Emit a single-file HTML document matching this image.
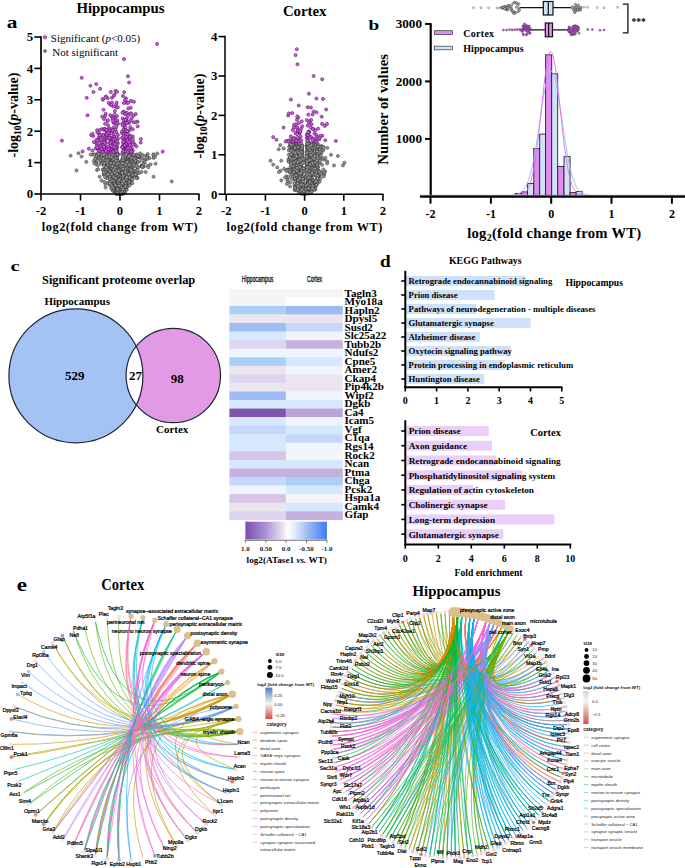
<!DOCTYPE html><html><head><meta charset="utf-8"><title>Figure</title><style>html,body{margin:0;padding:0;background:#fff;overflow:hidden}svg{display:block}.s{font-family:"Liberation Serif", serif;font-weight:normal}.sb{font-family:"Liberation Serif", serif;font-weight:bold}.n{font-family:"Liberation Sans", sans-serif;font-weight:normal}.nb{font-family:"Liberation Sans", sans-serif;font-weight:bold}.k{stroke:#000;stroke-width:0.22px}</style></head><body>
<svg width="685" height="868" viewBox="0 0 685 868">
<rect width="685" height="868" fill="#fff"/>
<text class="sb" font-size="15.7" transform="translate(6.7,28.3) scale(1.36,1)">a</text>
<text class="sb" x="120.5" y="13.2" font-size="14.8" text-anchor="middle">Hippocampus</text>
<text class="sb" x="304.7" y="16.3" font-size="14.8" text-anchor="middle">Cortex</text>
<g fill="#989898" stroke="#2c2c2c" stroke-width="0.5">
<circle cx="112.8" cy="190.5" r="1.55"/><circle cx="125.2" cy="170.2" r="1.55"/><circle cx="117.2" cy="174.4" r="1.55"/><circle cx="118.8" cy="189.4" r="1.55"/><circle cx="114.4" cy="176.4" r="1.55"/><circle cx="111.8" cy="155.0" r="1.55"/><circle cx="123.4" cy="165.6" r="1.55"/><circle cx="129.2" cy="154.3" r="1.55"/><circle cx="128.5" cy="157.6" r="1.55"/><circle cx="115.8" cy="162.4" r="1.55"/><circle cx="113.2" cy="178.7" r="1.55"/><circle cx="110.7" cy="156.0" r="1.55"/><circle cx="104.4" cy="181.8" r="1.55"/><circle cx="112.2" cy="185.1" r="1.55"/><circle cx="125.8" cy="166.1" r="1.55"/><circle cx="122.1" cy="163.0" r="1.55"/><circle cx="124.0" cy="159.3" r="1.55"/><circle cx="123.7" cy="188.0" r="1.55"/><circle cx="115.7" cy="158.4" r="1.55"/><circle cx="137.2" cy="177.7" r="1.55"/><circle cx="113.2" cy="186.6" r="1.55"/><circle cx="127.7" cy="170.9" r="1.55"/><circle cx="109.8" cy="159.3" r="1.55"/><circle cx="109.4" cy="168.5" r="1.55"/><circle cx="125.2" cy="161.9" r="1.55"/><circle cx="128.2" cy="178.9" r="1.55"/><circle cx="126.6" cy="185.3" r="1.55"/><circle cx="110.2" cy="181.9" r="1.55"/><circle cx="132.0" cy="154.6" r="1.55"/><circle cx="126.5" cy="171.8" r="1.55"/><circle cx="105.0" cy="166.2" r="1.55"/><circle cx="115.5" cy="166.7" r="1.55"/><circle cx="131.7" cy="171.4" r="1.55"/><circle cx="115.7" cy="188.9" r="1.55"/><circle cx="125.0" cy="162.4" r="1.55"/><circle cx="112.3" cy="172.5" r="1.55"/><circle cx="118.4" cy="178.1" r="1.55"/><circle cx="137.3" cy="178.0" r="1.55"/><circle cx="103.6" cy="174.4" r="1.55"/><circle cx="111.4" cy="156.4" r="1.55"/><circle cx="104.1" cy="155.3" r="1.55"/><circle cx="130.9" cy="160.8" r="1.55"/><circle cx="136.5" cy="174.3" r="1.55"/><circle cx="117.5" cy="170.7" r="1.55"/><circle cx="133.2" cy="170.2" r="1.55"/><circle cx="126.1" cy="178.1" r="1.55"/><circle cx="121.7" cy="187.1" r="1.55"/><circle cx="128.2" cy="166.8" r="1.55"/><circle cx="153.9" cy="156.0" r="1.55"/><circle cx="126.6" cy="182.6" r="1.55"/><circle cx="128.1" cy="172.1" r="1.55"/><circle cx="118.3" cy="177.1" r="1.55"/><circle cx="114.4" cy="153.2" r="1.55"/><circle cx="108.6" cy="158.0" r="1.55"/><circle cx="118.2" cy="186.9" r="1.55"/><circle cx="122.4" cy="172.0" r="1.55"/><circle cx="132.3" cy="177.0" r="1.55"/><circle cx="126.1" cy="166.7" r="1.55"/><circle cx="132.5" cy="165.3" r="1.55"/><circle cx="100.8" cy="162.8" r="1.55"/><circle cx="127.5" cy="172.9" r="1.55"/><circle cx="105.8" cy="158.4" r="1.55"/><circle cx="119.1" cy="194.0" r="1.55"/><circle cx="112.7" cy="166.0" r="1.55"/><circle cx="98.3" cy="158.2" r="1.55"/><circle cx="126.7" cy="171.0" r="1.55"/><circle cx="107.0" cy="166.7" r="1.55"/><circle cx="117.7" cy="174.4" r="1.55"/><circle cx="115.1" cy="159.0" r="1.55"/><circle cx="108.8" cy="178.0" r="1.55"/><circle cx="117.9" cy="190.8" r="1.55"/><circle cx="122.7" cy="154.7" r="1.55"/><circle cx="128.8" cy="157.5" r="1.55"/><circle cx="121.8" cy="178.4" r="1.55"/><circle cx="117.5" cy="174.1" r="1.55"/><circle cx="122.4" cy="193.5" r="1.55"/><circle cx="134.5" cy="176.2" r="1.55"/><circle cx="105.2" cy="157.8" r="1.55"/><circle cx="113.0" cy="187.1" r="1.55"/><circle cx="117.0" cy="158.0" r="1.55"/><circle cx="137.2" cy="157.6" r="1.55"/><circle cx="133.3" cy="164.9" r="1.55"/><circle cx="126.6" cy="167.9" r="1.55"/><circle cx="109.0" cy="167.4" r="1.55"/><circle cx="139.2" cy="173.1" r="1.55"/><circle cx="128.4" cy="156.3" r="1.55"/><circle cx="115.7" cy="193.5" r="1.55"/><circle cx="121.4" cy="184.3" r="1.55"/><circle cx="102.9" cy="169.5" r="1.55"/><circle cx="120.8" cy="185.4" r="1.55"/><circle cx="111.9" cy="161.0" r="1.55"/><circle cx="115.2" cy="173.6" r="1.55"/><circle cx="119.3" cy="186.2" r="1.55"/><circle cx="117.0" cy="156.9" r="1.55"/><circle cx="122.1" cy="180.7" r="1.55"/><circle cx="96.8" cy="161.5" r="1.55"/><circle cx="118.2" cy="178.3" r="1.55"/><circle cx="125.4" cy="163.5" r="1.55"/><circle cx="100.1" cy="158.6" r="1.55"/><circle cx="116.2" cy="162.3" r="1.55"/><circle cx="136.3" cy="171.7" r="1.55"/><circle cx="117.0" cy="153.4" r="1.55"/><circle cx="149.5" cy="158.1" r="1.55"/><circle cx="128.4" cy="177.7" r="1.55"/><circle cx="125.4" cy="176.6" r="1.55"/><circle cx="106.9" cy="155.5" r="1.55"/><circle cx="129.5" cy="180.4" r="1.55"/><circle cx="109.8" cy="175.7" r="1.55"/><circle cx="124.7" cy="161.1" r="1.55"/><circle cx="116.0" cy="168.9" r="1.55"/><circle cx="129.6" cy="177.0" r="1.55"/><circle cx="132.0" cy="167.4" r="1.55"/><circle cx="118.6" cy="181.6" r="1.55"/><circle cx="113.1" cy="169.8" r="1.55"/><circle cx="124.3" cy="182.0" r="1.55"/><circle cx="105.3" cy="184.1" r="1.55"/><circle cx="111.5" cy="181.9" r="1.55"/><circle cx="142.5" cy="154.9" r="1.55"/><circle cx="137.3" cy="163.0" r="1.55"/><circle cx="122.3" cy="168.1" r="1.55"/><circle cx="130.0" cy="154.7" r="1.55"/><circle cx="116.5" cy="174.8" r="1.55"/><circle cx="117.7" cy="185.6" r="1.55"/><circle cx="130.2" cy="173.3" r="1.55"/><circle cx="153.5" cy="157.9" r="1.55"/><circle cx="128.6" cy="164.6" r="1.55"/><circle cx="122.0" cy="190.5" r="1.55"/><circle cx="118.1" cy="191.7" r="1.55"/><circle cx="115.2" cy="178.9" r="1.55"/><circle cx="117.2" cy="161.8" r="1.55"/><circle cx="112.0" cy="172.6" r="1.55"/><circle cx="118.0" cy="190.6" r="1.55"/><circle cx="117.9" cy="164.1" r="1.55"/><circle cx="124.9" cy="182.0" r="1.55"/><circle cx="117.4" cy="178.8" r="1.55"/><circle cx="116.3" cy="188.0" r="1.55"/><circle cx="115.9" cy="177.8" r="1.55"/><circle cx="139.9" cy="157.5" r="1.55"/><circle cx="132.0" cy="173.9" r="1.55"/><circle cx="111.8" cy="169.9" r="1.55"/><circle cx="121.4" cy="184.1" r="1.55"/><circle cx="122.3" cy="191.4" r="1.55"/><circle cx="144.2" cy="162.1" r="1.55"/><circle cx="128.0" cy="175.6" r="1.55"/><circle cx="123.5" cy="186.6" r="1.55"/><circle cx="118.1" cy="176.8" r="1.55"/><circle cx="117.6" cy="165.3" r="1.55"/><circle cx="112.4" cy="177.8" r="1.55"/><circle cx="117.7" cy="170.4" r="1.55"/><circle cx="120.6" cy="191.9" r="1.55"/><circle cx="115.3" cy="178.7" r="1.55"/><circle cx="103.6" cy="170.8" r="1.55"/><circle cx="107.1" cy="169.0" r="1.55"/><circle cx="118.0" cy="192.4" r="1.55"/><circle cx="119.5" cy="192.1" r="1.55"/><circle cx="128.8" cy="165.0" r="1.55"/><circle cx="126.5" cy="182.8" r="1.55"/><circle cx="120.7" cy="186.1" r="1.55"/><circle cx="113.1" cy="156.0" r="1.55"/><circle cx="130.6" cy="156.9" r="1.55"/><circle cx="137.9" cy="167.5" r="1.55"/><circle cx="119.2" cy="183.3" r="1.55"/><circle cx="118.4" cy="162.9" r="1.55"/><circle cx="96.8" cy="154.0" r="1.55"/><circle cx="115.0" cy="187.4" r="1.55"/><circle cx="123.6" cy="191.5" r="1.55"/><circle cx="118.4" cy="166.7" r="1.55"/><circle cx="121.6" cy="178.1" r="1.55"/><circle cx="125.4" cy="165.2" r="1.55"/><circle cx="124.6" cy="180.7" r="1.55"/><circle cx="111.1" cy="164.0" r="1.55"/><circle cx="119.4" cy="191.2" r="1.55"/><circle cx="114.8" cy="173.4" r="1.55"/><circle cx="116.2" cy="158.7" r="1.55"/><circle cx="118.0" cy="188.0" r="1.55"/><circle cx="122.0" cy="183.7" r="1.55"/><circle cx="120.7" cy="186.6" r="1.55"/><circle cx="123.3" cy="191.3" r="1.55"/><circle cx="122.3" cy="188.6" r="1.55"/><circle cx="131.3" cy="161.8" r="1.55"/><circle cx="113.8" cy="154.6" r="1.55"/><circle cx="133.6" cy="157.4" r="1.55"/><circle cx="124.1" cy="167.7" r="1.55"/><circle cx="104.9" cy="159.5" r="1.55"/><circle cx="115.6" cy="172.4" r="1.55"/><circle cx="98.1" cy="154.3" r="1.55"/><circle cx="103.6" cy="160.5" r="1.55"/><circle cx="121.9" cy="176.4" r="1.55"/><circle cx="123.6" cy="176.1" r="1.55"/><circle cx="113.8" cy="185.2" r="1.55"/><circle cx="103.9" cy="158.3" r="1.55"/><circle cx="110.1" cy="169.3" r="1.55"/><circle cx="128.3" cy="174.7" r="1.55"/><circle cx="112.6" cy="163.6" r="1.55"/><circle cx="113.7" cy="165.0" r="1.55"/><circle cx="124.6" cy="184.6" r="1.55"/><circle cx="123.1" cy="182.3" r="1.55"/><circle cx="121.6" cy="191.4" r="1.55"/><circle cx="157.3" cy="153.5" r="1.55"/><circle cx="117.7" cy="185.9" r="1.55"/><circle cx="105.7" cy="160.3" r="1.55"/><circle cx="136.2" cy="160.9" r="1.55"/><circle cx="117.3" cy="174.9" r="1.55"/><circle cx="122.0" cy="192.3" r="1.55"/><circle cx="123.3" cy="174.5" r="1.55"/><circle cx="110.7" cy="176.8" r="1.55"/><circle cx="125.3" cy="188.9" r="1.55"/><circle cx="118.8" cy="190.7" r="1.55"/><circle cx="113.1" cy="181.6" r="1.55"/><circle cx="122.7" cy="193.4" r="1.55"/><circle cx="103.1" cy="169.8" r="1.55"/><circle cx="121.3" cy="191.0" r="1.55"/><circle cx="134.7" cy="163.5" r="1.55"/><circle cx="123.6" cy="158.2" r="1.55"/><circle cx="114.4" cy="178.8" r="1.55"/><circle cx="117.8" cy="173.2" r="1.55"/><circle cx="121.8" cy="193.3" r="1.55"/><circle cx="118.6" cy="189.8" r="1.55"/><circle cx="111.5" cy="157.0" r="1.55"/><circle cx="134.0" cy="158.9" r="1.55"/><circle cx="124.8" cy="187.8" r="1.55"/><circle cx="118.7" cy="186.6" r="1.55"/><circle cx="121.3" cy="192.5" r="1.55"/><circle cx="116.9" cy="163.9" r="1.55"/><circle cx="119.1" cy="186.6" r="1.55"/><circle cx="134.1" cy="173.3" r="1.55"/><circle cx="119.5" cy="190.4" r="1.55"/><circle cx="114.1" cy="158.6" r="1.55"/><circle cx="132.1" cy="154.5" r="1.55"/><circle cx="108.2" cy="159.9" r="1.55"/><circle cx="107.1" cy="154.6" r="1.55"/><circle cx="113.2" cy="191.0" r="1.55"/><circle cx="121.0" cy="189.8" r="1.55"/><circle cx="105.7" cy="173.8" r="1.55"/><circle cx="100.5" cy="158.1" r="1.55"/><circle cx="122.0" cy="169.4" r="1.55"/><circle cx="121.5" cy="190.0" r="1.55"/><circle cx="117.3" cy="177.0" r="1.55"/><circle cx="121.0" cy="184.0" r="1.55"/><circle cx="142.4" cy="167.0" r="1.55"/><circle cx="117.4" cy="182.9" r="1.55"/><circle cx="130.4" cy="181.9" r="1.55"/><circle cx="117.3" cy="167.7" r="1.55"/><circle cx="112.8" cy="164.5" r="1.55"/><circle cx="116.9" cy="193.9" r="1.55"/><circle cx="123.0" cy="180.0" r="1.55"/><circle cx="116.5" cy="167.6" r="1.55"/><circle cx="116.4" cy="191.1" r="1.55"/><circle cx="127.7" cy="178.0" r="1.55"/><circle cx="117.6" cy="190.0" r="1.55"/><circle cx="113.3" cy="162.7" r="1.55"/><circle cx="127.7" cy="161.6" r="1.55"/><circle cx="123.5" cy="187.3" r="1.55"/><circle cx="117.5" cy="162.2" r="1.55"/><circle cx="116.9" cy="190.8" r="1.55"/><circle cx="125.6" cy="184.3" r="1.55"/><circle cx="112.1" cy="158.7" r="1.55"/><circle cx="112.3" cy="161.5" r="1.55"/><circle cx="121.3" cy="189.7" r="1.55"/><circle cx="121.9" cy="183.7" r="1.55"/><circle cx="118.1" cy="168.6" r="1.55"/><circle cx="115.6" cy="177.7" r="1.55"/><circle cx="112.7" cy="167.4" r="1.55"/><circle cx="117.3" cy="176.1" r="1.55"/><circle cx="131.0" cy="168.0" r="1.55"/><circle cx="126.8" cy="187.2" r="1.55"/><circle cx="118.3" cy="187.5" r="1.55"/><circle cx="130.7" cy="180.1" r="1.55"/><circle cx="116.1" cy="191.7" r="1.55"/><circle cx="112.6" cy="163.3" r="1.55"/><circle cx="116.2" cy="160.6" r="1.55"/><circle cx="135.5" cy="173.5" r="1.55"/><circle cx="107.9" cy="176.7" r="1.55"/><circle cx="121.0" cy="191.5" r="1.55"/><circle cx="111.8" cy="178.5" r="1.55"/><circle cx="127.3" cy="170.7" r="1.55"/><circle cx="124.9" cy="180.6" r="1.55"/><circle cx="109.4" cy="160.3" r="1.55"/><circle cx="130.7" cy="166.4" r="1.55"/><circle cx="123.7" cy="189.2" r="1.55"/><circle cx="123.4" cy="193.2" r="1.55"/><circle cx="121.8" cy="174.6" r="1.55"/><circle cx="121.3" cy="183.9" r="1.55"/><circle cx="129.5" cy="181.4" r="1.55"/><circle cx="115.7" cy="190.7" r="1.55"/><circle cx="106.0" cy="171.0" r="1.55"/><circle cx="121.5" cy="179.2" r="1.55"/><circle cx="128.9" cy="156.1" r="1.55"/><circle cx="130.1" cy="178.9" r="1.55"/><circle cx="128.6" cy="166.6" r="1.55"/><circle cx="130.4" cy="159.4" r="1.55"/><circle cx="118.1" cy="154.1" r="1.55"/><circle cx="118.0" cy="189.6" r="1.55"/><circle cx="111.8" cy="171.4" r="1.55"/><circle cx="130.3" cy="177.2" r="1.55"/><circle cx="126.8" cy="189.8" r="1.55"/><circle cx="124.3" cy="153.2" r="1.55"/><circle cx="128.0" cy="181.7" r="1.55"/><circle cx="109.8" cy="157.8" r="1.55"/><circle cx="124.9" cy="178.0" r="1.55"/><circle cx="122.0" cy="190.7" r="1.55"/><circle cx="121.8" cy="163.7" r="1.55"/><circle cx="113.5" cy="181.0" r="1.55"/><circle cx="108.1" cy="159.1" r="1.55"/><circle cx="116.7" cy="161.2" r="1.55"/><circle cx="106.3" cy="158.7" r="1.55"/><circle cx="123.7" cy="164.1" r="1.55"/><circle cx="122.7" cy="191.5" r="1.55"/><circle cx="115.0" cy="174.2" r="1.55"/><circle cx="135.0" cy="157.0" r="1.55"/><circle cx="116.0" cy="188.8" r="1.55"/><circle cx="131.8" cy="154.0" r="1.55"/><circle cx="110.5" cy="169.4" r="1.55"/><circle cx="118.3" cy="192.2" r="1.55"/><circle cx="119.1" cy="178.8" r="1.55"/><circle cx="124.3" cy="192.0" r="1.55"/><circle cx="113.3" cy="181.5" r="1.55"/><circle cx="113.2" cy="165.1" r="1.55"/><circle cx="117.1" cy="167.0" r="1.55"/><circle cx="94.2" cy="154.3" r="1.55"/><circle cx="123.1" cy="168.6" r="1.55"/><circle cx="114.8" cy="167.3" r="1.55"/><circle cx="113.2" cy="178.2" r="1.55"/><circle cx="118.1" cy="164.9" r="1.55"/><circle cx="122.8" cy="176.3" r="1.55"/><circle cx="123.8" cy="188.7" r="1.55"/><circle cx="113.8" cy="154.3" r="1.55"/><circle cx="107.3" cy="171.4" r="1.55"/><circle cx="95.6" cy="158.0" r="1.55"/><circle cx="127.0" cy="170.8" r="1.55"/><circle cx="110.4" cy="164.0" r="1.55"/><circle cx="125.1" cy="172.2" r="1.55"/><circle cx="113.0" cy="160.3" r="1.55"/><circle cx="110.6" cy="168.4" r="1.55"/><circle cx="124.1" cy="177.8" r="1.55"/><circle cx="124.8" cy="186.1" r="1.55"/><circle cx="99.2" cy="155.2" r="1.55"/><circle cx="120.5" cy="193.0" r="1.55"/><circle cx="155.6" cy="163.7" r="1.55"/><circle cx="126.9" cy="177.1" r="1.55"/><circle cx="86.3" cy="161.9" r="1.55"/><circle cx="131.7" cy="160.7" r="1.55"/><circle cx="126.4" cy="184.2" r="1.55"/><circle cx="121.6" cy="176.6" r="1.55"/><circle cx="115.0" cy="155.0" r="1.55"/><circle cx="103.7" cy="161.6" r="1.55"/><circle cx="121.4" cy="191.9" r="1.55"/><circle cx="127.2" cy="181.1" r="1.55"/><circle cx="114.9" cy="178.4" r="1.55"/><circle cx="114.8" cy="171.0" r="1.55"/><circle cx="109.9" cy="161.1" r="1.55"/><circle cx="124.0" cy="186.7" r="1.55"/><circle cx="123.2" cy="183.0" r="1.55"/><circle cx="108.1" cy="168.7" r="1.55"/><circle cx="123.2" cy="172.3" r="1.55"/><circle cx="122.1" cy="170.7" r="1.55"/><circle cx="96.6" cy="155.9" r="1.55"/><circle cx="112.4" cy="182.4" r="1.55"/><circle cx="105.1" cy="169.8" r="1.55"/><circle cx="125.4" cy="187.4" r="1.55"/><circle cx="138.9" cy="156.7" r="1.55"/><circle cx="117.1" cy="179.4" r="1.55"/><circle cx="111.1" cy="162.4" r="1.55"/><circle cx="132.5" cy="174.2" r="1.55"/><circle cx="108.8" cy="176.1" r="1.55"/><circle cx="112.5" cy="169.0" r="1.55"/><circle cx="109.3" cy="183.8" r="1.55"/><circle cx="111.2" cy="172.1" r="1.55"/><circle cx="118.9" cy="180.7" r="1.55"/><circle cx="118.4" cy="190.5" r="1.55"/><circle cx="102.1" cy="156.5" r="1.55"/><circle cx="124.9" cy="180.5" r="1.55"/><circle cx="108.4" cy="167.5" r="1.55"/><circle cx="116.4" cy="188.4" r="1.55"/><circle cx="100.5" cy="154.2" r="1.55"/><circle cx="108.9" cy="182.6" r="1.55"/><circle cx="106.4" cy="158.2" r="1.55"/><circle cx="113.9" cy="167.8" r="1.55"/><circle cx="141.1" cy="166.1" r="1.55"/><circle cx="132.1" cy="163.9" r="1.55"/><circle cx="113.9" cy="183.7" r="1.55"/><circle cx="128.2" cy="175.4" r="1.55"/><circle cx="125.7" cy="181.5" r="1.55"/><circle cx="116.7" cy="169.7" r="1.55"/><circle cx="102.1" cy="163.0" r="1.55"/><circle cx="121.0" cy="189.0" r="1.55"/><circle cx="118.1" cy="187.0" r="1.55"/><circle cx="123.3" cy="190.6" r="1.55"/><circle cx="99.1" cy="155.0" r="1.55"/><circle cx="114.2" cy="171.9" r="1.55"/><circle cx="122.8" cy="186.0" r="1.55"/><circle cx="136.7" cy="172.6" r="1.55"/><circle cx="116.3" cy="190.0" r="1.55"/><circle cx="132.4" cy="171.3" r="1.55"/><circle cx="112.1" cy="153.5" r="1.55"/><circle cx="125.8" cy="180.3" r="1.55"/><circle cx="116.9" cy="181.3" r="1.55"/><circle cx="118.7" cy="174.2" r="1.55"/><circle cx="123.7" cy="186.0" r="1.55"/><circle cx="126.0" cy="166.7" r="1.55"/><circle cx="124.7" cy="162.8" r="1.55"/><circle cx="127.8" cy="172.8" r="1.55"/><circle cx="123.8" cy="155.4" r="1.55"/><circle cx="118.5" cy="165.3" r="1.55"/><circle cx="126.0" cy="167.7" r="1.55"/><circle cx="132.3" cy="154.0" r="1.55"/><circle cx="133.6" cy="157.8" r="1.55"/><circle cx="140.1" cy="153.4" r="1.55"/><circle cx="116.3" cy="190.5" r="1.55"/><circle cx="134.8" cy="160.9" r="1.55"/><circle cx="115.8" cy="175.5" r="1.55"/><circle cx="115.4" cy="172.0" r="1.55"/><circle cx="110.6" cy="181.8" r="1.55"/><circle cx="124.5" cy="180.1" r="1.55"/><circle cx="109.4" cy="161.8" r="1.55"/><circle cx="119.5" cy="193.0" r="1.55"/><circle cx="110.0" cy="171.2" r="1.55"/><circle cx="118.1" cy="154.5" r="1.55"/><circle cx="94.0" cy="160.7" r="1.55"/><circle cx="132.7" cy="163.3" r="1.55"/><circle cx="118.8" cy="185.8" r="1.55"/><circle cx="153.5" cy="154.3" r="1.55"/><circle cx="118.2" cy="192.8" r="1.55"/><circle cx="108.3" cy="168.9" r="1.55"/><circle cx="125.7" cy="167.5" r="1.55"/><circle cx="127.6" cy="165.3" r="1.55"/><circle cx="121.9" cy="173.5" r="1.55"/><circle cx="130.9" cy="164.0" r="1.55"/><circle cx="118.2" cy="162.7" r="1.55"/><circle cx="118.6" cy="182.0" r="1.55"/><circle cx="107.0" cy="169.4" r="1.55"/><circle cx="98.5" cy="154.0" r="1.55"/><circle cx="126.2" cy="166.7" r="1.55"/><circle cx="116.7" cy="184.2" r="1.55"/><circle cx="108.4" cy="157.8" r="1.55"/><circle cx="99.2" cy="158.4" r="1.55"/><circle cx="114.9" cy="163.4" r="1.55"/><circle cx="130.9" cy="175.7" r="1.55"/><circle cx="125.3" cy="156.3" r="1.55"/><circle cx="116.3" cy="187.0" r="1.55"/><circle cx="129.3" cy="155.2" r="1.55"/><circle cx="123.2" cy="156.7" r="1.55"/><circle cx="112.4" cy="175.0" r="1.55"/><circle cx="112.2" cy="159.7" r="1.55"/><circle cx="118.9" cy="176.7" r="1.55"/><circle cx="126.7" cy="176.7" r="1.55"/><circle cx="126.3" cy="175.3" r="1.55"/><circle cx="114.5" cy="180.6" r="1.55"/><circle cx="107.2" cy="172.7" r="1.55"/><circle cx="155.1" cy="156.8" r="1.55"/><circle cx="106.3" cy="158.1" r="1.55"/><circle cx="122.5" cy="164.3" r="1.55"/><circle cx="120.5" cy="190.7" r="1.55"/><circle cx="127.2" cy="172.1" r="1.55"/><circle cx="127.1" cy="164.8" r="1.55"/><circle cx="118.9" cy="186.8" r="1.55"/><circle cx="121.3" cy="186.8" r="1.55"/><circle cx="119.3" cy="185.9" r="1.55"/><circle cx="121.5" cy="193.7" r="1.55"/><circle cx="123.5" cy="172.3" r="1.55"/><circle cx="112.1" cy="187.8" r="1.55"/><circle cx="115.2" cy="156.4" r="1.55"/><circle cx="127.4" cy="156.7" r="1.55"/><circle cx="131.2" cy="160.9" r="1.55"/><circle cx="115.5" cy="174.5" r="1.55"/><circle cx="109.2" cy="157.3" r="1.55"/><circle cx="121.6" cy="183.7" r="1.55"/><circle cx="124.7" cy="169.7" r="1.55"/><circle cx="127.2" cy="183.7" r="1.55"/><circle cx="122.2" cy="189.8" r="1.55"/><circle cx="129.9" cy="171.7" r="1.55"/><circle cx="136.4" cy="178.3" r="1.55"/><circle cx="127.1" cy="173.0" r="1.55"/><circle cx="126.2" cy="157.8" r="1.55"/><circle cx="105.9" cy="160.9" r="1.55"/><circle cx="118.9" cy="175.4" r="1.55"/><circle cx="134.4" cy="162.3" r="1.55"/><circle cx="124.6" cy="183.9" r="1.55"/><circle cx="121.5" cy="188.2" r="1.55"/><circle cx="122.7" cy="188.7" r="1.55"/><circle cx="118.9" cy="176.3" r="1.55"/><circle cx="124.5" cy="157.7" r="1.55"/><circle cx="116.6" cy="163.0" r="1.55"/><circle cx="121.7" cy="189.2" r="1.55"/><circle cx="119.3" cy="186.4" r="1.55"/><circle cx="128.5" cy="160.6" r="1.55"/><circle cx="125.0" cy="175.6" r="1.55"/><circle cx="102.9" cy="159.6" r="1.55"/><circle cx="108.2" cy="154.7" r="1.55"/><circle cx="92.4" cy="154.7" r="1.55"/><circle cx="114.0" cy="163.7" r="1.55"/><circle cx="135.9" cy="165.5" r="1.55"/><circle cx="130.1" cy="179.6" r="1.55"/><circle cx="115.8" cy="170.3" r="1.55"/><circle cx="116.0" cy="155.8" r="1.55"/><circle cx="128.3" cy="160.9" r="1.55"/><circle cx="134.4" cy="161.1" r="1.55"/><circle cx="116.7" cy="180.1" r="1.55"/><circle cx="113.3" cy="160.5" r="1.55"/><circle cx="134.3" cy="173.8" r="1.55"/><circle cx="126.7" cy="187.0" r="1.55"/><circle cx="124.5" cy="175.5" r="1.55"/><circle cx="109.0" cy="159.1" r="1.55"/><circle cx="129.2" cy="153.3" r="1.55"/><circle cx="119.2" cy="187.3" r="1.55"/><circle cx="116.4" cy="193.8" r="1.55"/><circle cx="125.3" cy="176.8" r="1.55"/><circle cx="116.6" cy="163.2" r="1.55"/><circle cx="107.6" cy="156.6" r="1.55"/><circle cx="121.5" cy="193.3" r="1.55"/><circle cx="147.9" cy="165.7" r="1.55"/><circle cx="112.6" cy="174.5" r="1.55"/><circle cx="117.2" cy="189.4" r="1.55"/><circle cx="119.6" cy="192.9" r="1.55"/><circle cx="121.4" cy="169.8" r="1.55"/><circle cx="122.8" cy="171.0" r="1.55"/><circle cx="109.7" cy="171.4" r="1.55"/><circle cx="119.5" cy="193.3" r="1.55"/><circle cx="126.0" cy="179.1" r="1.55"/><circle cx="137.7" cy="156.4" r="1.55"/><circle cx="115.8" cy="186.6" r="1.55"/><circle cx="132.8" cy="175.4" r="1.55"/><circle cx="117.4" cy="182.7" r="1.55"/><circle cx="116.5" cy="175.7" r="1.55"/><circle cx="124.4" cy="180.8" r="1.55"/><circle cx="104.3" cy="173.9" r="1.55"/><circle cx="106.8" cy="160.4" r="1.55"/><circle cx="125.9" cy="186.8" r="1.55"/><circle cx="121.5" cy="181.7" r="1.55"/><circle cx="107.0" cy="173.4" r="1.55"/><circle cx="115.6" cy="184.6" r="1.55"/><circle cx="111.3" cy="181.9" r="1.55"/><circle cx="123.5" cy="179.2" r="1.55"/><circle cx="108.4" cy="161.3" r="1.55"/><circle cx="107.5" cy="173.7" r="1.55"/><circle cx="131.9" cy="170.7" r="1.55"/><circle cx="105.6" cy="171.9" r="1.55"/><circle cx="126.5" cy="158.1" r="1.55"/><circle cx="117.8" cy="170.6" r="1.55"/><circle cx="125.1" cy="178.7" r="1.55"/><circle cx="121.1" cy="190.2" r="1.55"/><circle cx="125.2" cy="184.9" r="1.55"/><circle cx="145.7" cy="155.7" r="1.55"/><circle cx="142.2" cy="158.3" r="1.55"/><circle cx="124.8" cy="166.0" r="1.55"/><circle cx="119.0" cy="181.9" r="1.55"/><circle cx="125.5" cy="188.9" r="1.55"/><circle cx="107.7" cy="159.8" r="1.55"/><circle cx="122.0" cy="192.5" r="1.55"/><circle cx="116.9" cy="186.6" r="1.55"/><circle cx="109.8" cy="185.1" r="1.55"/><circle cx="121.4" cy="169.4" r="1.55"/><circle cx="126.7" cy="169.1" r="1.55"/><circle cx="113.5" cy="189.8" r="1.55"/><circle cx="134.9" cy="174.8" r="1.55"/><circle cx="121.3" cy="181.6" r="1.55"/><circle cx="117.8" cy="191.1" r="1.55"/><circle cx="122.2" cy="192.9" r="1.55"/><circle cx="115.2" cy="176.7" r="1.55"/><circle cx="118.3" cy="181.7" r="1.55"/><circle cx="121.3" cy="184.9" r="1.55"/><circle cx="110.3" cy="154.9" r="1.55"/><circle cx="121.6" cy="190.3" r="1.55"/><circle cx="141.6" cy="165.6" r="1.55"/><circle cx="123.6" cy="186.3" r="1.55"/><circle cx="107.9" cy="182.9" r="1.55"/><circle cx="121.4" cy="186.3" r="1.55"/><circle cx="147.7" cy="154.1" r="1.55"/><circle cx="126.6" cy="159.1" r="1.55"/><circle cx="112.2" cy="176.2" r="1.55"/><circle cx="111.4" cy="165.4" r="1.55"/><circle cx="117.2" cy="154.1" r="1.55"/><circle cx="115.8" cy="171.3" r="1.55"/><circle cx="95.4" cy="162.7" r="1.55"/><circle cx="122.3" cy="185.1" r="1.55"/><circle cx="115.7" cy="179.2" r="1.55"/><circle cx="110.0" cy="166.9" r="1.55"/><circle cx="130.1" cy="169.5" r="1.55"/><circle cx="116.8" cy="192.2" r="1.55"/><circle cx="110.0" cy="153.7" r="1.55"/><circle cx="112.8" cy="160.5" r="1.55"/><circle cx="132.3" cy="183.3" r="1.55"/><circle cx="128.0" cy="177.9" r="1.55"/><circle cx="132.9" cy="161.7" r="1.55"/><circle cx="114.2" cy="170.9" r="1.55"/><circle cx="113.6" cy="155.0" r="1.55"/><circle cx="121.5" cy="168.7" r="1.55"/><circle cx="116.8" cy="157.5" r="1.55"/><circle cx="153.4" cy="154.8" r="1.55"/><circle cx="119.1" cy="192.6" r="1.55"/><circle cx="114.1" cy="178.4" r="1.55"/><circle cx="127.3" cy="172.0" r="1.55"/><circle cx="122.1" cy="190.9" r="1.55"/><circle cx="121.6" cy="190.0" r="1.55"/><circle cx="121.8" cy="189.5" r="1.55"/><circle cx="117.5" cy="153.5" r="1.55"/><circle cx="117.5" cy="164.1" r="1.55"/><circle cx="126.9" cy="178.1" r="1.55"/><circle cx="107.6" cy="154.6" r="1.55"/><circle cx="129.0" cy="164.3" r="1.55"/><circle cx="111.9" cy="156.8" r="1.55"/><circle cx="121.7" cy="192.6" r="1.55"/><circle cx="124.9" cy="187.5" r="1.55"/><circle cx="123.8" cy="189.4" r="1.55"/><circle cx="133.4" cy="170.4" r="1.55"/><circle cx="132.6" cy="170.9" r="1.55"/><circle cx="111.0" cy="168.5" r="1.55"/><circle cx="113.4" cy="153.9" r="1.55"/><circle cx="95.9" cy="164.2" r="1.55"/><circle cx="100.6" cy="160.1" r="1.55"/><circle cx="124.8" cy="177.1" r="1.55"/><circle cx="118.7" cy="188.3" r="1.55"/><circle cx="105.7" cy="163.9" r="1.55"/><circle cx="121.1" cy="183.1" r="1.55"/><circle cx="106.7" cy="156.7" r="1.55"/><circle cx="118.4" cy="189.2" r="1.55"/><circle cx="127.9" cy="165.3" r="1.55"/><circle cx="111.6" cy="168.0" r="1.55"/><circle cx="134.8" cy="161.7" r="1.55"/><circle cx="115.7" cy="157.3" r="1.55"/><circle cx="122.4" cy="185.2" r="1.55"/><circle cx="125.5" cy="158.1" r="1.55"/><circle cx="114.4" cy="161.7" r="1.55"/><circle cx="101.6" cy="163.9" r="1.55"/><circle cx="127.8" cy="183.1" r="1.55"/><circle cx="121.7" cy="193.2" r="1.55"/><circle cx="122.2" cy="173.9" r="1.55"/><circle cx="137.4" cy="167.4" r="1.55"/><circle cx="117.5" cy="160.7" r="1.55"/><circle cx="125.0" cy="181.3" r="1.55"/><circle cx="117.0" cy="186.0" r="1.55"/><circle cx="106.9" cy="155.4" r="1.55"/><circle cx="109.6" cy="166.4" r="1.55"/><circle cx="125.2" cy="187.0" r="1.55"/><circle cx="127.7" cy="172.2" r="1.55"/><circle cx="90.7" cy="154.5" r="1.55"/><circle cx="136.5" cy="154.4" r="1.55"/><circle cx="117.2" cy="161.8" r="1.55"/><circle cx="107.2" cy="165.5" r="1.55"/><circle cx="121.2" cy="190.8" r="1.55"/><circle cx="125.1" cy="174.2" r="1.55"/><circle cx="124.4" cy="179.7" r="1.55"/><circle cx="122.3" cy="178.7" r="1.55"/><circle cx="125.2" cy="166.5" r="1.55"/><circle cx="121.4" cy="177.4" r="1.55"/><circle cx="114.2" cy="176.5" r="1.55"/><circle cx="118.4" cy="189.0" r="1.55"/><circle cx="117.3" cy="160.2" r="1.55"/><circle cx="131.7" cy="158.6" r="1.55"/><circle cx="129.5" cy="180.3" r="1.55"/><circle cx="118.4" cy="171.2" r="1.55"/><circle cx="128.7" cy="162.8" r="1.55"/><circle cx="122.5" cy="179.4" r="1.55"/><circle cx="122.1" cy="192.5" r="1.55"/><circle cx="113.1" cy="182.3" r="1.55"/><circle cx="111.2" cy="183.1" r="1.55"/><circle cx="117.3" cy="166.6" r="1.55"/><circle cx="129.3" cy="165.4" r="1.55"/><circle cx="113.8" cy="157.7" r="1.55"/><circle cx="122.3" cy="165.0" r="1.55"/><circle cx="135.9" cy="170.5" r="1.55"/><circle cx="130.3" cy="175.7" r="1.55"/><circle cx="112.0" cy="178.3" r="1.55"/><circle cx="126.7" cy="186.8" r="1.55"/><circle cx="105.6" cy="187.5" r="1.55"/><circle cx="114.0" cy="168.4" r="1.55"/><circle cx="123.8" cy="154.1" r="1.55"/><circle cx="109.8" cy="155.5" r="1.55"/><circle cx="122.2" cy="186.4" r="1.55"/><circle cx="131.6" cy="173.4" r="1.55"/><circle cx="116.0" cy="190.3" r="1.55"/><circle cx="114.0" cy="161.6" r="1.55"/><circle cx="103.8" cy="170.9" r="1.55"/><circle cx="121.0" cy="176.4" r="1.55"/><circle cx="116.3" cy="175.3" r="1.55"/><circle cx="131.2" cy="163.2" r="1.55"/><circle cx="124.8" cy="176.7" r="1.55"/><circle cx="104.5" cy="155.4" r="1.55"/><circle cx="126.1" cy="158.8" r="1.55"/><circle cx="131.9" cy="159.6" r="1.55"/><circle cx="122.6" cy="188.3" r="1.55"/><circle cx="123.1" cy="183.6" r="1.55"/><circle cx="119.1" cy="179.0" r="1.55"/><circle cx="118.6" cy="193.7" r="1.55"/><circle cx="122.2" cy="154.1" r="1.55"/><circle cx="123.3" cy="185.0" r="1.55"/><circle cx="124.3" cy="183.3" r="1.55"/><circle cx="123.2" cy="188.6" r="1.55"/><circle cx="145.3" cy="159.7" r="1.55"/><circle cx="106.4" cy="162.6" r="1.55"/><circle cx="114.7" cy="182.1" r="1.55"/><circle cx="124.5" cy="159.5" r="1.55"/><circle cx="115.5" cy="177.6" r="1.55"/><circle cx="110.8" cy="166.6" r="1.55"/><circle cx="115.4" cy="154.8" r="1.55"/><circle cx="120.9" cy="181.9" r="1.55"/><circle cx="119.1" cy="180.9" r="1.55"/><circle cx="127.5" cy="181.2" r="1.55"/><circle cx="121.7" cy="180.6" r="1.55"/><circle cx="120.5" cy="192.0" r="1.55"/><circle cx="116.2" cy="190.2" r="1.55"/><circle cx="127.4" cy="166.8" r="1.55"/><circle cx="116.4" cy="177.9" r="1.55"/><circle cx="147.3" cy="158.9" r="1.55"/><circle cx="118.8" cy="175.6" r="1.55"/><circle cx="126.3" cy="164.3" r="1.55"/><circle cx="138.5" cy="156.6" r="1.55"/><circle cx="115.9" cy="179.4" r="1.55"/><circle cx="135.3" cy="160.3" r="1.55"/><circle cx="119.0" cy="190.7" r="1.55"/><circle cx="118.9" cy="190.4" r="1.55"/><circle cx="94.3" cy="163.2" r="1.55"/><circle cx="106.1" cy="175.5" r="1.55"/><circle cx="127.2" cy="179.1" r="1.55"/><circle cx="103.1" cy="162.2" r="1.55"/><circle cx="121.6" cy="167.5" r="1.55"/><circle cx="111.3" cy="179.2" r="1.55"/><circle cx="124.0" cy="179.6" r="1.55"/><circle cx="116.5" cy="165.2" r="1.55"/><circle cx="121.4" cy="192.4" r="1.55"/><circle cx="118.4" cy="190.7" r="1.55"/><circle cx="115.1" cy="155.5" r="1.55"/><circle cx="122.5" cy="188.0" r="1.55"/><circle cx="122.1" cy="173.9" r="1.55"/><circle cx="129.4" cy="179.0" r="1.55"/><circle cx="122.8" cy="176.8" r="1.55"/><circle cx="115.9" cy="168.8" r="1.55"/><circle cx="141.6" cy="171.9" r="1.55"/><circle cx="137.6" cy="170.3" r="1.55"/><circle cx="127.1" cy="164.9" r="1.55"/><circle cx="123.4" cy="178.8" r="1.55"/><circle cx="114.5" cy="181.8" r="1.55"/><circle cx="117.2" cy="154.3" r="1.55"/><circle cx="115.9" cy="167.2" r="1.55"/><circle cx="124.8" cy="177.7" r="1.55"/><circle cx="106.8" cy="166.2" r="1.55"/><circle cx="130.6" cy="154.8" r="1.55"/><circle cx="105.8" cy="159.1" r="1.55"/><circle cx="116.8" cy="169.9" r="1.55"/><circle cx="107.3" cy="166.4" r="1.55"/><circle cx="109.2" cy="165.0" r="1.55"/><circle cx="116.4" cy="183.5" r="1.55"/><circle cx="116.9" cy="186.9" r="1.55"/><circle cx="133.6" cy="154.7" r="1.55"/><circle cx="121.5" cy="188.2" r="1.55"/><circle cx="123.9" cy="187.7" r="1.55"/><circle cx="125.0" cy="175.5" r="1.55"/><circle cx="112.6" cy="168.6" r="1.55"/><circle cx="125.1" cy="193.1" r="1.55"/><circle cx="116.9" cy="192.4" r="1.55"/><circle cx="147.2" cy="156.5" r="1.55"/><circle cx="125.6" cy="186.2" r="1.55"/><circle cx="112.5" cy="172.0" r="1.55"/><circle cx="139.8" cy="161.2" r="1.55"/><circle cx="101.5" cy="180.5" r="1.55"/><circle cx="126.5" cy="179.4" r="1.55"/><circle cx="121.2" cy="191.7" r="1.55"/><circle cx="133.1" cy="158.6" r="1.55"/><circle cx="128.4" cy="182.7" r="1.55"/><circle cx="121.2" cy="191.6" r="1.55"/><circle cx="113.2" cy="171.4" r="1.55"/><circle cx="117.9" cy="160.9" r="1.55"/><circle cx="113.5" cy="165.7" r="1.55"/><circle cx="114.0" cy="182.8" r="1.55"/><circle cx="121.5" cy="178.5" r="1.55"/><circle cx="107.6" cy="163.8" r="1.55"/><circle cx="115.3" cy="168.9" r="1.55"/><circle cx="117.8" cy="181.9" r="1.55"/><circle cx="125.4" cy="156.2" r="1.55"/><circle cx="118.8" cy="170.9" r="1.55"/><circle cx="114.6" cy="183.2" r="1.55"/><circle cx="95.2" cy="158.7" r="1.55"/><circle cx="117.1" cy="175.4" r="1.55"/><circle cx="126.2" cy="183.9" r="1.55"/><circle cx="121.7" cy="182.1" r="1.55"/><circle cx="122.3" cy="190.7" r="1.55"/><circle cx="113.5" cy="187.9" r="1.55"/><circle cx="119.3" cy="192.1" r="1.55"/><circle cx="127.3" cy="168.4" r="1.55"/><circle cx="127.0" cy="178.9" r="1.55"/><circle cx="110.0" cy="154.7" r="1.55"/><circle cx="97.0" cy="170.0" r="1.55"/><circle cx="126.9" cy="170.3" r="1.55"/><circle cx="131.0" cy="172.1" r="1.55"/><circle cx="121.6" cy="160.9" r="1.55"/><circle cx="111.8" cy="157.1" r="1.55"/><circle cx="124.0" cy="191.1" r="1.55"/><circle cx="121.1" cy="187.3" r="1.55"/><circle cx="116.9" cy="190.6" r="1.55"/><circle cx="143.9" cy="166.6" r="1.55"/><circle cx="109.6" cy="176.3" r="1.55"/><circle cx="122.6" cy="184.4" r="1.55"/><circle cx="111.9" cy="167.9" r="1.55"/><circle cx="111.2" cy="188.2" r="1.55"/><circle cx="121.9" cy="171.5" r="1.55"/><circle cx="116.9" cy="189.1" r="1.55"/><circle cx="112.1" cy="164.1" r="1.55"/><circle cx="125.2" cy="184.9" r="1.55"/><circle cx="128.7" cy="183.0" r="1.55"/><circle cx="125.5" cy="177.9" r="1.55"/><circle cx="129.6" cy="185.4" r="1.55"/><circle cx="128.7" cy="154.0" r="1.55"/><circle cx="118.1" cy="174.2" r="1.55"/><circle cx="118.5" cy="175.2" r="1.55"/><circle cx="133.8" cy="166.2" r="1.55"/><circle cx="143.4" cy="166.4" r="1.55"/><circle cx="98.2" cy="169.2" r="1.55"/><circle cx="118.5" cy="163.3" r="1.55"/><circle cx="113.6" cy="180.8" r="1.55"/><circle cx="101.3" cy="157.0" r="1.55"/><circle cx="125.8" cy="164.5" r="1.55"/><circle cx="101.9" cy="155.2" r="1.55"/><circle cx="134.3" cy="158.4" r="1.55"/><circle cx="122.7" cy="167.0" r="1.55"/><circle cx="117.7" cy="190.1" r="1.55"/><circle cx="106.6" cy="155.3" r="1.55"/><circle cx="125.0" cy="182.7" r="1.55"/><circle cx="81.6" cy="156.5" r="1.55"/><circle cx="114.6" cy="176.8" r="1.55"/><circle cx="121.5" cy="181.1" r="1.55"/><circle cx="119.1" cy="182.9" r="1.55"/><circle cx="123.9" cy="174.8" r="1.55"/><circle cx="115.4" cy="172.4" r="1.55"/><circle cx="129.9" cy="179.0" r="1.55"/><circle cx="115.1" cy="175.8" r="1.55"/><circle cx="113.7" cy="155.3" r="1.55"/><circle cx="127.4" cy="175.9" r="1.55"/><circle cx="137.9" cy="156.4" r="1.55"/><circle cx="144.2" cy="160.7" r="1.55"/><circle cx="129.0" cy="156.4" r="1.55"/><circle cx="116.2" cy="171.4" r="1.55"/><circle cx="112.6" cy="154.8" r="1.55"/><circle cx="124.5" cy="175.2" r="1.55"/><circle cx="106.5" cy="157.3" r="1.55"/><circle cx="119.1" cy="180.3" r="1.55"/><circle cx="119.2" cy="190.3" r="1.55"/><circle cx="122.7" cy="155.6" r="1.55"/><circle cx="114.8" cy="161.6" r="1.55"/><circle cx="124.9" cy="179.4" r="1.55"/><circle cx="119.1" cy="190.2" r="1.55"/><circle cx="117.4" cy="191.3" r="1.55"/><circle cx="129.4" cy="162.9" r="1.55"/><circle cx="121.9" cy="184.3" r="1.55"/><circle cx="132.6" cy="174.6" r="1.55"/><circle cx="111.3" cy="180.3" r="1.55"/><circle cx="127.0" cy="161.5" r="1.55"/><circle cx="131.5" cy="161.1" r="1.55"/><circle cx="124.8" cy="178.3" r="1.55"/><circle cx="109.4" cy="156.6" r="1.55"/><circle cx="115.2" cy="185.3" r="1.55"/><circle cx="111.7" cy="157.1" r="1.55"/><circle cx="123.9" cy="159.3" r="1.55"/><circle cx="109.5" cy="178.6" r="1.55"/><circle cx="113.3" cy="188.1" r="1.55"/><circle cx="116.4" cy="191.7" r="1.55"/><circle cx="113.8" cy="163.2" r="1.55"/><circle cx="123.1" cy="178.1" r="1.55"/><circle cx="118.8" cy="192.5" r="1.55"/><circle cx="131.3" cy="157.2" r="1.55"/><circle cx="122.0" cy="193.2" r="1.55"/><circle cx="116.9" cy="157.7" r="1.55"/><circle cx="121.7" cy="159.8" r="1.55"/><circle cx="122.2" cy="191.8" r="1.55"/><circle cx="104.9" cy="158.6" r="1.55"/><circle cx="115.2" cy="158.1" r="1.55"/><circle cx="104.0" cy="172.6" r="1.55"/><circle cx="111.5" cy="165.7" r="1.55"/><circle cx="118.4" cy="184.7" r="1.55"/><circle cx="117.1" cy="185.4" r="1.55"/><circle cx="121.4" cy="192.7" r="1.55"/><circle cx="126.4" cy="173.7" r="1.55"/><circle cx="121.5" cy="192.1" r="1.55"/><circle cx="106.1" cy="167.4" r="1.55"/><circle cx="111.4" cy="183.0" r="1.55"/><circle cx="142.5" cy="164.9" r="1.55"/><circle cx="129.2" cy="175.9" r="1.55"/><circle cx="102.7" cy="159.7" r="1.55"/><circle cx="129.2" cy="177.7" r="1.55"/><circle cx="117.7" cy="188.5" r="1.55"/><circle cx="122.5" cy="163.3" r="1.55"/><circle cx="125.4" cy="169.0" r="1.55"/><circle cx="132.7" cy="174.9" r="1.55"/><circle cx="121.0" cy="190.3" r="1.55"/><circle cx="126.8" cy="171.7" r="1.55"/><circle cx="119.5" cy="189.7" r="1.55"/><circle cx="113.8" cy="178.0" r="1.55"/><circle cx="118.3" cy="185.5" r="1.55"/><circle cx="135.7" cy="174.4" r="1.55"/><circle cx="117.9" cy="183.2" r="1.55"/><circle cx="121.8" cy="172.3" r="1.55"/><circle cx="137.8" cy="155.7" r="1.55"/><circle cx="115.4" cy="178.7" r="1.55"/><circle cx="117.8" cy="189.0" r="1.55"/><circle cx="130.5" cy="165.1" r="1.55"/><circle cx="115.1" cy="167.5" r="1.55"/><circle cx="113.6" cy="176.7" r="1.55"/><circle cx="104.3" cy="163.3" r="1.55"/><circle cx="116.6" cy="192.2" r="1.55"/><circle cx="144.8" cy="162.4" r="1.55"/><circle cx="114.9" cy="172.7" r="1.55"/><circle cx="128.2" cy="158.2" r="1.55"/><circle cx="121.3" cy="184.2" r="1.55"/><circle cx="114.8" cy="184.0" r="1.55"/><circle cx="123.2" cy="175.9" r="1.55"/><circle cx="125.3" cy="182.9" r="1.55"/><circle cx="116.9" cy="174.9" r="1.55"/><circle cx="127.9" cy="157.8" r="1.55"/><circle cx="117.2" cy="191.8" r="1.55"/><circle cx="112.3" cy="186.7" r="1.55"/><circle cx="121.4" cy="185.0" r="1.55"/><circle cx="129.6" cy="161.5" r="1.55"/><circle cx="129.3" cy="181.8" r="1.55"/><circle cx="123.9" cy="181.8" r="1.55"/><circle cx="105.5" cy="174.9" r="1.55"/><circle cx="131.8" cy="180.0" r="1.55"/><circle cx="132.3" cy="179.3" r="1.55"/><circle cx="125.5" cy="178.0" r="1.55"/><circle cx="123.2" cy="192.9" r="1.55"/><circle cx="122.5" cy="180.2" r="1.55"/><circle cx="123.1" cy="193.7" r="1.55"/><circle cx="122.9" cy="160.0" r="1.55"/><circle cx="130.5" cy="157.3" r="1.55"/><circle cx="130.9" cy="159.2" r="1.55"/><circle cx="115.7" cy="178.0" r="1.55"/><circle cx="116.0" cy="160.5" r="1.55"/><circle cx="124.0" cy="172.3" r="1.55"/><circle cx="116.6" cy="185.3" r="1.55"/><circle cx="121.2" cy="191.7" r="1.55"/><circle cx="129.7" cy="177.5" r="1.55"/><circle cx="116.8" cy="185.5" r="1.55"/><circle cx="108.0" cy="174.4" r="1.55"/><circle cx="97.9" cy="165.3" r="1.55"/><circle cx="113.5" cy="159.1" r="1.55"/><circle cx="116.8" cy="163.9" r="1.55"/><circle cx="128.1" cy="157.1" r="1.55"/><circle cx="125.7" cy="179.2" r="1.55"/><circle cx="116.4" cy="185.5" r="1.55"/><circle cx="123.1" cy="168.9" r="1.55"/><circle cx="110.1" cy="181.5" r="1.55"/><circle cx="110.1" cy="162.8" r="1.55"/><circle cx="128.9" cy="162.2" r="1.55"/><circle cx="126.3" cy="172.6" r="1.55"/><circle cx="119.4" cy="193.3" r="1.55"/><circle cx="122.3" cy="181.0" r="1.55"/><circle cx="111.4" cy="185.0" r="1.55"/><circle cx="133.9" cy="164.5" r="1.55"/><circle cx="103.1" cy="158.5" r="1.55"/><circle cx="143.4" cy="164.3" r="1.55"/><circle cx="142.2" cy="166.8" r="1.55"/><circle cx="114.0" cy="169.5" r="1.55"/><circle cx="136.4" cy="165.6" r="1.55"/><circle cx="118.5" cy="191.2" r="1.55"/><circle cx="130.7" cy="157.7" r="1.55"/><circle cx="105.7" cy="160.6" r="1.55"/><circle cx="122.4" cy="173.2" r="1.55"/><circle cx="146.8" cy="157.4" r="1.55"/><circle cx="117.1" cy="191.4" r="1.55"/><circle cx="122.0" cy="193.7" r="1.55"/><circle cx="107.4" cy="162.3" r="1.55"/><circle cx="125.5" cy="186.3" r="1.55"/><circle cx="115.5" cy="185.3" r="1.55"/><circle cx="131.5" cy="157.5" r="1.55"/><circle cx="110.9" cy="163.1" r="1.55"/><circle cx="103.9" cy="165.8" r="1.55"/><circle cx="126.9" cy="161.1" r="1.55"/><circle cx="99.6" cy="176.7" r="1.55"/><circle cx="107.5" cy="160.3" r="1.55"/><circle cx="150.6" cy="164.3" r="1.55"/><circle cx="123.0" cy="189.1" r="1.55"/><circle cx="122.5" cy="183.2" r="1.55"/><circle cx="121.1" cy="191.8" r="1.55"/><circle cx="122.7" cy="192.9" r="1.55"/><circle cx="123.0" cy="157.6" r="1.55"/><circle cx="103.7" cy="154.9" r="1.55"/><circle cx="107.0" cy="178.2" r="1.55"/><circle cx="127.4" cy="161.0" r="1.55"/><circle cx="105.0" cy="177.1" r="1.55"/><circle cx="109.8" cy="183.5" r="1.55"/><circle cx="125.1" cy="171.7" r="1.55"/><circle cx="122.0" cy="191.9" r="1.55"/><circle cx="117.3" cy="192.4" r="1.55"/><circle cx="127.8" cy="162.1" r="1.55"/><circle cx="120.8" cy="193.2" r="1.55"/><circle cx="119.3" cy="184.5" r="1.55"/><circle cx="117.1" cy="190.4" r="1.55"/><circle cx="119.0" cy="185.8" r="1.55"/><circle cx="117.8" cy="190.2" r="1.55"/><circle cx="126.9" cy="177.0" r="1.55"/><circle cx="112.5" cy="166.1" r="1.55"/><circle cx="130.6" cy="169.6" r="1.55"/><circle cx="129.1" cy="163.6" r="1.55"/><circle cx="123.9" cy="180.8" r="1.55"/><circle cx="117.4" cy="188.9" r="1.55"/><circle cx="129.0" cy="156.2" r="1.55"/><circle cx="129.1" cy="164.7" r="1.55"/><circle cx="129.4" cy="173.8" r="1.55"/><circle cx="127.1" cy="162.1" r="1.55"/><circle cx="111.8" cy="173.9" r="1.55"/><circle cx="117.1" cy="174.0" r="1.55"/><circle cx="128.9" cy="174.2" r="1.55"/><circle cx="171.7" cy="181.4" r="1.55"/><circle cx="76.5" cy="170.4" r="1.55"/><circle cx="70.6" cy="155.7" r="1.55"/><circle cx="153.6" cy="176.7" r="1.55"/><circle cx="78.5" cy="153.2" r="1.55"/><circle cx="145.7" cy="172.0" r="1.55"/><circle cx="148.4" cy="167.3" r="1.55"/>
</g>
<g fill="#dc55ee" stroke="#4a1d55" stroke-width="0.6">
<circle cx="102.9" cy="99.6" r="1.55"/><circle cx="115.5" cy="90.9" r="1.55"/><circle cx="113.9" cy="145.3" r="1.55"/><circle cx="113.3" cy="134.1" r="1.55"/><circle cx="128.8" cy="144.9" r="1.55"/><circle cx="122.5" cy="137.7" r="1.55"/><circle cx="125.9" cy="151.0" r="1.55"/><circle cx="103.5" cy="109.7" r="1.55"/><circle cx="111.9" cy="116.8" r="1.55"/><circle cx="98.6" cy="138.8" r="1.55"/><circle cx="108.1" cy="130.7" r="1.55"/><circle cx="124.3" cy="143.9" r="1.55"/><circle cx="114.9" cy="117.9" r="1.55"/><circle cx="123.5" cy="147.1" r="1.55"/><circle cx="125.8" cy="145.4" r="1.55"/><circle cx="100.6" cy="144.8" r="1.55"/><circle cx="111.5" cy="143.9" r="1.55"/><circle cx="133.9" cy="101.8" r="1.55"/><circle cx="104.9" cy="138.9" r="1.55"/><circle cx="127.2" cy="102.5" r="1.55"/><circle cx="102.6" cy="150.1" r="1.55"/><circle cx="115.8" cy="146.0" r="1.55"/><circle cx="114.5" cy="136.6" r="1.55"/><circle cx="126.1" cy="138.3" r="1.55"/><circle cx="104.5" cy="146.8" r="1.55"/><circle cx="112.4" cy="143.9" r="1.55"/><circle cx="112.3" cy="131.5" r="1.55"/><circle cx="124.4" cy="136.6" r="1.55"/><circle cx="102.7" cy="99.0" r="1.55"/><circle cx="116.3" cy="127.2" r="1.55"/><circle cx="131.0" cy="100.9" r="1.55"/><circle cx="112.8" cy="139.1" r="1.55"/><circle cx="117.1" cy="147.4" r="1.55"/><circle cx="129.9" cy="129.8" r="1.55"/><circle cx="110.8" cy="145.4" r="1.55"/><circle cx="126.0" cy="98.3" r="1.55"/><circle cx="112.3" cy="152.1" r="1.55"/><circle cx="116.8" cy="107.4" r="1.55"/><circle cx="122.7" cy="118.4" r="1.55"/><circle cx="110.2" cy="141.9" r="1.55"/><circle cx="136.4" cy="146.5" r="1.55"/><circle cx="104.2" cy="148.2" r="1.55"/><circle cx="127.4" cy="137.1" r="1.55"/><circle cx="107.7" cy="98.2" r="1.55"/><circle cx="129.5" cy="139.9" r="1.55"/><circle cx="123.0" cy="138.1" r="1.55"/><circle cx="124.7" cy="144.5" r="1.55"/><circle cx="132.9" cy="136.5" r="1.55"/><circle cx="127.4" cy="151.2" r="1.55"/><circle cx="123.6" cy="147.3" r="1.55"/><circle cx="115.6" cy="130.0" r="1.55"/><circle cx="102.7" cy="143.0" r="1.55"/><circle cx="107.9" cy="129.3" r="1.55"/><circle cx="93.2" cy="135.9" r="1.55"/><circle cx="103.9" cy="148.8" r="1.55"/><circle cx="105.1" cy="136.5" r="1.55"/><circle cx="106.0" cy="96.5" r="1.55"/><circle cx="109.1" cy="148.7" r="1.55"/><circle cx="111.9" cy="151.9" r="1.55"/><circle cx="109.7" cy="146.9" r="1.55"/><circle cx="100.6" cy="141.1" r="1.55"/><circle cx="117.4" cy="139.2" r="1.55"/><circle cx="106.3" cy="133.9" r="1.55"/><circle cx="116.0" cy="152.2" r="1.55"/><circle cx="124.2" cy="148.7" r="1.55"/><circle cx="112.0" cy="149.9" r="1.55"/><circle cx="127.4" cy="131.3" r="1.55"/><circle cx="102.0" cy="142.1" r="1.55"/><circle cx="116.4" cy="132.3" r="1.55"/><circle cx="104.0" cy="119.0" r="1.55"/><circle cx="128.2" cy="148.1" r="1.55"/><circle cx="106.4" cy="150.0" r="1.55"/><circle cx="117.2" cy="120.4" r="1.55"/><circle cx="125.5" cy="123.7" r="1.55"/><circle cx="101.2" cy="149.4" r="1.55"/><circle cx="95.8" cy="148.2" r="1.55"/><circle cx="116.0" cy="122.9" r="1.55"/><circle cx="99.8" cy="130.0" r="1.55"/><circle cx="126.9" cy="117.9" r="1.55"/><circle cx="124.7" cy="131.5" r="1.55"/><circle cx="123.6" cy="143.8" r="1.55"/><circle cx="99.2" cy="136.7" r="1.55"/><circle cx="117.9" cy="134.9" r="1.55"/><circle cx="112.3" cy="137.9" r="1.55"/><circle cx="102.2" cy="129.0" r="1.55"/><circle cx="124.0" cy="139.7" r="1.55"/><circle cx="125.1" cy="129.6" r="1.55"/><circle cx="116.0" cy="147.8" r="1.55"/><circle cx="112.6" cy="151.0" r="1.55"/><circle cx="123.0" cy="96.0" r="1.55"/><circle cx="122.7" cy="152.2" r="1.55"/><circle cx="130.6" cy="142.7" r="1.55"/><circle cx="110.8" cy="91.9" r="1.55"/><circle cx="114.4" cy="114.5" r="1.55"/><circle cx="132.9" cy="150.5" r="1.55"/><circle cx="97.0" cy="142.5" r="1.55"/><circle cx="128.9" cy="123.0" r="1.55"/><circle cx="112.6" cy="144.8" r="1.55"/><circle cx="117.9" cy="123.9" r="1.55"/><circle cx="124.4" cy="148.0" r="1.55"/><circle cx="132.8" cy="129.3" r="1.55"/><circle cx="124.7" cy="149.3" r="1.55"/><circle cx="127.5" cy="134.0" r="1.55"/><circle cx="96.7" cy="144.3" r="1.55"/><circle cx="124.2" cy="138.1" r="1.55"/><circle cx="126.3" cy="147.8" r="1.55"/><circle cx="114.6" cy="148.9" r="1.55"/><circle cx="100.3" cy="137.1" r="1.55"/><circle cx="125.2" cy="129.5" r="1.55"/><circle cx="128.8" cy="147.4" r="1.55"/><circle cx="125.2" cy="114.0" r="1.55"/><circle cx="116.2" cy="148.7" r="1.55"/><circle cx="118.0" cy="138.5" r="1.55"/><circle cx="130.7" cy="120.7" r="1.55"/><circle cx="99.5" cy="134.1" r="1.55"/><circle cx="123.9" cy="130.5" r="1.55"/><circle cx="103.1" cy="149.8" r="1.55"/><circle cx="115.3" cy="123.7" r="1.55"/><circle cx="113.4" cy="127.4" r="1.55"/><circle cx="132.9" cy="139.6" r="1.55"/><circle cx="96.6" cy="139.7" r="1.55"/><circle cx="93.9" cy="142.1" r="1.55"/><circle cx="110.6" cy="148.9" r="1.55"/><circle cx="129.0" cy="146.4" r="1.55"/><circle cx="133.2" cy="143.3" r="1.55"/><circle cx="126.6" cy="144.7" r="1.55"/><circle cx="105.6" cy="113.8" r="1.55"/><circle cx="114.5" cy="94.5" r="1.55"/><circle cx="100.6" cy="146.5" r="1.55"/><circle cx="113.5" cy="117.9" r="1.55"/><circle cx="131.5" cy="149.1" r="1.55"/><circle cx="128.0" cy="131.6" r="1.55"/><circle cx="108.7" cy="135.3" r="1.55"/><circle cx="135.7" cy="114.0" r="1.55"/><circle cx="126.5" cy="102.8" r="1.55"/><circle cx="107.8" cy="149.6" r="1.55"/><circle cx="130.7" cy="107.7" r="1.55"/><circle cx="125.0" cy="146.5" r="1.55"/><circle cx="116.7" cy="146.6" r="1.55"/><circle cx="113.4" cy="106.5" r="1.55"/><circle cx="113.3" cy="149.4" r="1.55"/><circle cx="110.1" cy="143.4" r="1.55"/><circle cx="87.5" cy="115.2" r="1.55"/><circle cx="111.3" cy="148.9" r="1.55"/><circle cx="123.2" cy="142.4" r="1.55"/><circle cx="104.5" cy="128.9" r="1.55"/><circle cx="131.7" cy="147.9" r="1.55"/><circle cx="104.7" cy="141.1" r="1.55"/><circle cx="137.6" cy="121.5" r="1.55"/><circle cx="109.9" cy="147.7" r="1.55"/><circle cx="124.9" cy="140.8" r="1.55"/><circle cx="135.9" cy="122.2" r="1.55"/><circle cx="127.4" cy="151.2" r="1.55"/><circle cx="124.8" cy="121.2" r="1.55"/><circle cx="126.1" cy="120.1" r="1.55"/><circle cx="124.5" cy="146.5" r="1.55"/><circle cx="124.1" cy="145.2" r="1.55"/><circle cx="140.7" cy="142.5" r="1.55"/><circle cx="91.2" cy="135.1" r="1.55"/><circle cx="103.9" cy="137.0" r="1.55"/><circle cx="114.9" cy="111.1" r="1.55"/><circle cx="123.3" cy="112.1" r="1.55"/><circle cx="130.3" cy="147.8" r="1.55"/><circle cx="108.1" cy="125.2" r="1.55"/><circle cx="113.4" cy="122.8" r="1.55"/><circle cx="106.8" cy="133.3" r="1.55"/><circle cx="112.3" cy="147.4" r="1.55"/><circle cx="109.6" cy="128.4" r="1.55"/><circle cx="114.3" cy="137.3" r="1.55"/><circle cx="131.7" cy="152.2" r="1.55"/><circle cx="116.0" cy="104.7" r="1.55"/><circle cx="117.0" cy="91.7" r="1.55"/><circle cx="115.0" cy="140.6" r="1.55"/><circle cx="104.8" cy="151.0" r="1.55"/><circle cx="114.4" cy="152.2" r="1.55"/><circle cx="137.7" cy="126.4" r="1.55"/><circle cx="124.4" cy="145.7" r="1.55"/><circle cx="104.4" cy="140.3" r="1.55"/><circle cx="99.9" cy="151.3" r="1.55"/><circle cx="113.9" cy="139.5" r="1.55"/><circle cx="97.1" cy="130.2" r="1.55"/><circle cx="128.2" cy="102.7" r="1.55"/><circle cx="107.1" cy="147.2" r="1.55"/><circle cx="110.3" cy="115.2" r="1.55"/><circle cx="123.9" cy="111.5" r="1.55"/><circle cx="107.4" cy="152.1" r="1.55"/><circle cx="108.1" cy="152.1" r="1.55"/><circle cx="122.8" cy="146.1" r="1.55"/><circle cx="97.5" cy="140.5" r="1.55"/><circle cx="114.0" cy="121.7" r="1.55"/><circle cx="114.0" cy="143.9" r="1.55"/><circle cx="123.8" cy="133.4" r="1.55"/><circle cx="130.2" cy="135.6" r="1.55"/><circle cx="126.0" cy="148.7" r="1.55"/><circle cx="117.3" cy="122.2" r="1.55"/><circle cx="105.1" cy="116.3" r="1.55"/><circle cx="127.1" cy="137.9" r="1.55"/><circle cx="99.5" cy="134.4" r="1.55"/><circle cx="134.8" cy="144.4" r="1.55"/><circle cx="88.9" cy="148.7" r="1.55"/><circle cx="113.3" cy="152.0" r="1.55"/><circle cx="123.5" cy="150.6" r="1.55"/><circle cx="101.7" cy="148.8" r="1.55"/><circle cx="124.4" cy="128.3" r="1.55"/><circle cx="92.5" cy="133.7" r="1.55"/><circle cx="112.0" cy="146.7" r="1.55"/><circle cx="122.0" cy="133.1" r="1.55"/><circle cx="126.9" cy="149.7" r="1.55"/><circle cx="112.4" cy="118.5" r="1.55"/><circle cx="110.2" cy="104.5" r="1.55"/><circle cx="140.9" cy="139.0" r="1.55"/><circle cx="128.2" cy="108.5" r="1.55"/><circle cx="124.1" cy="125.3" r="1.55"/><circle cx="123.7" cy="142.0" r="1.55"/><circle cx="117.8" cy="107.2" r="1.55"/><circle cx="125.8" cy="143.7" r="1.55"/><circle cx="126.9" cy="112.9" r="1.55"/><circle cx="129.3" cy="152.0" r="1.55"/><circle cx="125.5" cy="127.5" r="1.55"/><circle cx="107.1" cy="135.3" r="1.55"/><circle cx="109.3" cy="130.5" r="1.55"/><circle cx="122.2" cy="123.8" r="1.55"/><circle cx="128.3" cy="115.3" r="1.55"/><circle cx="112.0" cy="102.6" r="1.55"/><circle cx="111.9" cy="129.8" r="1.55"/><circle cx="133.1" cy="142.4" r="1.55"/><circle cx="104.8" cy="130.0" r="1.55"/><circle cx="115.4" cy="147.5" r="1.55"/><circle cx="133.0" cy="144.3" r="1.55"/><circle cx="104.8" cy="149.8" r="1.55"/><circle cx="104.1" cy="130.0" r="1.55"/><circle cx="125.0" cy="99.9" r="1.55"/><circle cx="126.4" cy="150.1" r="1.55"/><circle cx="110.7" cy="138.4" r="1.55"/><circle cx="117.6" cy="143.4" r="1.55"/><circle cx="124.9" cy="113.7" r="1.55"/><circle cx="125.4" cy="120.0" r="1.55"/><circle cx="106.6" cy="138.3" r="1.55"/><circle cx="103.5" cy="135.0" r="1.55"/><circle cx="133.6" cy="122.2" r="1.55"/><circle cx="130.5" cy="113.4" r="1.55"/><circle cx="108.6" cy="150.5" r="1.55"/><circle cx="92.6" cy="150.5" r="1.55"/><circle cx="97.4" cy="132.6" r="1.55"/><circle cx="105.3" cy="129.1" r="1.55"/><circle cx="122.2" cy="147.2" r="1.55"/><circle cx="109.0" cy="133.1" r="1.55"/><circle cx="99.1" cy="147.3" r="1.55"/><circle cx="123.5" cy="120.1" r="1.55"/><circle cx="113.5" cy="144.4" r="1.55"/><circle cx="130.3" cy="127.0" r="1.55"/><circle cx="112.3" cy="145.5" r="1.55"/><circle cx="107.5" cy="121.0" r="1.55"/><circle cx="107.9" cy="120.2" r="1.55"/><circle cx="128.4" cy="121.5" r="1.55"/><circle cx="112.0" cy="97.8" r="1.55"/><circle cx="124.5" cy="131.0" r="1.55"/><circle cx="123.7" cy="138.7" r="1.55"/><circle cx="124.0" cy="124.6" r="1.55"/><circle cx="122.1" cy="131.3" r="1.55"/><circle cx="128.4" cy="151.3" r="1.55"/><circle cx="102.2" cy="116.5" r="1.55"/><circle cx="125.7" cy="122.8" r="1.55"/><circle cx="100.7" cy="145.7" r="1.55"/><circle cx="123.8" cy="140.7" r="1.55"/><circle cx="112.6" cy="120.5" r="1.55"/><circle cx="116.7" cy="150.6" r="1.55"/><circle cx="113.0" cy="141.6" r="1.55"/><circle cx="99.9" cy="135.2" r="1.55"/><circle cx="111.3" cy="133.5" r="1.55"/><circle cx="129.2" cy="151.3" r="1.55"/><circle cx="122.2" cy="137.9" r="1.55"/><circle cx="125.8" cy="151.0" r="1.55"/><circle cx="110.7" cy="145.4" r="1.55"/><circle cx="127.3" cy="140.2" r="1.55"/><circle cx="125.2" cy="146.0" r="1.55"/><circle cx="124.2" cy="92.1" r="1.55"/><circle cx="112.8" cy="151.1" r="1.55"/><circle cx="125.2" cy="146.0" r="1.55"/><circle cx="123.8" cy="134.3" r="1.55"/><circle cx="98.5" cy="149.7" r="1.55"/><circle cx="123.4" cy="151.1" r="1.55"/><circle cx="97.3" cy="145.8" r="1.55"/><circle cx="123.9" cy="103.0" r="1.55"/><circle cx="125.9" cy="151.2" r="1.55"/><circle cx="116.3" cy="144.4" r="1.55"/><circle cx="125.1" cy="145.2" r="1.55"/><circle cx="105.1" cy="123.7" r="1.55"/><circle cx="104.1" cy="141.5" r="1.55"/><circle cx="107.8" cy="150.4" r="1.55"/><circle cx="110.5" cy="138.4" r="1.55"/><circle cx="112.7" cy="130.2" r="1.55"/><circle cx="116.7" cy="102.6" r="1.55"/><circle cx="110.7" cy="141.5" r="1.55"/><circle cx="103.2" cy="134.9" r="1.55"/><circle cx="123.6" cy="129.7" r="1.55"/><circle cx="97.1" cy="147.4" r="1.55"/><circle cx="104.7" cy="149.1" r="1.55"/><circle cx="125.7" cy="119.8" r="1.55"/><circle cx="113.9" cy="95.8" r="1.55"/><circle cx="82.6" cy="151.4" r="1.55"/><circle cx="108.7" cy="102.8" r="1.55"/><circle cx="108.1" cy="146.6" r="1.55"/><circle cx="101.2" cy="139.6" r="1.55"/><circle cx="106.6" cy="149.5" r="1.55"/><circle cx="122.3" cy="147.2" r="1.55"/><circle cx="110.1" cy="138.5" r="1.55"/><circle cx="107.7" cy="138.7" r="1.55"/><circle cx="128.6" cy="142.7" r="1.55"/><circle cx="103.3" cy="145.4" r="1.55"/><circle cx="128.8" cy="149.9" r="1.55"/><circle cx="123.5" cy="136.5" r="1.55"/><circle cx="106.0" cy="142.9" r="1.55"/><circle cx="127.8" cy="148.4" r="1.55"/><circle cx="111.2" cy="105.1" r="1.55"/><circle cx="115.5" cy="139.6" r="1.55"/><circle cx="127.6" cy="152.0" r="1.55"/><circle cx="111.5" cy="152.1" r="1.55"/><circle cx="130.2" cy="137.7" r="1.55"/><circle cx="133.5" cy="115.8" r="1.55"/><circle cx="123.5" cy="141.8" r="1.55"/><circle cx="116.2" cy="150.9" r="1.55"/><circle cx="122.4" cy="112.8" r="1.55"/><circle cx="98.4" cy="150.3" r="1.55"/><circle cx="128.6" cy="142.3" r="1.55"/><circle cx="113.1" cy="151.1" r="1.55"/><circle cx="113.6" cy="143.7" r="1.55"/><circle cx="109.0" cy="138.1" r="1.55"/><circle cx="105.9" cy="151.1" r="1.55"/><circle cx="106.7" cy="133.7" r="1.55"/><circle cx="102.4" cy="151.8" r="1.55"/><circle cx="104.0" cy="146.7" r="1.55"/><circle cx="125.9" cy="130.0" r="1.55"/><circle cx="131.6" cy="118.2" r="1.55"/><circle cx="117.6" cy="143.3" r="1.55"/><circle cx="86.7" cy="97.8" r="1.55"/><circle cx="117.0" cy="116.1" r="1.55"/><circle cx="131.1" cy="151.6" r="1.55"/><circle cx="127.1" cy="123.0" r="1.55"/><circle cx="116.5" cy="144.5" r="1.55"/><circle cx="104.7" cy="142.9" r="1.55"/><circle cx="108.6" cy="149.1" r="1.55"/><circle cx="131.2" cy="113.6" r="1.55"/><circle cx="117.1" cy="141.6" r="1.55"/><circle cx="113.9" cy="146.7" r="1.55"/><circle cx="113.8" cy="139.0" r="1.55"/><circle cx="115.0" cy="144.0" r="1.55"/><circle cx="105.6" cy="97.2" r="1.55"/><circle cx="108.6" cy="133.0" r="1.55"/><circle cx="124.9" cy="145.3" r="1.55"/><circle cx="122.7" cy="125.4" r="1.55"/><circle cx="99.3" cy="150.7" r="1.55"/><circle cx="130.0" cy="145.1" r="1.55"/><circle cx="129.9" cy="136.9" r="1.55"/><circle cx="113.4" cy="152.0" r="1.55"/><circle cx="110.8" cy="142.5" r="1.55"/><circle cx="126.3" cy="136.8" r="1.55"/><circle cx="127.0" cy="131.2" r="1.55"/><circle cx="117.0" cy="123.2" r="1.55"/><circle cx="106.5" cy="130.1" r="1.55"/><circle cx="157.1" cy="43.9" r="1.55"/><circle cx="124.0" cy="59.0" r="1.55"/><circle cx="81.7" cy="77.8" r="1.55"/><circle cx="61.9" cy="140.6" r="1.55"/><circle cx="162.7" cy="151.6" r="1.55"/><circle cx="90.4" cy="85.7" r="1.55"/><circle cx="96.3" cy="84.1" r="1.55"/><circle cx="127.9" cy="76.2" r="1.55"/><circle cx="129.1" cy="82.5" r="1.55"/><circle cx="100.2" cy="88.8" r="1.55"/><circle cx="93.5" cy="92.0" r="1.55"/>
</g>
<line x1="41.0" y1="36.2" x2="41.0" y2="194.8" stroke="#000" stroke-width="1.7"/>
<line x1="40.2" y1="194.0" x2="199.5" y2="194.0" stroke="#000" stroke-width="1.7"/>
<line x1="34.3" y1="194.0" x2="41.0" y2="194.0" stroke="#000" stroke-width="1.6"/>
<text class="sb" x="33.2" y="198.4" font-size="12.8" text-anchor="end">0</text>
<line x1="34.3" y1="162.6" x2="41.0" y2="162.6" stroke="#000" stroke-width="1.6"/>
<text class="sb" x="33.2" y="167.0" font-size="12.8" text-anchor="end">1</text>
<line x1="34.3" y1="131.2" x2="41.0" y2="131.2" stroke="#000" stroke-width="1.6"/>
<text class="sb" x="33.2" y="135.6" font-size="12.8" text-anchor="end">2</text>
<line x1="34.3" y1="99.8" x2="41.0" y2="99.8" stroke="#000" stroke-width="1.6"/>
<text class="sb" x="33.2" y="104.2" font-size="12.8" text-anchor="end">3</text>
<line x1="34.3" y1="68.4" x2="41.0" y2="68.4" stroke="#000" stroke-width="1.6"/>
<text class="sb" x="33.2" y="72.8" font-size="12.8" text-anchor="end">4</text>
<line x1="34.3" y1="37.0" x2="41.0" y2="37.0" stroke="#000" stroke-width="1.6"/>
<text class="sb" x="33.2" y="41.4" font-size="12.8" text-anchor="end">5</text>
<line x1="41.0" y1="194.0" x2="41.0" y2="200.5" stroke="#000" stroke-width="1.6"/>
<text class="sb" x="41.0" y="215.0" font-size="12.6" text-anchor="middle">-2</text>
<line x1="80.5" y1="194.0" x2="80.5" y2="200.5" stroke="#000" stroke-width="1.6"/>
<text class="sb" x="80.5" y="215.0" font-size="12.6" text-anchor="middle">-1</text>
<line x1="120.0" y1="194.0" x2="120.0" y2="200.5" stroke="#000" stroke-width="1.6"/>
<text class="sb" x="120.0" y="215.0" font-size="12.6" text-anchor="middle">0</text>
<line x1="159.5" y1="194.0" x2="159.5" y2="200.5" stroke="#000" stroke-width="1.6"/>
<text class="sb" x="159.5" y="215.0" font-size="12.6" text-anchor="middle">1</text>
<line x1="199.0" y1="194.0" x2="199.0" y2="200.5" stroke="#000" stroke-width="1.6"/>
<text class="sb" x="199.0" y="215.0" font-size="12.6" text-anchor="middle">2</text>
<text class="sb" x="41.8" y="231.0" font-size="12.3" letter-spacing="0.55">log2(fold change from WT)</text>
<text class="sb" font-size="14" text-anchor="middle" transform="translate(17.5,115) rotate(-90)">-log<tspan font-size="9.5" dy="3">10</tspan><tspan dy="-3">(</tspan><tspan font-style="italic">p</tspan>-value)</text>
<circle cx="45" cy="37.3" r="1.7" fill="#e050f0" stroke="#4a1d55" stroke-width="0.5"/>
<circle cx="45" cy="51" r="1.5" fill="#8a8a8a" stroke="#2e2e2e" stroke-width="0.5"/>
<text class="s" x="50.8" y="41.6" font-size="11">Significant (<tspan font-style="italic">p</tspan>&lt;0.05)</text>
<text class="s" x="52.3" y="55.6" font-size="11">Not significant</text>
<g fill="#989898" stroke="#2c2c2c" stroke-width="0.5">
<circle cx="295.1" cy="186.1" r="1.55"/><circle cx="302.9" cy="192.1" r="1.55"/><circle cx="303.6" cy="189.5" r="1.55"/><circle cx="290.7" cy="160.8" r="1.55"/><circle cx="307.3" cy="158.8" r="1.55"/><circle cx="296.3" cy="152.9" r="1.55"/><circle cx="297.4" cy="151.5" r="1.55"/><circle cx="308.7" cy="181.9" r="1.55"/><circle cx="312.2" cy="174.1" r="1.55"/><circle cx="318.1" cy="152.2" r="1.55"/><circle cx="307.8" cy="168.4" r="1.55"/><circle cx="312.2" cy="147.8" r="1.55"/><circle cx="294.8" cy="158.3" r="1.55"/><circle cx="308.3" cy="181.2" r="1.55"/><circle cx="293.4" cy="174.5" r="1.55"/><circle cx="319.9" cy="157.2" r="1.55"/><circle cx="310.8" cy="184.4" r="1.55"/><circle cx="311.2" cy="157.5" r="1.55"/><circle cx="316.9" cy="150.1" r="1.55"/><circle cx="319.6" cy="176.0" r="1.55"/><circle cx="307.8" cy="192.4" r="1.55"/><circle cx="307.6" cy="186.2" r="1.55"/><circle cx="307.0" cy="161.9" r="1.55"/><circle cx="315.0" cy="152.1" r="1.55"/><circle cx="302.1" cy="192.8" r="1.55"/><circle cx="318.3" cy="167.1" r="1.55"/><circle cx="302.7" cy="176.1" r="1.55"/><circle cx="316.5" cy="145.7" r="1.55"/><circle cx="318.3" cy="176.1" r="1.55"/><circle cx="306.4" cy="189.7" r="1.55"/><circle cx="288.8" cy="150.2" r="1.55"/><circle cx="290.6" cy="158.9" r="1.55"/><circle cx="300.3" cy="146.3" r="1.55"/><circle cx="298.8" cy="185.3" r="1.55"/><circle cx="307.3" cy="147.9" r="1.55"/><circle cx="299.6" cy="173.8" r="1.55"/><circle cx="315.3" cy="185.2" r="1.55"/><circle cx="294.6" cy="190.1" r="1.55"/><circle cx="316.0" cy="184.4" r="1.55"/><circle cx="312.6" cy="161.3" r="1.55"/><circle cx="298.8" cy="186.9" r="1.55"/><circle cx="307.2" cy="175.6" r="1.55"/><circle cx="311.3" cy="186.0" r="1.55"/><circle cx="323.4" cy="147.0" r="1.55"/><circle cx="298.5" cy="163.7" r="1.55"/><circle cx="292.5" cy="157.0" r="1.55"/><circle cx="307.1" cy="157.8" r="1.55"/><circle cx="301.9" cy="190.8" r="1.55"/><circle cx="307.2" cy="152.1" r="1.55"/><circle cx="321.5" cy="152.8" r="1.55"/><circle cx="314.3" cy="172.2" r="1.55"/><circle cx="311.8" cy="161.6" r="1.55"/><circle cx="288.7" cy="160.8" r="1.55"/><circle cx="308.7" cy="177.4" r="1.55"/><circle cx="298.9" cy="164.1" r="1.55"/><circle cx="317.4" cy="179.1" r="1.55"/><circle cx="311.6" cy="175.6" r="1.55"/><circle cx="299.3" cy="184.6" r="1.55"/><circle cx="300.5" cy="160.1" r="1.55"/><circle cx="307.0" cy="176.9" r="1.55"/><circle cx="307.3" cy="154.7" r="1.55"/><circle cx="298.1" cy="148.7" r="1.55"/><circle cx="312.1" cy="163.8" r="1.55"/><circle cx="298.7" cy="163.5" r="1.55"/><circle cx="294.4" cy="151.6" r="1.55"/><circle cx="306.3" cy="166.9" r="1.55"/><circle cx="318.7" cy="148.7" r="1.55"/><circle cx="309.9" cy="160.9" r="1.55"/><circle cx="300.3" cy="149.9" r="1.55"/><circle cx="307.9" cy="171.1" r="1.55"/><circle cx="302.7" cy="185.8" r="1.55"/><circle cx="306.5" cy="183.7" r="1.55"/><circle cx="312.2" cy="168.7" r="1.55"/><circle cx="309.6" cy="143.4" r="1.55"/><circle cx="299.3" cy="170.8" r="1.55"/><circle cx="307.0" cy="164.7" r="1.55"/><circle cx="308.0" cy="149.2" r="1.55"/><circle cx="291.8" cy="171.5" r="1.55"/><circle cx="309.4" cy="188.9" r="1.55"/><circle cx="314.6" cy="166.4" r="1.55"/><circle cx="302.4" cy="181.1" r="1.55"/><circle cx="308.5" cy="161.4" r="1.55"/><circle cx="291.7" cy="169.1" r="1.55"/><circle cx="299.8" cy="146.3" r="1.55"/><circle cx="300.1" cy="173.5" r="1.55"/><circle cx="300.2" cy="188.5" r="1.55"/><circle cx="312.4" cy="146.9" r="1.55"/><circle cx="297.8" cy="147.5" r="1.55"/><circle cx="308.7" cy="173.1" r="1.55"/><circle cx="293.1" cy="156.1" r="1.55"/><circle cx="293.8" cy="166.6" r="1.55"/><circle cx="314.1" cy="184.0" r="1.55"/><circle cx="321.5" cy="145.9" r="1.55"/><circle cx="310.2" cy="183.9" r="1.55"/><circle cx="308.4" cy="186.2" r="1.55"/><circle cx="301.9" cy="162.7" r="1.55"/><circle cx="294.3" cy="147.1" r="1.55"/><circle cx="308.6" cy="167.9" r="1.55"/><circle cx="299.6" cy="171.8" r="1.55"/><circle cx="307.8" cy="179.7" r="1.55"/><circle cx="310.3" cy="156.2" r="1.55"/><circle cx="309.1" cy="159.0" r="1.55"/><circle cx="299.9" cy="162.2" r="1.55"/><circle cx="308.5" cy="170.9" r="1.55"/><circle cx="311.3" cy="192.2" r="1.55"/><circle cx="305.5" cy="189.7" r="1.55"/><circle cx="297.9" cy="174.9" r="1.55"/><circle cx="297.4" cy="173.5" r="1.55"/><circle cx="305.3" cy="194.0" r="1.55"/><circle cx="297.4" cy="172.4" r="1.55"/><circle cx="281.2" cy="160.7" r="1.55"/><circle cx="298.4" cy="169.6" r="1.55"/><circle cx="295.5" cy="154.9" r="1.55"/><circle cx="306.9" cy="146.8" r="1.55"/><circle cx="299.5" cy="182.2" r="1.55"/><circle cx="301.8" cy="169.8" r="1.55"/><circle cx="308.0" cy="189.5" r="1.55"/><circle cx="287.5" cy="179.6" r="1.55"/><circle cx="301.7" cy="171.5" r="1.55"/><circle cx="308.6" cy="178.2" r="1.55"/><circle cx="306.9" cy="192.6" r="1.55"/><circle cx="317.9" cy="144.2" r="1.55"/><circle cx="310.6" cy="162.6" r="1.55"/><circle cx="306.1" cy="187.5" r="1.55"/><circle cx="309.1" cy="180.9" r="1.55"/><circle cx="299.9" cy="178.4" r="1.55"/><circle cx="303.4" cy="177.1" r="1.55"/><circle cx="310.7" cy="152.7" r="1.55"/><circle cx="302.9" cy="183.2" r="1.55"/><circle cx="311.0" cy="147.8" r="1.55"/><circle cx="302.1" cy="185.8" r="1.55"/><circle cx="310.8" cy="163.0" r="1.55"/><circle cx="324.3" cy="174.6" r="1.55"/><circle cx="299.5" cy="156.6" r="1.55"/><circle cx="291.1" cy="172.4" r="1.55"/><circle cx="308.8" cy="172.0" r="1.55"/><circle cx="301.6" cy="169.2" r="1.55"/><circle cx="300.9" cy="148.7" r="1.55"/><circle cx="298.9" cy="160.4" r="1.55"/><circle cx="316.0" cy="164.1" r="1.55"/><circle cx="299.9" cy="165.5" r="1.55"/><circle cx="307.0" cy="161.5" r="1.55"/><circle cx="292.1" cy="166.6" r="1.55"/><circle cx="315.9" cy="168.7" r="1.55"/><circle cx="318.7" cy="179.3" r="1.55"/><circle cx="291.1" cy="149.1" r="1.55"/><circle cx="300.1" cy="184.1" r="1.55"/><circle cx="292.9" cy="163.4" r="1.55"/><circle cx="308.1" cy="169.3" r="1.55"/><circle cx="308.2" cy="192.6" r="1.55"/><circle cx="301.5" cy="147.4" r="1.55"/><circle cx="298.9" cy="143.6" r="1.55"/><circle cx="308.1" cy="184.4" r="1.55"/><circle cx="319.0" cy="173.7" r="1.55"/><circle cx="307.0" cy="192.8" r="1.55"/><circle cx="294.7" cy="160.6" r="1.55"/><circle cx="301.6" cy="152.0" r="1.55"/><circle cx="309.3" cy="187.9" r="1.55"/><circle cx="298.1" cy="176.4" r="1.55"/><circle cx="296.1" cy="175.2" r="1.55"/><circle cx="305.4" cy="193.2" r="1.55"/><circle cx="301.9" cy="149.2" r="1.55"/><circle cx="294.8" cy="144.9" r="1.55"/><circle cx="302.8" cy="179.9" r="1.55"/><circle cx="315.6" cy="152.4" r="1.55"/><circle cx="302.5" cy="191.0" r="1.55"/><circle cx="293.3" cy="147.4" r="1.55"/><circle cx="292.8" cy="147.5" r="1.55"/><circle cx="300.7" cy="169.3" r="1.55"/><circle cx="295.1" cy="162.2" r="1.55"/><circle cx="302.8" cy="191.3" r="1.55"/><circle cx="296.8" cy="158.5" r="1.55"/><circle cx="300.5" cy="151.8" r="1.55"/><circle cx="306.2" cy="169.9" r="1.55"/><circle cx="290.3" cy="160.7" r="1.55"/><circle cx="307.5" cy="160.9" r="1.55"/><circle cx="293.1" cy="164.2" r="1.55"/><circle cx="317.9" cy="176.4" r="1.55"/><circle cx="295.9" cy="167.7" r="1.55"/><circle cx="305.9" cy="178.3" r="1.55"/><circle cx="298.6" cy="187.3" r="1.55"/><circle cx="301.2" cy="184.4" r="1.55"/><circle cx="316.4" cy="174.4" r="1.55"/><circle cx="317.1" cy="148.2" r="1.55"/><circle cx="294.2" cy="155.0" r="1.55"/><circle cx="301.2" cy="154.6" r="1.55"/><circle cx="300.5" cy="164.2" r="1.55"/><circle cx="298.6" cy="172.0" r="1.55"/><circle cx="307.0" cy="191.7" r="1.55"/><circle cx="290.5" cy="162.1" r="1.55"/><circle cx="295.7" cy="160.1" r="1.55"/><circle cx="299.2" cy="188.8" r="1.55"/><circle cx="307.4" cy="182.0" r="1.55"/><circle cx="308.6" cy="193.6" r="1.55"/><circle cx="306.6" cy="189.3" r="1.55"/><circle cx="314.8" cy="174.5" r="1.55"/><circle cx="287.4" cy="169.6" r="1.55"/><circle cx="310.1" cy="186.9" r="1.55"/><circle cx="307.6" cy="181.1" r="1.55"/><circle cx="319.6" cy="181.7" r="1.55"/><circle cx="324.2" cy="159.6" r="1.55"/><circle cx="306.0" cy="188.1" r="1.55"/><circle cx="290.3" cy="167.7" r="1.55"/><circle cx="308.3" cy="182.0" r="1.55"/><circle cx="288.0" cy="169.9" r="1.55"/><circle cx="303.6" cy="188.7" r="1.55"/><circle cx="301.3" cy="163.4" r="1.55"/><circle cx="296.1" cy="187.0" r="1.55"/><circle cx="290.8" cy="163.5" r="1.55"/><circle cx="301.9" cy="162.5" r="1.55"/><circle cx="313.7" cy="185.9" r="1.55"/><circle cx="306.8" cy="173.8" r="1.55"/><circle cx="291.6" cy="149.8" r="1.55"/><circle cx="309.8" cy="177.5" r="1.55"/><circle cx="301.2" cy="161.8" r="1.55"/><circle cx="301.8" cy="146.0" r="1.55"/><circle cx="307.7" cy="186.2" r="1.55"/><circle cx="308.5" cy="164.8" r="1.55"/><circle cx="319.4" cy="174.3" r="1.55"/><circle cx="325.0" cy="171.4" r="1.55"/><circle cx="301.0" cy="150.1" r="1.55"/><circle cx="314.5" cy="148.8" r="1.55"/><circle cx="294.1" cy="157.2" r="1.55"/><circle cx="292.0" cy="173.5" r="1.55"/><circle cx="312.2" cy="181.4" r="1.55"/><circle cx="312.4" cy="187.2" r="1.55"/><circle cx="299.6" cy="160.3" r="1.55"/><circle cx="320.5" cy="178.6" r="1.55"/><circle cx="311.0" cy="178.8" r="1.55"/><circle cx="301.0" cy="174.2" r="1.55"/><circle cx="319.2" cy="162.9" r="1.55"/><circle cx="302.6" cy="151.9" r="1.55"/><circle cx="318.8" cy="147.0" r="1.55"/><circle cx="300.8" cy="178.8" r="1.55"/><circle cx="313.3" cy="152.3" r="1.55"/><circle cx="283.7" cy="148.4" r="1.55"/><circle cx="322.1" cy="164.8" r="1.55"/><circle cx="300.6" cy="189.1" r="1.55"/><circle cx="302.8" cy="192.1" r="1.55"/><circle cx="299.3" cy="182.1" r="1.55"/><circle cx="297.4" cy="163.3" r="1.55"/><circle cx="310.7" cy="154.8" r="1.55"/><circle cx="307.3" cy="162.7" r="1.55"/><circle cx="308.4" cy="186.5" r="1.55"/><circle cx="303.0" cy="179.7" r="1.55"/><circle cx="314.4" cy="162.3" r="1.55"/><circle cx="310.3" cy="172.3" r="1.55"/><circle cx="310.2" cy="189.0" r="1.55"/><circle cx="306.9" cy="172.3" r="1.55"/><circle cx="317.8" cy="155.1" r="1.55"/><circle cx="308.9" cy="168.2" r="1.55"/><circle cx="312.0" cy="162.7" r="1.55"/><circle cx="295.4" cy="152.3" r="1.55"/><circle cx="305.8" cy="190.7" r="1.55"/><circle cx="301.1" cy="164.5" r="1.55"/><circle cx="318.8" cy="161.8" r="1.55"/><circle cx="292.5" cy="158.9" r="1.55"/><circle cx="310.8" cy="160.5" r="1.55"/><circle cx="315.6" cy="159.8" r="1.55"/><circle cx="294.4" cy="169.1" r="1.55"/><circle cx="306.3" cy="158.5" r="1.55"/><circle cx="309.9" cy="190.0" r="1.55"/><circle cx="314.0" cy="180.6" r="1.55"/><circle cx="307.6" cy="191.8" r="1.55"/><circle cx="296.5" cy="161.4" r="1.55"/><circle cx="314.9" cy="174.1" r="1.55"/><circle cx="295.2" cy="162.5" r="1.55"/><circle cx="312.0" cy="178.5" r="1.55"/><circle cx="316.6" cy="175.5" r="1.55"/><circle cx="286.4" cy="176.3" r="1.55"/><circle cx="303.0" cy="187.2" r="1.55"/><circle cx="308.4" cy="160.7" r="1.55"/><circle cx="297.0" cy="145.7" r="1.55"/><circle cx="311.4" cy="169.9" r="1.55"/><circle cx="309.6" cy="186.4" r="1.55"/><circle cx="313.7" cy="149.3" r="1.55"/><circle cx="299.4" cy="164.9" r="1.55"/><circle cx="306.0" cy="191.1" r="1.55"/><circle cx="310.0" cy="152.9" r="1.55"/><circle cx="305.8" cy="193.3" r="1.55"/><circle cx="306.2" cy="186.8" r="1.55"/><circle cx="299.6" cy="176.5" r="1.55"/><circle cx="301.5" cy="179.6" r="1.55"/><circle cx="302.8" cy="167.9" r="1.55"/><circle cx="289.4" cy="146.8" r="1.55"/><circle cx="301.9" cy="147.7" r="1.55"/><circle cx="301.3" cy="170.3" r="1.55"/><circle cx="319.7" cy="160.2" r="1.55"/><circle cx="295.5" cy="148.7" r="1.55"/><circle cx="308.8" cy="143.2" r="1.55"/><circle cx="295.2" cy="143.1" r="1.55"/><circle cx="305.8" cy="185.8" r="1.55"/><circle cx="311.7" cy="145.5" r="1.55"/><circle cx="308.3" cy="154.1" r="1.55"/><circle cx="307.2" cy="148.8" r="1.55"/><circle cx="302.8" cy="191.1" r="1.55"/><circle cx="306.7" cy="192.4" r="1.55"/><circle cx="306.5" cy="154.7" r="1.55"/><circle cx="294.4" cy="178.5" r="1.55"/><circle cx="291.8" cy="154.5" r="1.55"/><circle cx="317.2" cy="164.6" r="1.55"/><circle cx="299.5" cy="149.3" r="1.55"/><circle cx="315.3" cy="189.6" r="1.55"/><circle cx="318.2" cy="174.1" r="1.55"/><circle cx="325.4" cy="157.9" r="1.55"/><circle cx="307.1" cy="171.2" r="1.55"/><circle cx="302.2" cy="157.1" r="1.55"/><circle cx="308.9" cy="192.0" r="1.55"/><circle cx="296.0" cy="163.2" r="1.55"/><circle cx="312.2" cy="170.9" r="1.55"/><circle cx="286.3" cy="170.9" r="1.55"/><circle cx="311.4" cy="154.4" r="1.55"/><circle cx="313.1" cy="155.3" r="1.55"/><circle cx="312.8" cy="146.2" r="1.55"/><circle cx="312.0" cy="164.3" r="1.55"/><circle cx="301.2" cy="147.2" r="1.55"/><circle cx="302.1" cy="157.7" r="1.55"/><circle cx="297.5" cy="182.3" r="1.55"/><circle cx="311.7" cy="167.5" r="1.55"/><circle cx="314.4" cy="152.1" r="1.55"/><circle cx="309.6" cy="153.7" r="1.55"/><circle cx="298.2" cy="186.5" r="1.55"/><circle cx="299.2" cy="175.3" r="1.55"/><circle cx="323.4" cy="173.1" r="1.55"/><circle cx="297.1" cy="157.5" r="1.55"/><circle cx="311.0" cy="159.6" r="1.55"/><circle cx="295.5" cy="154.6" r="1.55"/><circle cx="323.4" cy="150.2" r="1.55"/><circle cx="294.1" cy="154.3" r="1.55"/><circle cx="316.5" cy="170.0" r="1.55"/><circle cx="301.7" cy="190.2" r="1.55"/><circle cx="320.9" cy="151.1" r="1.55"/><circle cx="310.1" cy="143.5" r="1.55"/><circle cx="327.2" cy="161.5" r="1.55"/><circle cx="311.0" cy="157.5" r="1.55"/><circle cx="294.3" cy="179.1" r="1.55"/><circle cx="302.7" cy="172.1" r="1.55"/><circle cx="308.5" cy="149.9" r="1.55"/><circle cx="309.5" cy="144.8" r="1.55"/><circle cx="307.8" cy="147.2" r="1.55"/><circle cx="320.6" cy="172.5" r="1.55"/><circle cx="313.0" cy="149.9" r="1.55"/><circle cx="315.6" cy="181.3" r="1.55"/><circle cx="300.9" cy="173.7" r="1.55"/><circle cx="311.9" cy="166.2" r="1.55"/><circle cx="313.8" cy="174.3" r="1.55"/><circle cx="316.9" cy="178.2" r="1.55"/><circle cx="310.7" cy="150.5" r="1.55"/><circle cx="291.1" cy="174.3" r="1.55"/><circle cx="315.2" cy="163.8" r="1.55"/><circle cx="311.0" cy="153.2" r="1.55"/><circle cx="302.1" cy="180.2" r="1.55"/><circle cx="302.8" cy="160.3" r="1.55"/><circle cx="307.6" cy="145.8" r="1.55"/><circle cx="307.0" cy="190.3" r="1.55"/><circle cx="310.3" cy="149.0" r="1.55"/><circle cx="307.9" cy="145.8" r="1.55"/><circle cx="305.9" cy="172.0" r="1.55"/><circle cx="288.6" cy="161.7" r="1.55"/><circle cx="311.3" cy="159.4" r="1.55"/><circle cx="312.3" cy="159.2" r="1.55"/><circle cx="280.5" cy="170.8" r="1.55"/><circle cx="300.7" cy="178.0" r="1.55"/><circle cx="291.4" cy="154.1" r="1.55"/><circle cx="297.6" cy="170.9" r="1.55"/><circle cx="314.2" cy="162.1" r="1.55"/><circle cx="308.1" cy="153.8" r="1.55"/><circle cx="302.5" cy="145.6" r="1.55"/><circle cx="310.0" cy="146.8" r="1.55"/><circle cx="295.6" cy="157.0" r="1.55"/><circle cx="307.7" cy="183.2" r="1.55"/><circle cx="302.5" cy="185.2" r="1.55"/><circle cx="312.1" cy="185.4" r="1.55"/><circle cx="307.7" cy="157.7" r="1.55"/><circle cx="297.6" cy="160.0" r="1.55"/><circle cx="300.0" cy="186.7" r="1.55"/><circle cx="313.2" cy="147.3" r="1.55"/><circle cx="317.1" cy="168.1" r="1.55"/><circle cx="300.4" cy="152.2" r="1.55"/><circle cx="308.2" cy="159.3" r="1.55"/><circle cx="278.9" cy="172.0" r="1.55"/><circle cx="292.6" cy="152.7" r="1.55"/><circle cx="291.3" cy="143.2" r="1.55"/><circle cx="291.7" cy="144.2" r="1.55"/><circle cx="301.3" cy="189.0" r="1.55"/><circle cx="309.3" cy="180.1" r="1.55"/><circle cx="301.2" cy="160.2" r="1.55"/><circle cx="288.5" cy="177.0" r="1.55"/><circle cx="299.1" cy="157.5" r="1.55"/><circle cx="310.6" cy="149.7" r="1.55"/><circle cx="303.8" cy="193.6" r="1.55"/><circle cx="299.9" cy="189.9" r="1.55"/><circle cx="307.0" cy="177.2" r="1.55"/><circle cx="310.4" cy="185.3" r="1.55"/><circle cx="309.5" cy="148.4" r="1.55"/><circle cx="297.1" cy="172.1" r="1.55"/><circle cx="319.8" cy="149.7" r="1.55"/><circle cx="299.4" cy="179.8" r="1.55"/><circle cx="299.0" cy="144.0" r="1.55"/><circle cx="292.5" cy="176.3" r="1.55"/><circle cx="294.8" cy="184.6" r="1.55"/><circle cx="310.6" cy="185.3" r="1.55"/><circle cx="300.1" cy="154.0" r="1.55"/><circle cx="309.3" cy="159.5" r="1.55"/><circle cx="291.3" cy="150.7" r="1.55"/><circle cx="300.3" cy="168.0" r="1.55"/><circle cx="307.6" cy="174.8" r="1.55"/><circle cx="299.5" cy="155.1" r="1.55"/><circle cx="294.9" cy="171.3" r="1.55"/><circle cx="300.8" cy="165.9" r="1.55"/><circle cx="294.0" cy="179.5" r="1.55"/><circle cx="299.2" cy="159.5" r="1.55"/><circle cx="295.8" cy="146.7" r="1.55"/><circle cx="300.1" cy="188.2" r="1.55"/><circle cx="293.1" cy="167.9" r="1.55"/><circle cx="296.5" cy="179.9" r="1.55"/><circle cx="301.4" cy="150.8" r="1.55"/><circle cx="322.4" cy="158.4" r="1.55"/><circle cx="303.0" cy="177.5" r="1.55"/><circle cx="305.9" cy="176.8" r="1.55"/><circle cx="310.3" cy="182.9" r="1.55"/><circle cx="307.9" cy="172.0" r="1.55"/><circle cx="312.8" cy="167.0" r="1.55"/><circle cx="310.8" cy="145.4" r="1.55"/><circle cx="297.8" cy="143.8" r="1.55"/><circle cx="306.3" cy="167.6" r="1.55"/><circle cx="317.2" cy="167.7" r="1.55"/><circle cx="300.7" cy="170.9" r="1.55"/><circle cx="299.2" cy="182.3" r="1.55"/><circle cx="303.2" cy="189.6" r="1.55"/><circle cx="295.9" cy="144.1" r="1.55"/><circle cx="301.1" cy="186.0" r="1.55"/><circle cx="297.5" cy="184.0" r="1.55"/><circle cx="307.6" cy="186.3" r="1.55"/><circle cx="307.6" cy="144.5" r="1.55"/><circle cx="307.1" cy="160.9" r="1.55"/><circle cx="321.2" cy="147.2" r="1.55"/><circle cx="298.4" cy="185.3" r="1.55"/><circle cx="314.9" cy="154.3" r="1.55"/><circle cx="315.6" cy="186.1" r="1.55"/><circle cx="313.7" cy="147.3" r="1.55"/><circle cx="315.3" cy="160.0" r="1.55"/><circle cx="308.6" cy="143.9" r="1.55"/><circle cx="295.7" cy="150.7" r="1.55"/><circle cx="320.5" cy="159.3" r="1.55"/><circle cx="312.8" cy="185.1" r="1.55"/><circle cx="302.0" cy="169.6" r="1.55"/><circle cx="301.3" cy="143.5" r="1.55"/><circle cx="308.9" cy="188.7" r="1.55"/><circle cx="311.8" cy="177.9" r="1.55"/><circle cx="311.3" cy="145.9" r="1.55"/><circle cx="300.3" cy="147.5" r="1.55"/><circle cx="322.5" cy="147.0" r="1.55"/><circle cx="299.8" cy="144.8" r="1.55"/><circle cx="318.7" cy="170.8" r="1.55"/><circle cx="297.4" cy="171.8" r="1.55"/><circle cx="331.0" cy="154.8" r="1.55"/><circle cx="310.9" cy="189.2" r="1.55"/><circle cx="301.2" cy="172.0" r="1.55"/><circle cx="297.6" cy="146.8" r="1.55"/><circle cx="317.6" cy="183.4" r="1.55"/><circle cx="323.3" cy="169.5" r="1.55"/><circle cx="290.3" cy="182.3" r="1.55"/><circle cx="314.9" cy="143.2" r="1.55"/><circle cx="310.6" cy="189.1" r="1.55"/><circle cx="310.0" cy="179.5" r="1.55"/><circle cx="311.4" cy="159.6" r="1.55"/><circle cx="317.3" cy="167.6" r="1.55"/><circle cx="296.4" cy="186.7" r="1.55"/><circle cx="301.0" cy="193.4" r="1.55"/><circle cx="303.3" cy="175.9" r="1.55"/><circle cx="298.6" cy="176.4" r="1.55"/><circle cx="305.8" cy="192.0" r="1.55"/><circle cx="310.8" cy="164.9" r="1.55"/><circle cx="305.7" cy="192.1" r="1.55"/><circle cx="296.1" cy="184.0" r="1.55"/><circle cx="294.5" cy="145.8" r="1.55"/><circle cx="298.0" cy="156.6" r="1.55"/><circle cx="299.7" cy="177.4" r="1.55"/><circle cx="300.1" cy="181.1" r="1.55"/><circle cx="310.1" cy="168.6" r="1.55"/><circle cx="310.5" cy="177.9" r="1.55"/><circle cx="291.8" cy="146.7" r="1.55"/><circle cx="289.5" cy="146.8" r="1.55"/><circle cx="285.1" cy="177.5" r="1.55"/><circle cx="296.7" cy="190.4" r="1.55"/><circle cx="308.5" cy="153.8" r="1.55"/><circle cx="278.7" cy="149.2" r="1.55"/><circle cx="312.1" cy="168.6" r="1.55"/><circle cx="302.3" cy="193.5" r="1.55"/><circle cx="317.4" cy="156.3" r="1.55"/><circle cx="297.4" cy="160.6" r="1.55"/><circle cx="308.0" cy="162.1" r="1.55"/><circle cx="296.2" cy="169.2" r="1.55"/><circle cx="300.3" cy="165.9" r="1.55"/><circle cx="315.0" cy="147.4" r="1.55"/><circle cx="314.3" cy="158.6" r="1.55"/><circle cx="294.0" cy="167.8" r="1.55"/><circle cx="294.9" cy="187.4" r="1.55"/><circle cx="315.3" cy="144.4" r="1.55"/><circle cx="293.9" cy="157.3" r="1.55"/><circle cx="298.3" cy="182.3" r="1.55"/><circle cx="308.4" cy="172.6" r="1.55"/><circle cx="319.8" cy="152.4" r="1.55"/><circle cx="288.5" cy="159.2" r="1.55"/><circle cx="315.0" cy="174.7" r="1.55"/><circle cx="299.4" cy="150.5" r="1.55"/><circle cx="301.6" cy="151.2" r="1.55"/><circle cx="307.7" cy="184.2" r="1.55"/><circle cx="306.4" cy="163.7" r="1.55"/><circle cx="302.7" cy="161.1" r="1.55"/><circle cx="300.0" cy="179.4" r="1.55"/><circle cx="306.2" cy="162.3" r="1.55"/><circle cx="293.6" cy="164.0" r="1.55"/><circle cx="307.9" cy="174.2" r="1.55"/><circle cx="303.0" cy="187.5" r="1.55"/><circle cx="294.9" cy="151.2" r="1.55"/><circle cx="314.9" cy="175.3" r="1.55"/><circle cx="296.9" cy="170.5" r="1.55"/><circle cx="300.2" cy="164.5" r="1.55"/><circle cx="291.7" cy="161.4" r="1.55"/><circle cx="298.3" cy="187.7" r="1.55"/><circle cx="301.9" cy="180.9" r="1.55"/><circle cx="297.0" cy="185.7" r="1.55"/><circle cx="300.3" cy="186.5" r="1.55"/><circle cx="300.6" cy="171.1" r="1.55"/><circle cx="299.1" cy="192.7" r="1.55"/><circle cx="300.4" cy="175.8" r="1.55"/><circle cx="299.9" cy="187.2" r="1.55"/><circle cx="302.9" cy="160.5" r="1.55"/><circle cx="308.5" cy="151.3" r="1.55"/><circle cx="315.4" cy="185.9" r="1.55"/><circle cx="308.8" cy="151.5" r="1.55"/><circle cx="300.9" cy="171.7" r="1.55"/><circle cx="291.7" cy="165.0" r="1.55"/><circle cx="293.4" cy="165.9" r="1.55"/><circle cx="299.6" cy="156.8" r="1.55"/><circle cx="319.8" cy="162.9" r="1.55"/><circle cx="313.8" cy="189.7" r="1.55"/><circle cx="295.0" cy="174.6" r="1.55"/><circle cx="315.2" cy="182.6" r="1.55"/><circle cx="294.8" cy="188.7" r="1.55"/><circle cx="299.5" cy="147.2" r="1.55"/><circle cx="295.2" cy="158.0" r="1.55"/><circle cx="308.6" cy="169.3" r="1.55"/><circle cx="299.3" cy="143.2" r="1.55"/><circle cx="299.0" cy="173.4" r="1.55"/><circle cx="301.4" cy="158.9" r="1.55"/><circle cx="302.2" cy="156.7" r="1.55"/><circle cx="295.1" cy="155.2" r="1.55"/><circle cx="297.0" cy="146.8" r="1.55"/><circle cx="311.6" cy="143.4" r="1.55"/><circle cx="301.7" cy="163.7" r="1.55"/><circle cx="310.9" cy="189.5" r="1.55"/><circle cx="316.5" cy="151.4" r="1.55"/><circle cx="307.0" cy="151.2" r="1.55"/><circle cx="295.4" cy="179.2" r="1.55"/><circle cx="309.6" cy="175.8" r="1.55"/><circle cx="312.0" cy="189.8" r="1.55"/><circle cx="310.0" cy="177.6" r="1.55"/><circle cx="292.9" cy="166.4" r="1.55"/><circle cx="310.0" cy="176.0" r="1.55"/><circle cx="303.8" cy="193.0" r="1.55"/><circle cx="295.3" cy="143.0" r="1.55"/><circle cx="298.8" cy="159.7" r="1.55"/><circle cx="317.1" cy="143.4" r="1.55"/><circle cx="318.4" cy="153.3" r="1.55"/><circle cx="300.4" cy="147.7" r="1.55"/><circle cx="297.6" cy="146.9" r="1.55"/><circle cx="301.9" cy="177.4" r="1.55"/><circle cx="307.3" cy="148.2" r="1.55"/><circle cx="293.9" cy="143.6" r="1.55"/><circle cx="298.6" cy="156.0" r="1.55"/><circle cx="302.0" cy="150.5" r="1.55"/><circle cx="311.6" cy="191.5" r="1.55"/><circle cx="309.0" cy="182.4" r="1.55"/><circle cx="299.6" cy="151.6" r="1.55"/><circle cx="308.5" cy="192.9" r="1.55"/><circle cx="293.5" cy="166.0" r="1.55"/><circle cx="296.6" cy="184.6" r="1.55"/><circle cx="313.5" cy="169.1" r="1.55"/><circle cx="306.7" cy="146.0" r="1.55"/><circle cx="302.1" cy="147.2" r="1.55"/><circle cx="315.8" cy="168.1" r="1.55"/><circle cx="301.2" cy="193.2" r="1.55"/><circle cx="307.3" cy="164.4" r="1.55"/><circle cx="301.3" cy="149.8" r="1.55"/><circle cx="309.4" cy="171.1" r="1.55"/><circle cx="294.6" cy="178.2" r="1.55"/><circle cx="308.9" cy="150.8" r="1.55"/><circle cx="299.8" cy="165.2" r="1.55"/><circle cx="308.3" cy="160.7" r="1.55"/><circle cx="293.4" cy="152.0" r="1.55"/><circle cx="307.0" cy="186.8" r="1.55"/><circle cx="297.6" cy="182.6" r="1.55"/><circle cx="315.5" cy="174.4" r="1.55"/><circle cx="311.9" cy="183.0" r="1.55"/><circle cx="292.4" cy="145.9" r="1.55"/><circle cx="314.7" cy="149.5" r="1.55"/><circle cx="287.7" cy="181.5" r="1.55"/><circle cx="309.1" cy="185.6" r="1.55"/><circle cx="306.8" cy="167.7" r="1.55"/><circle cx="301.2" cy="183.7" r="1.55"/><circle cx="306.6" cy="164.2" r="1.55"/><circle cx="317.9" cy="175.1" r="1.55"/><circle cx="296.8" cy="151.7" r="1.55"/><circle cx="310.9" cy="174.5" r="1.55"/><circle cx="302.4" cy="154.2" r="1.55"/><circle cx="297.4" cy="187.8" r="1.55"/><circle cx="318.9" cy="171.2" r="1.55"/><circle cx="297.0" cy="165.3" r="1.55"/><circle cx="302.9" cy="171.1" r="1.55"/><circle cx="312.9" cy="186.9" r="1.55"/><circle cx="300.8" cy="152.9" r="1.55"/><circle cx="299.6" cy="158.1" r="1.55"/><circle cx="307.8" cy="168.6" r="1.55"/><circle cx="316.7" cy="182.6" r="1.55"/><circle cx="291.3" cy="165.8" r="1.55"/><circle cx="315.8" cy="151.1" r="1.55"/><circle cx="310.0" cy="166.9" r="1.55"/><circle cx="301.4" cy="163.1" r="1.55"/><circle cx="306.7" cy="163.3" r="1.55"/><circle cx="292.7" cy="172.9" r="1.55"/><circle cx="306.9" cy="146.9" r="1.55"/><circle cx="306.3" cy="158.1" r="1.55"/><circle cx="308.6" cy="172.2" r="1.55"/><circle cx="314.4" cy="154.5" r="1.55"/><circle cx="310.7" cy="165.1" r="1.55"/><circle cx="300.4" cy="162.3" r="1.55"/><circle cx="312.5" cy="165.2" r="1.55"/><circle cx="300.3" cy="181.4" r="1.55"/><circle cx="315.3" cy="158.8" r="1.55"/><circle cx="311.1" cy="160.4" r="1.55"/><circle cx="302.7" cy="181.1" r="1.55"/><circle cx="306.1" cy="185.8" r="1.55"/><circle cx="294.4" cy="183.1" r="1.55"/><circle cx="310.0" cy="153.8" r="1.55"/><circle cx="293.9" cy="143.5" r="1.55"/><circle cx="292.2" cy="145.9" r="1.55"/><circle cx="305.8" cy="188.9" r="1.55"/><circle cx="315.3" cy="188.1" r="1.55"/><circle cx="313.7" cy="152.9" r="1.55"/><circle cx="300.8" cy="193.3" r="1.55"/><circle cx="302.2" cy="152.1" r="1.55"/><circle cx="302.4" cy="192.4" r="1.55"/><circle cx="311.9" cy="187.6" r="1.55"/><circle cx="289.5" cy="154.6" r="1.55"/><circle cx="316.4" cy="150.6" r="1.55"/><circle cx="327.3" cy="147.8" r="1.55"/><circle cx="313.3" cy="188.5" r="1.55"/><circle cx="307.7" cy="173.9" r="1.55"/><circle cx="313.4" cy="187.8" r="1.55"/><circle cx="301.8" cy="169.3" r="1.55"/><circle cx="310.2" cy="154.8" r="1.55"/><circle cx="301.7" cy="153.7" r="1.55"/><circle cx="306.9" cy="169.9" r="1.55"/><circle cx="295.3" cy="155.1" r="1.55"/><circle cx="314.1" cy="189.7" r="1.55"/><circle cx="301.8" cy="183.4" r="1.55"/><circle cx="297.9" cy="183.4" r="1.55"/><circle cx="317.1" cy="175.8" r="1.55"/><circle cx="295.5" cy="163.4" r="1.55"/><circle cx="281.3" cy="180.4" r="1.55"/><circle cx="308.0" cy="144.2" r="1.55"/><circle cx="300.3" cy="189.8" r="1.55"/><circle cx="307.5" cy="178.3" r="1.55"/><circle cx="290.1" cy="186.4" r="1.55"/><circle cx="315.0" cy="181.9" r="1.55"/><circle cx="308.1" cy="192.1" r="1.55"/><circle cx="302.8" cy="161.3" r="1.55"/><circle cx="301.5" cy="191.2" r="1.55"/><circle cx="307.5" cy="167.2" r="1.55"/><circle cx="296.0" cy="153.6" r="1.55"/><circle cx="302.4" cy="182.2" r="1.55"/><circle cx="310.7" cy="182.3" r="1.55"/><circle cx="297.4" cy="156.5" r="1.55"/><circle cx="316.0" cy="181.0" r="1.55"/><circle cx="310.9" cy="182.9" r="1.55"/><circle cx="288.9" cy="154.7" r="1.55"/><circle cx="293.7" cy="144.1" r="1.55"/><circle cx="307.5" cy="144.3" r="1.55"/><circle cx="298.6" cy="164.7" r="1.55"/><circle cx="308.8" cy="176.8" r="1.55"/><circle cx="311.8" cy="168.3" r="1.55"/><circle cx="312.1" cy="148.4" r="1.55"/><circle cx="293.7" cy="158.7" r="1.55"/><circle cx="289.8" cy="172.1" r="1.55"/><circle cx="327.1" cy="163.4" r="1.55"/><circle cx="311.6" cy="163.0" r="1.55"/><circle cx="320.5" cy="156.0" r="1.55"/><circle cx="312.4" cy="185.8" r="1.55"/><circle cx="306.9" cy="191.2" r="1.55"/><circle cx="297.0" cy="165.2" r="1.55"/><circle cx="315.0" cy="151.5" r="1.55"/><circle cx="303.1" cy="185.1" r="1.55"/><circle cx="300.2" cy="185.7" r="1.55"/><circle cx="314.0" cy="158.0" r="1.55"/><circle cx="307.1" cy="143.4" r="1.55"/><circle cx="297.9" cy="180.3" r="1.55"/><circle cx="301.3" cy="164.1" r="1.55"/><circle cx="313.1" cy="168.3" r="1.55"/><circle cx="297.6" cy="151.2" r="1.55"/><circle cx="308.1" cy="146.8" r="1.55"/><circle cx="302.8" cy="181.2" r="1.55"/><circle cx="319.6" cy="173.6" r="1.55"/><circle cx="295.9" cy="175.3" r="1.55"/><circle cx="317.1" cy="165.4" r="1.55"/><circle cx="301.3" cy="156.3" r="1.55"/><circle cx="297.1" cy="163.2" r="1.55"/><circle cx="310.3" cy="164.3" r="1.55"/><circle cx="307.4" cy="184.7" r="1.55"/><circle cx="290.6" cy="145.3" r="1.55"/><circle cx="302.0" cy="148.0" r="1.55"/><circle cx="310.7" cy="147.3" r="1.55"/><circle cx="299.9" cy="176.5" r="1.55"/><circle cx="289.8" cy="172.2" r="1.55"/><circle cx="297.8" cy="190.1" r="1.55"/><circle cx="309.8" cy="175.9" r="1.55"/><circle cx="315.0" cy="168.0" r="1.55"/><circle cx="308.7" cy="148.2" r="1.55"/><circle cx="295.5" cy="147.7" r="1.55"/><circle cx="301.9" cy="168.6" r="1.55"/><circle cx="323.5" cy="148.1" r="1.55"/><circle cx="301.6" cy="171.3" r="1.55"/><circle cx="284.1" cy="168.9" r="1.55"/><circle cx="320.0" cy="151.9" r="1.55"/><circle cx="301.4" cy="177.1" r="1.55"/><circle cx="301.0" cy="151.8" r="1.55"/><circle cx="309.6" cy="150.2" r="1.55"/><circle cx="300.8" cy="168.0" r="1.55"/><circle cx="302.6" cy="189.2" r="1.55"/><circle cx="309.7" cy="178.1" r="1.55"/><circle cx="298.7" cy="153.5" r="1.55"/><circle cx="308.5" cy="182.7" r="1.55"/><circle cx="306.3" cy="185.3" r="1.55"/><circle cx="309.6" cy="174.4" r="1.55"/><circle cx="290.6" cy="169.8" r="1.55"/><circle cx="289.8" cy="170.6" r="1.55"/><circle cx="293.0" cy="144.7" r="1.55"/><circle cx="309.2" cy="145.8" r="1.55"/><circle cx="299.3" cy="159.9" r="1.55"/><circle cx="317.8" cy="178.4" r="1.55"/><circle cx="308.4" cy="143.0" r="1.55"/><circle cx="307.5" cy="157.9" r="1.55"/><circle cx="302.8" cy="158.9" r="1.55"/><circle cx="313.1" cy="164.2" r="1.55"/><circle cx="307.1" cy="161.4" r="1.55"/><circle cx="295.5" cy="152.9" r="1.55"/><circle cx="318.1" cy="146.5" r="1.55"/><circle cx="301.2" cy="152.0" r="1.55"/><circle cx="289.7" cy="143.5" r="1.55"/><circle cx="311.4" cy="151.5" r="1.55"/><circle cx="300.4" cy="189.2" r="1.55"/><circle cx="313.6" cy="169.4" r="1.55"/><circle cx="301.0" cy="185.4" r="1.55"/><circle cx="313.1" cy="144.5" r="1.55"/><circle cx="310.3" cy="152.9" r="1.55"/><circle cx="291.4" cy="154.4" r="1.55"/><circle cx="280.3" cy="145.1" r="1.55"/><circle cx="307.9" cy="192.4" r="1.55"/><circle cx="294.8" cy="169.6" r="1.55"/><circle cx="298.4" cy="180.2" r="1.55"/><circle cx="296.8" cy="156.4" r="1.55"/><circle cx="307.0" cy="151.9" r="1.55"/><circle cx="312.5" cy="188.4" r="1.55"/><circle cx="294.4" cy="162.3" r="1.55"/><circle cx="287.0" cy="183.9" r="1.55"/><circle cx="299.9" cy="155.0" r="1.55"/><circle cx="303.2" cy="168.5" r="1.55"/><circle cx="306.7" cy="157.9" r="1.55"/><circle cx="308.6" cy="188.5" r="1.55"/><circle cx="294.4" cy="163.1" r="1.55"/><circle cx="293.7" cy="172.0" r="1.55"/><circle cx="315.9" cy="158.9" r="1.55"/><circle cx="298.9" cy="167.3" r="1.55"/><circle cx="323.8" cy="176.4" r="1.55"/><circle cx="299.0" cy="152.8" r="1.55"/><circle cx="309.9" cy="155.6" r="1.55"/><circle cx="315.0" cy="168.5" r="1.55"/><circle cx="298.4" cy="179.8" r="1.55"/><circle cx="312.4" cy="145.2" r="1.55"/><circle cx="292.5" cy="144.7" r="1.55"/><circle cx="307.4" cy="173.1" r="1.55"/><circle cx="299.9" cy="178.6" r="1.55"/><circle cx="300.8" cy="168.3" r="1.55"/><circle cx="292.5" cy="163.0" r="1.55"/><circle cx="289.6" cy="158.4" r="1.55"/><circle cx="300.9" cy="184.3" r="1.55"/><circle cx="294.3" cy="162.7" r="1.55"/><circle cx="294.8" cy="187.8" r="1.55"/><circle cx="295.1" cy="147.8" r="1.55"/><circle cx="291.8" cy="158.8" r="1.55"/><circle cx="296.0" cy="161.3" r="1.55"/><circle cx="316.7" cy="163.8" r="1.55"/><circle cx="290.8" cy="164.0" r="1.55"/><circle cx="324.4" cy="171.9" r="1.55"/><circle cx="310.9" cy="160.0" r="1.55"/><circle cx="300.8" cy="160.1" r="1.55"/><circle cx="311.6" cy="155.6" r="1.55"/><circle cx="308.3" cy="183.8" r="1.55"/><circle cx="317.2" cy="151.3" r="1.55"/><circle cx="316.5" cy="185.0" r="1.55"/><circle cx="296.8" cy="170.7" r="1.55"/><circle cx="301.2" cy="190.5" r="1.55"/><circle cx="298.6" cy="166.0" r="1.55"/><circle cx="300.7" cy="173.2" r="1.55"/><circle cx="300.0" cy="167.1" r="1.55"/><circle cx="298.6" cy="179.7" r="1.55"/><circle cx="302.5" cy="177.9" r="1.55"/><circle cx="312.9" cy="157.4" r="1.55"/><circle cx="313.8" cy="158.7" r="1.55"/><circle cx="298.5" cy="185.7" r="1.55"/><circle cx="290.1" cy="157.9" r="1.55"/><circle cx="307.1" cy="173.1" r="1.55"/><circle cx="302.1" cy="193.7" r="1.55"/><circle cx="314.8" cy="156.1" r="1.55"/><circle cx="315.7" cy="162.2" r="1.55"/><circle cx="303.8" cy="191.0" r="1.55"/><circle cx="298.4" cy="161.8" r="1.55"/><circle cx="296.0" cy="175.3" r="1.55"/><circle cx="309.7" cy="182.5" r="1.55"/><circle cx="312.2" cy="173.3" r="1.55"/><circle cx="309.9" cy="181.9" r="1.55"/><circle cx="319.8" cy="172.2" r="1.55"/><circle cx="309.4" cy="160.1" r="1.55"/><circle cx="307.3" cy="192.7" r="1.55"/><circle cx="297.4" cy="167.9" r="1.55"/><circle cx="291.8" cy="178.6" r="1.55"/><circle cx="307.1" cy="152.7" r="1.55"/><circle cx="307.2" cy="143.6" r="1.55"/><circle cx="319.9" cy="160.9" r="1.55"/><circle cx="300.8" cy="191.0" r="1.55"/><circle cx="302.8" cy="179.0" r="1.55"/><circle cx="309.7" cy="192.6" r="1.55"/><circle cx="312.3" cy="153.5" r="1.55"/><circle cx="311.0" cy="155.0" r="1.55"/><circle cx="320.8" cy="155.7" r="1.55"/><circle cx="302.8" cy="162.9" r="1.55"/><circle cx="311.1" cy="145.2" r="1.55"/><circle cx="321.1" cy="173.5" r="1.55"/><circle cx="301.4" cy="184.6" r="1.55"/><circle cx="306.4" cy="156.4" r="1.55"/><circle cx="299.9" cy="178.4" r="1.55"/><circle cx="308.3" cy="177.4" r="1.55"/><circle cx="302.0" cy="189.5" r="1.55"/><circle cx="316.9" cy="160.5" r="1.55"/><circle cx="307.0" cy="174.8" r="1.55"/><circle cx="312.5" cy="163.0" r="1.55"/><circle cx="302.1" cy="146.2" r="1.55"/><circle cx="290.9" cy="144.5" r="1.55"/><circle cx="270.5" cy="160.7" r="1.55"/><circle cx="337.9" cy="156.0" r="1.55"/><circle cx="344.6" cy="162.7" r="1.55"/><circle cx="334.0" cy="165.4" r="1.55"/><circle cx="277.2" cy="167.4" r="1.55"/><circle cx="343.0" cy="165.4" r="1.55"/><circle cx="273.2" cy="164.6" r="1.55"/>
</g>
<g fill="#dc55ee" stroke="#4a1d55" stroke-width="0.6">
<circle cx="309.0" cy="131.3" r="1.55"/><circle cx="295.9" cy="124.4" r="1.55"/><circle cx="301.1" cy="129.0" r="1.55"/><circle cx="307.1" cy="137.5" r="1.55"/><circle cx="308.6" cy="136.9" r="1.55"/><circle cx="297.7" cy="132.9" r="1.55"/><circle cx="297.5" cy="131.1" r="1.55"/><circle cx="307.3" cy="138.2" r="1.55"/><circle cx="308.1" cy="137.3" r="1.55"/><circle cx="309.4" cy="136.4" r="1.55"/><circle cx="313.6" cy="141.4" r="1.55"/><circle cx="312.5" cy="138.3" r="1.55"/><circle cx="309.1" cy="132.5" r="1.55"/><circle cx="306.8" cy="134.6" r="1.55"/><circle cx="299.4" cy="141.1" r="1.55"/><circle cx="298.2" cy="117.5" r="1.55"/><circle cx="318.1" cy="128.6" r="1.55"/><circle cx="311.5" cy="124.2" r="1.55"/><circle cx="309.1" cy="136.0" r="1.55"/><circle cx="286.8" cy="141.0" r="1.55"/><circle cx="310.8" cy="136.9" r="1.55"/><circle cx="297.5" cy="141.2" r="1.55"/><circle cx="297.0" cy="133.3" r="1.55"/><circle cx="309.2" cy="138.0" r="1.55"/><circle cx="319.5" cy="139.1" r="1.55"/><circle cx="302.2" cy="126.3" r="1.55"/><circle cx="293.6" cy="141.2" r="1.55"/><circle cx="308.2" cy="140.1" r="1.55"/><circle cx="288.1" cy="115.5" r="1.55"/><circle cx="308.1" cy="132.2" r="1.55"/><circle cx="314.4" cy="133.5" r="1.55"/><circle cx="300.7" cy="136.4" r="1.55"/><circle cx="324.8" cy="125.9" r="1.55"/><circle cx="296.4" cy="140.9" r="1.55"/><circle cx="322.2" cy="135.7" r="1.55"/><circle cx="299.0" cy="138.7" r="1.55"/><circle cx="307.7" cy="135.0" r="1.55"/><circle cx="320.7" cy="135.8" r="1.55"/><circle cx="307.1" cy="140.6" r="1.55"/><circle cx="306.8" cy="120.1" r="1.55"/><circle cx="292.9" cy="141.2" r="1.55"/><circle cx="299.5" cy="133.1" r="1.55"/><circle cx="292.5" cy="138.8" r="1.55"/><circle cx="285.7" cy="141.5" r="1.55"/><circle cx="297.4" cy="127.9" r="1.55"/><circle cx="313.5" cy="129.0" r="1.55"/><circle cx="299.5" cy="141.4" r="1.55"/><circle cx="294.3" cy="137.9" r="1.55"/><circle cx="292.3" cy="113.1" r="1.55"/><circle cx="322.1" cy="123.9" r="1.55"/><circle cx="298.8" cy="123.2" r="1.55"/><circle cx="298.2" cy="130.9" r="1.55"/><circle cx="309.0" cy="122.8" r="1.55"/><circle cx="297.2" cy="116.4" r="1.55"/><circle cx="293.9" cy="127.4" r="1.55"/><circle cx="316.3" cy="135.0" r="1.55"/><circle cx="327.0" cy="123.9" r="1.55"/><circle cx="310.1" cy="120.9" r="1.55"/><circle cx="297.8" cy="137.8" r="1.55"/><circle cx="317.6" cy="139.7" r="1.55"/><circle cx="297.0" cy="119.8" r="1.55"/><circle cx="294.0" cy="139.1" r="1.55"/><circle cx="335.8" cy="141.0" r="1.55"/><circle cx="315.9" cy="141.6" r="1.55"/><circle cx="295.4" cy="133.0" r="1.55"/><circle cx="316.5" cy="112.3" r="1.55"/><circle cx="296.2" cy="140.7" r="1.55"/><circle cx="308.3" cy="114.6" r="1.55"/><circle cx="315.5" cy="138.4" r="1.55"/><circle cx="300.0" cy="132.0" r="1.55"/><circle cx="297.1" cy="134.1" r="1.55"/><circle cx="316.0" cy="141.8" r="1.55"/><circle cx="311.2" cy="120.0" r="1.55"/><circle cx="300.2" cy="131.5" r="1.55"/><circle cx="289.6" cy="140.3" r="1.55"/><circle cx="301.8" cy="121.4" r="1.55"/><circle cx="307.6" cy="125.6" r="1.55"/><circle cx="294.0" cy="124.7" r="1.55"/><circle cx="307.7" cy="107.2" r="1.55"/><circle cx="321.7" cy="116.7" r="1.55"/><circle cx="292.8" cy="130.1" r="1.55"/><circle cx="310.7" cy="127.2" r="1.55"/><circle cx="312.9" cy="140.1" r="1.55"/><circle cx="290.8" cy="136.4" r="1.55"/><circle cx="317.6" cy="136.6" r="1.55"/><circle cx="312.8" cy="129.0" r="1.55"/><circle cx="296.9" cy="127.6" r="1.55"/><circle cx="312.6" cy="114.5" r="1.55"/><circle cx="307.8" cy="135.0" r="1.55"/><circle cx="319.4" cy="137.9" r="1.55"/><circle cx="288.8" cy="140.7" r="1.55"/><circle cx="301.2" cy="140.2" r="1.55"/><circle cx="315.2" cy="130.4" r="1.55"/><circle cx="325.3" cy="140.2" r="1.55"/><circle cx="283.6" cy="127.6" r="1.55"/><circle cx="296.8" cy="49.2" r="1.55"/><circle cx="295.6" cy="55.1" r="1.55"/><circle cx="297.5" cy="64.2" r="1.55"/><circle cx="313.6" cy="76.0" r="1.55"/><circle cx="322.2" cy="79.2" r="1.55"/><circle cx="308.9" cy="93.7" r="1.55"/><circle cx="316.4" cy="98.5" r="1.55"/><circle cx="323.0" cy="98.9" r="1.55"/><circle cx="326.2" cy="109.5" r="1.55"/><circle cx="273.2" cy="137.1" r="1.55"/><circle cx="276.4" cy="139.8" r="1.55"/><circle cx="290.9" cy="99.6" r="1.55"/><circle cx="298.7" cy="105.5" r="1.55"/><circle cx="310.9" cy="107.5" r="1.55"/><circle cx="313.6" cy="111.5" r="1.55"/><circle cx="288.9" cy="113.4" r="1.55"/>
</g>
<line x1="225.0" y1="35.8" x2="225.0" y2="195.0" stroke="#000" stroke-width="1.5"/>
<line x1="224.2" y1="194.2" x2="383.5" y2="194.2" stroke="#000" stroke-width="1.5"/>
<line x1="218.5" y1="194.2" x2="225.0" y2="194.2" stroke="#000" stroke-width="1.6"/>
<text class="sb" x="217.4" y="198.6" font-size="12.8" text-anchor="end">0</text>
<line x1="218.5" y1="154.8" x2="225.0" y2="154.8" stroke="#000" stroke-width="1.6"/>
<text class="sb" x="217.4" y="159.2" font-size="12.8" text-anchor="end">1</text>
<line x1="218.5" y1="115.4" x2="225.0" y2="115.4" stroke="#000" stroke-width="1.6"/>
<text class="sb" x="217.4" y="119.8" font-size="12.8" text-anchor="end">2</text>
<line x1="218.5" y1="76.0" x2="225.0" y2="76.0" stroke="#000" stroke-width="1.6"/>
<text class="sb" x="217.4" y="80.4" font-size="12.8" text-anchor="end">3</text>
<line x1="218.5" y1="36.6" x2="225.0" y2="36.6" stroke="#000" stroke-width="1.6"/>
<text class="sb" x="217.4" y="41.0" font-size="12.8" text-anchor="end">4</text>
<line x1="226.2" y1="194.2" x2="226.2" y2="200.7" stroke="#000" stroke-width="1.6"/>
<text class="sb" x="226.2" y="215.0" font-size="12.6" text-anchor="middle">-2</text>
<line x1="265.4" y1="194.2" x2="265.4" y2="200.7" stroke="#000" stroke-width="1.6"/>
<text class="sb" x="265.4" y="215.0" font-size="12.6" text-anchor="middle">-1</text>
<line x1="304.6" y1="194.2" x2="304.6" y2="200.7" stroke="#000" stroke-width="1.6"/>
<text class="sb" x="304.6" y="215.0" font-size="12.6" text-anchor="middle">0</text>
<line x1="343.8" y1="194.2" x2="343.8" y2="200.7" stroke="#000" stroke-width="1.6"/>
<text class="sb" x="343.8" y="215.0" font-size="12.6" text-anchor="middle">1</text>
<line x1="383.0" y1="194.2" x2="383.0" y2="200.7" stroke="#000" stroke-width="1.6"/>
<text class="sb" x="383.0" y="215.0" font-size="12.6" text-anchor="middle">2</text>
<text class="sb" x="226.5" y="231.0" font-size="12.3" letter-spacing="0.55">log2(fold change from WT)</text>
<text class="sb" font-size="14" text-anchor="middle" transform="translate(204,116) rotate(-90)">-log<tspan font-size="9.5" dy="3">10</tspan><tspan dy="-3">(</tspan><tspan font-style="italic">p</tspan>-value)</text>
<text class="sb" font-size="15.4" transform="translate(368.4,29.5) scale(1.25,1)">b</text>
<rect x="515.20" y="193.40" width="6.20" height="3.10" fill="#cfe2f6" stroke="#222" stroke-width="0.9"/>
<rect x="521.40" y="191.90" width="6.20" height="4.60" fill="#e28cf2" stroke="#222" stroke-width="0.9"/>
<rect x="527.60" y="183.50" width="6.20" height="13.00" fill="#cfe2f6" stroke="#222" stroke-width="0.9"/>
<rect x="533.80" y="148.50" width="5.90" height="48.00" fill="#e28cf2" stroke="#222" stroke-width="0.9"/>
<rect x="539.70" y="134.10" width="5.90" height="62.40" fill="#cfe2f6" stroke="#222" stroke-width="0.9"/>
<rect x="545.60" y="54.80" width="6.10" height="141.70" fill="#e28cf2" stroke="#222" stroke-width="0.9"/>
<rect x="551.70" y="73.80" width="6.00" height="122.70" fill="#cfe2f6" stroke="#222" stroke-width="0.9"/>
<rect x="557.70" y="166.40" width="6.30" height="30.10" fill="#e28cf2" stroke="#222" stroke-width="0.9"/>
<rect x="564.00" y="156.60" width="6.10" height="39.90" fill="#cfe2f6" stroke="#222" stroke-width="0.9"/>
<rect x="570.10" y="192.60" width="6.10" height="3.90" fill="#e28cf2" stroke="#222" stroke-width="0.9"/>
<rect x="576.20" y="191.60" width="5.90" height="4.90" fill="#cfe2f6" stroke="#222" stroke-width="0.9"/>
<polyline points="420.0,195.5 421.0,195.5 422.0,195.5 423.0,195.5 424.0,195.5 425.0,195.5 426.0,195.5 427.0,195.5 428.0,195.5 429.0,195.5 430.0,195.5 431.0,195.5 432.0,195.5 433.0,195.5 434.0,195.5 435.0,195.5 436.0,195.5 437.0,195.5 438.0,195.5 439.0,195.5 440.0,195.5 441.0,195.5 442.0,195.5 443.0,195.5 444.0,195.5 445.0,195.5 446.0,195.5 447.0,195.5 448.0,195.5 449.0,195.5 450.0,195.5 451.0,195.5 452.0,195.5 453.0,195.5 454.0,195.5 455.0,195.5 456.0,195.5 457.0,195.5 458.0,195.5 459.0,195.5 460.0,195.5 461.0,195.5 462.0,195.5 463.0,195.5 464.0,195.5 465.0,195.5 466.0,195.5 467.0,195.5 468.0,195.5 469.0,195.5 470.0,195.5 471.0,195.5 472.0,195.5 473.0,195.5 474.0,195.5 475.0,195.5 476.0,195.5 477.0,195.5 478.0,195.5 479.0,195.5 480.0,195.5 481.0,195.5 482.0,195.5 483.0,195.5 484.0,195.5 485.0,195.5 486.0,195.5 487.0,195.5 488.0,195.5 489.0,195.5 490.0,195.5 491.0,195.5 492.0,195.5 493.0,195.5 494.0,195.5 495.0,195.5 496.0,195.5 497.0,195.5 498.0,195.5 499.0,195.5 500.0,195.5 501.0,195.5 502.0,195.5 503.0,195.5 504.0,195.5 505.0,195.5 506.0,195.5 507.0,195.5 508.0,195.4 509.0,195.4 510.0,195.4 511.0,195.3 512.0,195.3 513.0,195.2 514.0,195.1 515.0,194.9 516.0,194.7 517.0,194.5 518.0,194.1 519.0,193.7 520.0,193.2 521.0,192.5 522.0,191.6 523.0,190.6 524.0,189.4 525.0,187.9 526.0,186.1 527.0,184.0 528.0,181.5 529.0,178.7 530.0,175.4 531.0,171.7 532.0,167.5 533.0,162.9 534.0,157.8 535.0,152.3 536.0,146.4 537.0,140.1 538.0,133.6 539.0,126.8 540.0,120.0 541.0,113.1 542.0,106.4 543.0,99.9 544.0,93.8 545.0,88.2 546.0,83.2 547.0,79.0 548.0,75.5 549.0,73.0 550.0,71.5 551.0,71.0 552.0,71.5 553.0,73.0 554.0,75.5 555.0,79.0 556.0,83.2 557.0,88.2 558.0,93.8 559.0,99.9 560.0,106.4 561.0,113.1 562.0,120.0 563.0,126.8 564.0,133.6 565.0,140.1 566.0,146.4 567.0,152.3 568.0,157.8 569.0,162.9 570.0,167.5 571.0,171.7 572.0,175.4 573.0,178.7 574.0,181.5 575.0,184.0 576.0,186.1 577.0,187.9 578.0,189.4 579.0,190.6 580.0,191.6 581.0,192.5 582.0,193.2 583.0,193.7 584.0,194.1 585.0,194.5 586.0,194.7 587.0,194.9 588.0,195.1 589.0,195.2 590.0,195.3 591.0,195.3 592.0,195.4 593.0,195.4 594.0,195.4 595.0,195.5 596.0,195.5 597.0,195.5 598.0,195.5 599.0,195.5 600.0,195.5 601.0,195.5 602.0,195.5 603.0,195.5 604.0,195.5 605.0,195.5 606.0,195.5 607.0,195.5 608.0,195.5 609.0,195.5 610.0,195.5 611.0,195.5 612.0,195.5 613.0,195.5 614.0,195.5 615.0,195.5 616.0,195.5 617.0,195.5 618.0,195.5 619.0,195.5 620.0,195.5 621.0,195.5 622.0,195.5 623.0,195.5 624.0,195.5 625.0,195.5 626.0,195.5 627.0,195.5 628.0,195.5 629.0,195.5 630.0,195.5 631.0,195.5 632.0,195.5 633.0,195.5 634.0,195.5 635.0,195.5 636.0,195.5 637.0,195.5 638.0,195.5 639.0,195.5 640.0,195.5 641.0,195.5 642.0,195.5 643.0,195.5 644.0,195.5 645.0,195.5 646.0,195.5 647.0,195.5 648.0,195.5 649.0,195.5 650.0,195.5 651.0,195.5 652.0,195.5 653.0,195.5 654.0,195.5 655.0,195.5 656.0,195.5 657.0,195.5 658.0,195.5 659.0,195.5 660.0,195.5 661.0,195.5 662.0,195.5 663.0,195.5 664.0,195.5 665.0,195.5 666.0,195.5 667.0,195.5 668.0,195.5 669.0,195.5 670.0,195.5 671.0,195.5 672.0,195.5 673.0,195.5 674.0,195.5 675.0,195.5 676.0,195.5 677.0,195.5 678.0,195.5 679.0,195.5 680.0,195.5 681.0,195.5 682.0,195.5 683.0,195.5 684.0,195.5 685.0,195.5" fill="none" stroke="#8ec0ee" stroke-width="0.9"/>
<polyline points="420.0,195.5 421.0,195.5 422.0,195.5 423.0,195.5 424.0,195.5 425.0,195.5 426.0,195.5 427.0,195.5 428.0,195.5 429.0,195.5 430.0,195.5 431.0,195.5 432.0,195.5 433.0,195.5 434.0,195.5 435.0,195.5 436.0,195.5 437.0,195.5 438.0,195.5 439.0,195.5 440.0,195.5 441.0,195.5 442.0,195.5 443.0,195.5 444.0,195.5 445.0,195.5 446.0,195.5 447.0,195.5 448.0,195.5 449.0,195.5 450.0,195.5 451.0,195.5 452.0,195.5 453.0,195.5 454.0,195.5 455.0,195.5 456.0,195.5 457.0,195.5 458.0,195.5 459.0,195.5 460.0,195.5 461.0,195.5 462.0,195.5 463.0,195.5 464.0,195.5 465.0,195.5 466.0,195.5 467.0,195.5 468.0,195.5 469.0,195.5 470.0,195.5 471.0,195.5 472.0,195.5 473.0,195.5 474.0,195.5 475.0,195.5 476.0,195.5 477.0,195.5 478.0,195.5 479.0,195.5 480.0,195.5 481.0,195.5 482.0,195.5 483.0,195.5 484.0,195.5 485.0,195.5 486.0,195.5 487.0,195.5 488.0,195.5 489.0,195.5 490.0,195.5 491.0,195.5 492.0,195.5 493.0,195.5 494.0,195.5 495.0,195.5 496.0,195.5 497.0,195.5 498.0,195.5 499.0,195.5 500.0,195.5 501.0,195.5 502.0,195.5 503.0,195.5 504.0,195.5 505.0,195.5 506.0,195.5 507.0,195.5 508.0,195.5 509.0,195.5 510.0,195.5 511.0,195.5 512.0,195.5 513.0,195.5 514.0,195.4 515.0,195.4 516.0,195.4 517.0,195.3 518.0,195.2 519.0,195.1 520.0,194.9 521.0,194.7 522.0,194.3 523.0,193.8 524.0,193.2 525.0,192.4 526.0,191.4 527.0,190.1 528.0,188.4 529.0,186.3 530.0,183.7 531.0,180.6 532.0,176.8 533.0,172.4 534.0,167.3 535.0,161.5 536.0,154.9 537.0,147.6 538.0,139.7 539.0,131.1 540.0,122.1 541.0,112.9 542.0,103.5 543.0,94.2 544.0,85.3 545.0,76.9 546.0,69.5 547.0,63.0 548.0,57.9 549.0,54.2 550.0,52.0 551.0,51.5 552.0,52.7 553.0,55.5 554.0,59.8 555.0,65.5 556.0,72.3 557.0,80.2 558.0,88.8 559.0,97.9 560.0,107.2 561.0,116.6 562.0,125.8 563.0,134.6 564.0,142.9 565.0,150.6 566.0,157.6 567.0,163.9 568.0,169.5 569.0,174.3 570.0,178.4 571.0,181.9 572.0,184.8 573.0,187.2 574.0,189.1 575.0,190.6 576.0,191.8 577.0,192.8 578.0,193.5 579.0,194.0 580.0,194.5 581.0,194.8 582.0,195.0 583.0,195.1 584.0,195.3 585.0,195.3 586.0,195.4 587.0,195.4 588.0,195.5 589.0,195.5 590.0,195.5 591.0,195.5 592.0,195.5 593.0,195.5 594.0,195.5 595.0,195.5 596.0,195.5 597.0,195.5 598.0,195.5 599.0,195.5 600.0,195.5 601.0,195.5 602.0,195.5 603.0,195.5 604.0,195.5 605.0,195.5 606.0,195.5 607.0,195.5 608.0,195.5 609.0,195.5 610.0,195.5 611.0,195.5 612.0,195.5 613.0,195.5 614.0,195.5 615.0,195.5 616.0,195.5 617.0,195.5 618.0,195.5 619.0,195.5 620.0,195.5 621.0,195.5 622.0,195.5 623.0,195.5 624.0,195.5 625.0,195.5 626.0,195.5 627.0,195.5 628.0,195.5 629.0,195.5 630.0,195.5 631.0,195.5 632.0,195.5 633.0,195.5 634.0,195.5 635.0,195.5 636.0,195.5 637.0,195.5 638.0,195.5 639.0,195.5 640.0,195.5 641.0,195.5 642.0,195.5 643.0,195.5 644.0,195.5 645.0,195.5 646.0,195.5 647.0,195.5 648.0,195.5 649.0,195.5 650.0,195.5 651.0,195.5 652.0,195.5 653.0,195.5 654.0,195.5 655.0,195.5 656.0,195.5 657.0,195.5 658.0,195.5 659.0,195.5 660.0,195.5 661.0,195.5 662.0,195.5 663.0,195.5 664.0,195.5 665.0,195.5 666.0,195.5 667.0,195.5 668.0,195.5 669.0,195.5 670.0,195.5 671.0,195.5 672.0,195.5 673.0,195.5 674.0,195.5 675.0,195.5 676.0,195.5 677.0,195.5 678.0,195.5 679.0,195.5 680.0,195.5 681.0,195.5 682.0,195.5 683.0,195.5 684.0,195.5 685.0,195.5" fill="none" stroke="#e070f0" stroke-width="0.9"/>
<line x1="430.7" y1="23.2" x2="430.7" y2="197.5" stroke="#000" stroke-width="2.2"/>
<line x1="420.0" y1="196.5" x2="685.0" y2="196.5" stroke="#000" stroke-width="2.4"/>
<line x1="420.0" y1="195.3" x2="685.0" y2="195.3" stroke="#a060b0" stroke-width="0.7"/>
<line x1="425.0" y1="138.9" x2="430.7" y2="138.9" stroke="#000" stroke-width="2.0"/>
<text class="sb" x="422.0" y="143.4" font-size="13.2" text-anchor="end">1000</text>
<line x1="425.0" y1="81.4" x2="430.7" y2="81.4" stroke="#000" stroke-width="2.0"/>
<text class="sb" x="422.0" y="85.9" font-size="13.2" text-anchor="end">2000</text>
<line x1="425.0" y1="23.9" x2="430.7" y2="23.9" stroke="#000" stroke-width="2.0"/>
<text class="sb" x="422.0" y="28.4" font-size="13.2" text-anchor="end">3000</text>
<line x1="430.5" y1="196.5" x2="430.5" y2="203.7" stroke="#000" stroke-width="2.0"/>
<text class="sb" x="430.5" y="218.3" font-size="12" text-anchor="middle">-2</text>
<line x1="490.9" y1="196.5" x2="490.9" y2="203.7" stroke="#000" stroke-width="2.0"/>
<text class="sb" x="490.9" y="218.3" font-size="12" text-anchor="middle">-1</text>
<line x1="551.2" y1="196.5" x2="551.2" y2="203.7" stroke="#000" stroke-width="2.0"/>
<text class="sb" x="551.2" y="218.3" font-size="12" text-anchor="middle">0</text>
<line x1="611.5" y1="196.5" x2="611.5" y2="203.7" stroke="#000" stroke-width="2.0"/>
<text class="sb" x="611.5" y="218.3" font-size="12" text-anchor="middle">1</text>
<line x1="671.9" y1="196.5" x2="671.9" y2="203.7" stroke="#000" stroke-width="2.0"/>
<text class="sb" x="671.9" y="218.3" font-size="12" text-anchor="middle">2</text>
<text class="sb" x="467.2" y="237.9" font-size="14.7" letter-spacing="0.25">log<tspan font-size="10" dy="3">2</tspan><tspan dy="-3">(fold change from WT)</tspan></text>
<text class="sb" font-size="14.7" text-anchor="middle" transform="translate(387.6,109.3) rotate(-90)">Number of values</text>
<rect x="434.30" y="30.70" width="18.30" height="3.80" fill="#e28cf2" stroke="#333" stroke-width="0.7"/>
<rect x="434.30" y="46.20" width="18.30" height="3.60" fill="#cfe2f6" stroke="#333" stroke-width="0.7"/>
<text class="sb" x="463.2" y="37.3" font-size="10" letter-spacing="0.3">Cortex</text>
<text class="sb" x="463.2" y="52.4" font-size="10" letter-spacing="0.1">Hippocampus</text>
<line x1="519.5" y1="7.6" x2="571.6" y2="7.6" stroke="#111" stroke-width="1.1"/>
<g fill="#e8eef6" stroke="#555" stroke-width="0.45"><circle cx="473.5" cy="7.7" r="1.0"/><circle cx="481.0" cy="7.8" r="1.0"/><circle cx="488.5" cy="7.8" r="1.0"/><circle cx="497.0" cy="8.0" r="1.0"/><circle cx="499.5" cy="7.8" r="1.0"/><circle cx="502.0" cy="7.9" r="1.0"/></g>
<g fill="#cdd8e4" stroke="#222" stroke-width="0.45"><circle cx="502.5" cy="7.6" r="1.0"/><circle cx="518.5" cy="8.9" r="1.0"/><circle cx="517.8" cy="3.6" r="1.0"/><circle cx="510.2" cy="5.5" r="1.0"/><circle cx="511.5" cy="8.3" r="1.0"/><circle cx="502.2" cy="7.4" r="1.0"/><circle cx="506.9" cy="9.6" r="1.0"/><circle cx="515.4" cy="3.0" r="1.0"/><circle cx="516.0" cy="2.6" r="1.0"/><circle cx="512.8" cy="3.6" r="1.0"/><circle cx="502.0" cy="7.8" r="1.0"/><circle cx="505.7" cy="6.6" r="1.0"/><circle cx="519.2" cy="10.4" r="1.0"/><circle cx="507.1" cy="9.9" r="1.0"/><circle cx="511.4" cy="9.3" r="1.0"/><circle cx="505.6" cy="9.2" r="1.0"/><circle cx="514.1" cy="13.2" r="1.0"/><circle cx="517.6" cy="5.4" r="1.0"/><circle cx="508.3" cy="5.5" r="1.0"/><circle cx="504.5" cy="6.5" r="1.0"/><circle cx="507.3" cy="8.1" r="1.0"/><circle cx="502.1" cy="7.7" r="1.0"/><circle cx="507.9" cy="6.5" r="1.0"/><circle cx="516.3" cy="7.3" r="1.0"/><circle cx="507.5" cy="7.5" r="1.0"/><circle cx="514.3" cy="2.1" r="1.0"/><circle cx="519.1" cy="3.8" r="1.0"/><circle cx="515.1" cy="12.1" r="1.0"/><circle cx="502.3" cy="7.8" r="1.0"/><circle cx="508.4" cy="8.1" r="1.0"/><circle cx="502.2" cy="7.3" r="1.0"/><circle cx="505.2" cy="9.0" r="1.0"/><circle cx="505.4" cy="8.5" r="1.0"/><circle cx="518.3" cy="11.8" r="1.0"/><circle cx="508.0" cy="6.7" r="1.0"/><circle cx="511.2" cy="10.1" r="1.0"/><circle cx="503.9" cy="8.1" r="1.0"/><circle cx="516.0" cy="12.6" r="1.0"/><circle cx="502.6" cy="7.9" r="1.0"/><circle cx="503.6" cy="7.3" r="1.0"/><circle cx="512.7" cy="12.1" r="1.0"/><circle cx="507.9" cy="10.1" r="1.0"/><circle cx="511.5" cy="5.8" r="1.0"/><circle cx="507.5" cy="5.8" r="1.0"/><circle cx="503.4" cy="7.1" r="1.0"/><circle cx="514.1" cy="13.6" r="1.0"/><circle cx="504.8" cy="6.3" r="1.0"/><circle cx="519.3" cy="7.9" r="1.0"/><circle cx="509.1" cy="5.7" r="1.0"/><circle cx="512.4" cy="11.0" r="1.0"/><circle cx="510.0" cy="7.0" r="1.0"/><circle cx="503.0" cy="8.0" r="1.0"/><circle cx="502.6" cy="7.6" r="1.0"/><circle cx="516.7" cy="2.9" r="1.0"/><circle cx="514.8" cy="13.4" r="1.0"/><circle cx="513.0" cy="10.8" r="1.0"/><circle cx="503.9" cy="7.5" r="1.0"/><circle cx="504.6" cy="8.5" r="1.0"/><circle cx="507.2" cy="7.4" r="1.0"/><circle cx="519.5" cy="10.1" r="1.0"/></g>
<g fill="#cdd8e4" stroke="#222" stroke-width="0.45"><circle cx="580.8" cy="7.3" r="1.0"/><circle cx="576.2" cy="9.7" r="1.0"/><circle cx="576.1" cy="5.6" r="1.0"/><circle cx="575.4" cy="4.1" r="1.0"/><circle cx="575.1" cy="12.5" r="1.0"/><circle cx="580.6" cy="8.3" r="1.0"/><circle cx="576.3" cy="6.1" r="1.0"/><circle cx="572.4" cy="6.7" r="1.0"/><circle cx="579.0" cy="10.2" r="1.0"/><circle cx="575.0" cy="10.5" r="1.0"/><circle cx="578.9" cy="9.0" r="1.0"/><circle cx="577.8" cy="9.7" r="1.0"/><circle cx="575.0" cy="9.7" r="1.0"/><circle cx="574.2" cy="7.4" r="1.0"/><circle cx="578.8" cy="9.0" r="1.0"/><circle cx="574.4" cy="12.4" r="1.0"/><circle cx="577.7" cy="8.3" r="1.0"/><circle cx="571.7" cy="7.6" r="1.0"/><circle cx="574.0" cy="9.5" r="1.0"/><circle cx="576.0" cy="10.6" r="1.0"/><circle cx="577.7" cy="10.0" r="1.0"/><circle cx="574.9" cy="9.1" r="1.0"/><circle cx="578.5" cy="10.0" r="1.0"/><circle cx="574.9" cy="11.1" r="1.0"/><circle cx="579.8" cy="8.8" r="1.0"/><circle cx="580.8" cy="10.2" r="1.0"/><circle cx="576.5" cy="7.9" r="1.0"/><circle cx="573.2" cy="10.0" r="1.0"/><circle cx="580.4" cy="7.5" r="1.0"/><circle cx="578.1" cy="9.3" r="1.0"/><circle cx="578.5" cy="5.1" r="1.0"/><circle cx="578.9" cy="8.2" r="1.0"/><circle cx="577.9" cy="7.0" r="1.0"/><circle cx="577.5" cy="9.9" r="1.0"/><circle cx="577.6" cy="9.4" r="1.0"/></g>
<g fill="#e8eef6" stroke="#555" stroke-width="0.45"><circle cx="584.0" cy="7.2" r="1.0"/><circle cx="587.5" cy="7.3" r="1.0"/><circle cx="597.4" cy="7.6" r="1.0"/><circle cx="604.0" cy="7.7" r="1.0"/><circle cx="617.6" cy="7.4" r="1.0"/></g>
<rect x="543.30" y="1.50" width="9.70" height="13.50" fill="#cfe2f6" stroke="#111" stroke-width="1.2"/>
<line x1="548.3" y1="1.5" x2="548.3" y2="15.0" stroke="#111" stroke-width="1.2"/>
<line x1="530.3" y1="29.9" x2="568.3" y2="29.9" stroke="#111" stroke-width="1.1"/>
<g fill="#c860dc" stroke="#4a2458" stroke-width="0.45"><circle cx="503.4" cy="30.0" r="1.0"/><circle cx="506.5" cy="30.0" r="1.0"/><circle cx="509.5" cy="29.5" r="1.0"/><circle cx="512.0" cy="29.9" r="1.0"/><circle cx="514.5" cy="29.7" r="1.0"/><circle cx="517.0" cy="29.5" r="1.0"/><circle cx="519.5" cy="29.6" r="1.0"/></g>
<g fill="#c860dc" stroke="#4a2458" stroke-width="0.45"><circle cx="524.0" cy="25.6" r="1.0"/><circle cx="522.8" cy="26.1" r="1.0"/><circle cx="525.3" cy="28.4" r="1.0"/><circle cx="526.7" cy="30.9" r="1.0"/><circle cx="523.2" cy="33.9" r="1.0"/><circle cx="521.0" cy="29.8" r="1.0"/><circle cx="523.6" cy="28.8" r="1.0"/><circle cx="522.1" cy="31.5" r="1.0"/><circle cx="524.5" cy="23.8" r="1.0"/><circle cx="526.7" cy="25.6" r="1.0"/><circle cx="526.1" cy="28.1" r="1.0"/><circle cx="526.4" cy="34.9" r="1.0"/><circle cx="528.6" cy="29.2" r="1.0"/><circle cx="528.6" cy="31.1" r="1.0"/><circle cx="524.4" cy="25.2" r="1.0"/><circle cx="526.5" cy="30.6" r="1.0"/><circle cx="529.9" cy="33.3" r="1.0"/><circle cx="526.7" cy="28.3" r="1.0"/><circle cx="529.3" cy="26.0" r="1.0"/><circle cx="522.0" cy="30.2" r="1.0"/><circle cx="526.7" cy="26.1" r="1.0"/><circle cx="526.9" cy="34.0" r="1.0"/><circle cx="524.5" cy="29.0" r="1.0"/><circle cx="523.1" cy="27.9" r="1.0"/><circle cx="530.0" cy="29.0" r="1.0"/><circle cx="529.9" cy="32.9" r="1.0"/><circle cx="526.5" cy="27.3" r="1.0"/><circle cx="530.1" cy="29.9" r="1.0"/><circle cx="524.9" cy="27.6" r="1.0"/><circle cx="530.2" cy="29.8" r="1.0"/><circle cx="523.7" cy="29.6" r="1.0"/><circle cx="522.1" cy="30.5" r="1.0"/><circle cx="525.1" cy="27.3" r="1.0"/><circle cx="528.3" cy="32.8" r="1.0"/><circle cx="521.1" cy="29.9" r="1.0"/><circle cx="523.5" cy="34.9" r="1.0"/><circle cx="528.3" cy="27.6" r="1.0"/><circle cx="523.5" cy="26.0" r="1.0"/><circle cx="530.2" cy="28.5" r="1.0"/><circle cx="526.7" cy="29.6" r="1.0"/><circle cx="527.0" cy="31.0" r="1.0"/><circle cx="527.9" cy="26.3" r="1.0"/><circle cx="528.1" cy="28.1" r="1.0"/><circle cx="526.0" cy="28.0" r="1.0"/><circle cx="523.8" cy="30.3" r="1.0"/></g>
<g fill="#c860dc" stroke="#4a2458" stroke-width="0.45"><circle cx="573.4" cy="28.4" r="1.0"/><circle cx="576.5" cy="30.7" r="1.0"/><circle cx="568.7" cy="29.1" r="1.0"/><circle cx="573.3" cy="34.4" r="1.0"/><circle cx="578.1" cy="30.2" r="1.0"/><circle cx="568.5" cy="30.2" r="1.0"/><circle cx="573.0" cy="30.7" r="1.0"/><circle cx="576.1" cy="31.1" r="1.0"/><circle cx="573.6" cy="34.2" r="1.0"/><circle cx="572.5" cy="28.7" r="1.0"/><circle cx="577.7" cy="27.6" r="1.0"/><circle cx="571.6" cy="33.8" r="1.0"/><circle cx="569.0" cy="31.8" r="1.0"/><circle cx="575.9" cy="29.3" r="1.0"/><circle cx="571.4" cy="33.3" r="1.0"/><circle cx="578.3" cy="27.3" r="1.0"/><circle cx="573.6" cy="30.4" r="1.0"/><circle cx="573.8" cy="28.1" r="1.0"/><circle cx="570.0" cy="31.0" r="1.0"/><circle cx="577.2" cy="26.5" r="1.0"/><circle cx="570.8" cy="33.9" r="1.0"/><circle cx="577.0" cy="31.2" r="1.0"/><circle cx="568.6" cy="30.4" r="1.0"/><circle cx="579.1" cy="33.2" r="1.0"/><circle cx="576.0" cy="25.9" r="1.0"/><circle cx="577.6" cy="27.7" r="1.0"/><circle cx="575.4" cy="34.1" r="1.0"/><circle cx="576.1" cy="26.7" r="1.0"/><circle cx="571.5" cy="34.9" r="1.0"/><circle cx="569.9" cy="31.3" r="1.0"/><circle cx="572.9" cy="26.2" r="1.0"/><circle cx="575.1" cy="25.6" r="1.0"/><circle cx="569.5" cy="28.8" r="1.0"/><circle cx="569.1" cy="27.2" r="1.0"/><circle cx="574.6" cy="32.3" r="1.0"/><circle cx="578.0" cy="27.2" r="1.0"/><circle cx="573.0" cy="27.9" r="1.0"/><circle cx="574.9" cy="29.8" r="1.0"/><circle cx="578.6" cy="29.0" r="1.0"/><circle cx="568.9" cy="30.8" r="1.0"/><circle cx="570.0" cy="31.6" r="1.0"/><circle cx="573.9" cy="34.1" r="1.0"/><circle cx="574.4" cy="31.1" r="1.0"/><circle cx="571.2" cy="30.5" r="1.0"/><circle cx="571.1" cy="33.0" r="1.0"/><circle cx="574.0" cy="26.2" r="1.0"/><circle cx="570.9" cy="28.3" r="1.0"/><circle cx="576.4" cy="27.2" r="1.0"/><circle cx="576.1" cy="31.2" r="1.0"/><circle cx="569.2" cy="31.1" r="1.0"/><circle cx="569.3" cy="27.0" r="1.0"/><circle cx="574.8" cy="27.4" r="1.0"/><circle cx="577.9" cy="29.8" r="1.0"/><circle cx="571.9" cy="33.4" r="1.0"/><circle cx="568.6" cy="30.5" r="1.0"/></g>
<g fill="#c860dc" stroke="#4a2458" stroke-width="0.45"><circle cx="587.7" cy="29.5" r="1.0"/><circle cx="592.3" cy="29.6" r="1.0"/><circle cx="600.0" cy="30.3" r="1.0"/><circle cx="604.0" cy="30.0" r="1.0"/></g>
<rect x="545.30" y="23.00" width="7.20" height="13.80" fill="#e28cf2" stroke="#111" stroke-width="1.2"/>
<line x1="548.6" y1="23.0" x2="548.6" y2="36.8" stroke="#111" stroke-width="1.2"/>
<path d="M622.8,4.2 H627.9 V32.9 H622.8" fill="none" stroke="#111" stroke-width="1.3"/>
<text class="sb" x="631.5" y="24.6" font-size="9.6">***</text>
<text class="sb" font-size="15.5" transform="translate(10.5,270.6) scale(1.32,1)">c</text>
<text class="sb" x="42.0" y="283.8" font-size="12.4">Significant proteome overlap</text>
<text class="sb" x="44.5" y="305.2" font-size="11">Hippocampus</text>
<defs><clipPath id="cb"><circle cx="75.9" cy="375.8" r="67"/></clipPath></defs>
<circle cx="75.9" cy="375.8" r="67" fill="#a4c2f4"/>
<circle cx="173.3" cy="375.5" r="47.2" fill="#e29ae4"/>
<circle cx="173.3" cy="375.5" r="47.2" fill="#fff" clip-path="url(#cb)"/>
<circle cx="75.9" cy="375.8" r="67" fill="none" stroke="#1a2535" stroke-width="1.2"/>
<circle cx="173.3" cy="375.5" r="47.2" fill="none" stroke="#1a2535" stroke-width="1.2"/>
<text class="sb" x="74.7" y="380.4" font-size="13" text-anchor="middle">529</text>
<text class="sb" x="135.4" y="379.8" font-size="13" text-anchor="middle">27</text>
<text class="sb" x="177.2" y="382.9" font-size="13" text-anchor="middle">98</text>
<text class="sb" x="172.2" y="433.3" font-size="11" text-anchor="middle">Cortex</text>
<rect x="229.40" y="288.80" width="56.50" height="8.86" fill="#f5f5f5"/>
<rect x="285.90" y="288.80" width="56.90" height="8.86" fill="#f5f5f5"/>
<text class="sb" x="344.5" y="296.8" font-size="11.1">Tagln3</text>
<rect x="229.40" y="297.36" width="56.50" height="8.86" fill="#f5f5f5"/>
<rect x="285.90" y="297.36" width="56.90" height="8.86" fill="#ffffff"/>
<text class="sb" x="344.5" y="305.3" font-size="11.1">Myo18a</text>
<rect x="229.40" y="305.91" width="56.50" height="8.86" fill="#abd0f5"/>
<rect x="285.90" y="305.91" width="56.90" height="8.86" fill="#9dbcf3"/>
<text class="sb" x="344.5" y="313.8" font-size="11.1">Hapln2</text>
<rect x="229.40" y="314.47" width="56.50" height="8.86" fill="#ebe5ee"/>
<rect x="285.90" y="314.47" width="56.90" height="8.86" fill="#ebe5ee"/>
<text class="sb" x="344.5" y="322.3" font-size="11.1">Dpysl5</text>
<rect x="229.40" y="323.02" width="56.50" height="8.86" fill="#9dbcf3"/>
<rect x="285.90" y="323.02" width="56.90" height="8.86" fill="#c6d6fd"/>
<text class="sb" x="344.5" y="330.8" font-size="11.1">Susd2</text>
<rect x="229.40" y="331.57" width="56.50" height="8.86" fill="#d6e8fd"/>
<rect x="285.90" y="331.57" width="56.90" height="8.86" fill="#eef5fd"/>
<text class="sb" x="344.5" y="339.3" font-size="11.1">Slc25a22</text>
<rect x="229.40" y="340.13" width="56.50" height="8.86" fill="#ddd5f0"/>
<rect x="285.90" y="340.13" width="56.90" height="8.86" fill="#c5b1e0"/>
<text class="sb" x="344.5" y="347.8" font-size="11.1">Tubb2b</text>
<rect x="229.40" y="348.69" width="56.50" height="8.86" fill="#eef5fd"/>
<rect x="285.90" y="348.69" width="56.90" height="8.86" fill="#eef5fd"/>
<text class="sb" x="344.5" y="356.4" font-size="11.1">Ndufs2</text>
<rect x="229.40" y="357.24" width="56.50" height="8.86" fill="#abd0f5"/>
<rect x="285.90" y="357.24" width="56.90" height="8.86" fill="#d6e8fd"/>
<text class="sb" x="344.5" y="364.9" font-size="11.1">Cpne5</text>
<rect x="229.40" y="365.80" width="56.50" height="8.86" fill="#ebe5ee"/>
<rect x="285.90" y="365.80" width="56.90" height="8.86" fill="#eef5fd"/>
<text class="sb" x="344.5" y="373.4" font-size="11.1">Amer2</text>
<rect x="229.40" y="374.35" width="56.50" height="8.86" fill="#ddd5f0"/>
<rect x="285.90" y="374.35" width="56.90" height="8.86" fill="#ebe5ee"/>
<text class="sb" x="344.5" y="381.9" font-size="11.1">Ckap4</text>
<rect x="229.40" y="382.90" width="56.50" height="8.86" fill="#ebe5ee"/>
<rect x="285.90" y="382.90" width="56.90" height="8.86" fill="#ebe5ee"/>
<text class="sb" x="344.5" y="390.4" font-size="11.1">Pip4k2b</text>
<rect x="229.40" y="391.46" width="56.50" height="8.86" fill="#9dbcf3"/>
<rect x="285.90" y="391.46" width="56.90" height="8.86" fill="#eef5fd"/>
<text class="sb" x="344.5" y="398.9" font-size="11.1">Wipf2</text>
<rect x="229.40" y="400.01" width="56.50" height="8.86" fill="#d6e8fd"/>
<rect x="285.90" y="400.01" width="56.90" height="8.86" fill="#d6e8fd"/>
<text class="sb" x="344.5" y="407.4" font-size="11.1">Dgkb</text>
<rect x="229.40" y="408.57" width="56.50" height="8.86" fill="#8055b0"/>
<rect x="285.90" y="408.57" width="56.90" height="8.86" fill="#b9a4d7"/>
<text class="sb" x="344.5" y="415.9" font-size="11.1">Ca4</text>
<rect x="229.40" y="417.12" width="56.50" height="8.86" fill="#d6e8fd"/>
<rect x="285.90" y="417.12" width="56.90" height="8.86" fill="#eef5fd"/>
<text class="sb" x="344.5" y="424.4" font-size="11.1">Icam5</text>
<rect x="229.40" y="425.68" width="56.50" height="8.86" fill="#c6d6fd"/>
<rect x="285.90" y="425.68" width="56.90" height="8.86" fill="#d6e8fd"/>
<text class="sb" x="344.5" y="432.9" font-size="11.1">Vgf</text>
<rect x="229.40" y="434.24" width="56.50" height="8.86" fill="#d6e8fd"/>
<rect x="285.90" y="434.24" width="56.90" height="8.86" fill="#c6d6fd"/>
<text class="sb" x="344.5" y="441.4" font-size="11.1">C1qa</text>
<rect x="229.40" y="442.79" width="56.50" height="8.86" fill="#d6e8fd"/>
<rect x="285.90" y="442.79" width="56.90" height="8.86" fill="#eef5fd"/>
<text class="sb" x="344.5" y="449.9" font-size="11.1">Rgs14</text>
<rect x="229.40" y="451.35" width="56.50" height="8.86" fill="#d6c5e9"/>
<rect x="285.90" y="451.35" width="56.90" height="8.86" fill="#f5f5f5"/>
<text class="sb" x="344.5" y="458.5" font-size="11.1">Rock2</text>
<rect x="229.40" y="459.90" width="56.50" height="8.86" fill="#d6e8fd"/>
<rect x="285.90" y="459.90" width="56.90" height="8.86" fill="#d6e8fd"/>
<text class="sb" x="344.5" y="467.0" font-size="11.1">Ncan</text>
<rect x="229.40" y="468.46" width="56.50" height="8.86" fill="#c5b1e0"/>
<rect x="285.90" y="468.46" width="56.90" height="8.86" fill="#c5b1e0"/>
<text class="sb" x="344.5" y="475.5" font-size="11.1">Ptma</text>
<rect x="229.40" y="477.01" width="56.50" height="8.86" fill="#c6d6fd"/>
<rect x="285.90" y="477.01" width="56.90" height="8.86" fill="#abd0f5"/>
<text class="sb" x="344.5" y="484.0" font-size="11.1">Chga</text>
<rect x="229.40" y="485.56" width="56.50" height="8.86" fill="#eef5fd"/>
<rect x="285.90" y="485.56" width="56.90" height="8.86" fill="#d6e8fd"/>
<text class="sb" x="344.5" y="492.5" font-size="11.1">Pcsk2</text>
<rect x="229.40" y="494.12" width="56.50" height="8.86" fill="#d6c5e9"/>
<rect x="285.90" y="494.12" width="56.90" height="8.86" fill="#f5f5f5"/>
<text class="sb" x="344.5" y="501.0" font-size="11.1">Hspa1a</text>
<rect x="229.40" y="502.68" width="56.50" height="8.86" fill="#ebe5ee"/>
<rect x="285.90" y="502.68" width="56.90" height="8.86" fill="#d6e8fd"/>
<text class="sb" x="344.5" y="509.5" font-size="11.1">Camk4</text>
<rect x="229.40" y="511.23" width="56.50" height="8.86" fill="#ddd5f0"/>
<rect x="285.90" y="511.23" width="56.90" height="8.86" fill="#c5b1e0"/>
<text class="sb" x="344.5" y="518.0" font-size="11.1">Gfap</text>
<text class="n" font-size="8.6" text-anchor="middle" transform="translate(257.6,281.8) scale(0.6,1)" stroke="#000" stroke-width="0.25">Hippocampus</text>
<text class="n" font-size="8.6" text-anchor="middle" transform="translate(314.6,281.8) scale(0.6,1)" stroke="#000" stroke-width="0.25">Cortex</text>
<defs><linearGradient id="cbar" x1="0" x2="1" y1="0" y2="0"><stop offset="0" stop-color="#7b4bb2"/><stop offset="0.25" stop-color="#ab93d2"/><stop offset="0.45" stop-color="#e6dff0"/><stop offset="0.52" stop-color="#ffffff"/><stop offset="0.6" stop-color="#e3eefd"/><stop offset="0.75" stop-color="#a3bff3"/><stop offset="1" stop-color="#3d7af5"/></linearGradient></defs>
<rect x="245.40" y="521.70" width="81.50" height="17.80" fill="url(#cbar)"/>
<line x1="245.4" y1="540.3" x2="326.9" y2="540.3" stroke="#666" stroke-width="0.9"/>
<line x1="245.4" y1="539.8" x2="245.4" y2="542.8" stroke="#666" stroke-width="0.9"/>
<text class="sb" x="245.4" y="551.2" font-size="6.9" text-anchor="middle" fill="#222">1.0</text>
<line x1="265.8" y1="539.8" x2="265.8" y2="542.8" stroke="#666" stroke-width="0.9"/>
<text class="sb" x="265.8" y="551.2" font-size="6.9" text-anchor="middle" fill="#222">0.50</text>
<line x1="286.1" y1="539.8" x2="286.1" y2="542.8" stroke="#666" stroke-width="0.9"/>
<text class="sb" x="286.1" y="551.2" font-size="6.9" text-anchor="middle" fill="#222">0.0</text>
<line x1="306.5" y1="539.8" x2="306.5" y2="542.8" stroke="#666" stroke-width="0.9"/>
<text class="sb" x="306.5" y="551.2" font-size="6.9" text-anchor="middle" fill="#222">-0.50</text>
<line x1="326.9" y1="539.8" x2="326.9" y2="542.8" stroke="#666" stroke-width="0.9"/>
<text class="sb" x="326.9" y="551.2" font-size="6.9" text-anchor="middle" fill="#222">-1.0</text>
<text class="sb" x="246.6" y="563.4" font-size="9.2">log2(ATase1 <tspan font-style="italic">vs.</tspan> WT)</text>
<text class="sb" font-size="16" transform="translate(380,266.8) scale(1.2,1)">d</text>
<text class="sb" x="485.3" y="263.6" font-size="9.9" text-anchor="middle">KEGG Pathways</text>
<rect x="406.30" y="276.00" width="119.82" height="9.90" fill="#cde1f8"/>
<line x1="401.3" y1="281.0" x2="405.3" y2="281.0" stroke="#000" stroke-width="1.6"/>
<text class="sb" x="408.6" y="284.2" font-size="8.7">Retrograde endocannabinoid signaling</text>
<rect x="406.30" y="290.00" width="88.20" height="9.90" fill="#cde1f8"/>
<line x1="401.3" y1="295.0" x2="405.3" y2="295.0" stroke="#000" stroke-width="1.6"/>
<text class="sb" x="408.6" y="298.2" font-size="8.7">Prion disease</text>
<rect x="406.30" y="304.00" width="69.74" height="9.90" fill="#cde1f8"/>
<line x1="401.3" y1="309.0" x2="405.3" y2="309.0" stroke="#000" stroke-width="1.6"/>
<text class="sb" x="408.6" y="312.2" font-size="8.7">Pathways of neurodegeneration - multiple diseases</text>
<rect x="406.30" y="318.00" width="124.20" height="9.90" fill="#cde1f8"/>
<line x1="401.3" y1="323.0" x2="405.3" y2="323.0" stroke="#000" stroke-width="1.6"/>
<text class="sb" x="408.6" y="326.2" font-size="8.7">Glutamatergic synapse</text>
<rect x="406.30" y="332.00" width="73.49" height="9.90" fill="#cde1f8"/>
<line x1="401.3" y1="337.0" x2="405.3" y2="337.0" stroke="#000" stroke-width="1.6"/>
<text class="sb" x="408.6" y="340.2" font-size="8.7">Alzheimer disease</text>
<rect x="406.30" y="346.00" width="104.48" height="9.90" fill="#cde1f8"/>
<line x1="401.3" y1="351.0" x2="405.3" y2="351.0" stroke="#000" stroke-width="1.6"/>
<text class="sb" x="408.6" y="354.2" font-size="8.7">Oxytocin signaling pathway</text>
<rect x="406.30" y="360.00" width="98.85" height="9.90" fill="#cde1f8"/>
<line x1="401.3" y1="365.0" x2="405.3" y2="365.0" stroke="#000" stroke-width="1.6"/>
<text class="sb" x="408.6" y="368.2" font-size="8.7">Protein processing in endoplasmic reticulum</text>
<rect x="406.30" y="374.00" width="77.88" height="9.90" fill="#cde1f8"/>
<line x1="401.3" y1="379.0" x2="405.3" y2="379.0" stroke="#000" stroke-width="1.6"/>
<text class="sb" x="408.6" y="382.2" font-size="8.7">Huntington disease</text>
<line x1="405.3" y1="270.8" x2="405.3" y2="388.2" stroke="#000" stroke-width="2.0"/>
<line x1="404.3" y1="387.3" x2="562.6" y2="387.3" stroke="#000" stroke-width="2.0"/>
<line x1="405.3" y1="387.3" x2="405.3" y2="391.5" stroke="#000" stroke-width="1.6"/>
<text class="sb" x="405.3" y="404.0" font-size="10" text-anchor="middle">0</text>
<line x1="436.6" y1="387.3" x2="436.6" y2="391.5" stroke="#000" stroke-width="1.6"/>
<text class="sb" x="436.6" y="404.0" font-size="10" text-anchor="middle">1</text>
<line x1="467.9" y1="387.3" x2="467.9" y2="391.5" stroke="#000" stroke-width="1.6"/>
<text class="sb" x="467.9" y="404.0" font-size="10" text-anchor="middle">2</text>
<line x1="499.2" y1="387.3" x2="499.2" y2="391.5" stroke="#000" stroke-width="1.6"/>
<text class="sb" x="499.2" y="404.0" font-size="10" text-anchor="middle">3</text>
<line x1="530.5" y1="387.3" x2="530.5" y2="391.5" stroke="#000" stroke-width="1.6"/>
<text class="sb" x="530.5" y="404.0" font-size="10" text-anchor="middle">4</text>
<line x1="561.8" y1="387.3" x2="561.8" y2="391.5" stroke="#000" stroke-width="1.6"/>
<text class="sb" x="561.8" y="404.0" font-size="10" text-anchor="middle">5</text>
<text class="sb" x="565.4" y="286.4" font-size="9.7">Hippocampus</text>
<rect x="406.80" y="426.00" width="81.99" height="10.00" fill="#ead0f8"/>
<line x1="401.3" y1="431.0" x2="405.3" y2="431.0" stroke="#000" stroke-width="1.6"/>
<text class="sb" x="408.7" y="434.3" font-size="9.2">Prion disease</text>
<rect x="406.80" y="440.74" width="85.12" height="10.00" fill="#ead0f8"/>
<line x1="401.3" y1="445.7" x2="405.3" y2="445.7" stroke="#000" stroke-width="1.6"/>
<text class="sb" x="408.7" y="449.0" font-size="9.2">Axon guidance</text>
<rect x="406.80" y="455.48" width="89.25" height="10.00" fill="#ead0f8"/>
<line x1="401.3" y1="460.5" x2="405.3" y2="460.5" stroke="#000" stroke-width="1.6"/>
<text class="sb" x="408.7" y="463.8" font-size="9.2">Retrograde endocannabinoid signaling</text>
<rect x="406.80" y="470.22" width="115.32" height="10.00" fill="#ead0f8"/>
<line x1="401.3" y1="475.2" x2="405.3" y2="475.2" stroke="#000" stroke-width="1.6"/>
<text class="sb" x="408.7" y="478.5" font-size="9.2">Phosphatidylinositol signaling system</text>
<rect x="406.80" y="484.96" width="66.15" height="10.00" fill="#ead0f8"/>
<line x1="401.3" y1="490.0" x2="405.3" y2="490.0" stroke="#000" stroke-width="1.6"/>
<text class="sb" x="408.7" y="493.3" font-size="9.2">Regulation of actin cytoskeleton</text>
<rect x="406.80" y="499.70" width="98.33" height="10.00" fill="#ead0f8"/>
<line x1="401.3" y1="504.7" x2="405.3" y2="504.7" stroke="#000" stroke-width="1.6"/>
<text class="sb" x="408.7" y="508.0" font-size="9.2">Cholinergic synapse</text>
<rect x="406.80" y="514.44" width="147.66" height="10.00" fill="#ead0f8"/>
<line x1="401.3" y1="519.4" x2="405.3" y2="519.4" stroke="#000" stroke-width="1.6"/>
<text class="sb" x="408.7" y="522.7" font-size="9.2">Long-term depression</text>
<rect x="406.80" y="529.18" width="96.51" height="10.00" fill="#ead0f8"/>
<line x1="401.3" y1="534.2" x2="405.3" y2="534.2" stroke="#000" stroke-width="1.6"/>
<text class="sb" x="408.7" y="537.5" font-size="9.2">Glutamatergic synapse</text>
<line x1="405.3" y1="420.2" x2="405.3" y2="545.4" stroke="#000" stroke-width="2.0"/>
<line x1="404.3" y1="544.4" x2="571.3" y2="544.4" stroke="#000" stroke-width="2.0"/>
<line x1="405.3" y1="544.4" x2="405.3" y2="548.6" stroke="#000" stroke-width="1.6"/>
<text class="sb" x="405.3" y="561.5" font-size="10" text-anchor="middle">0</text>
<line x1="438.3" y1="544.4" x2="438.3" y2="548.6" stroke="#000" stroke-width="1.6"/>
<text class="sb" x="438.3" y="561.5" font-size="10" text-anchor="middle">2</text>
<line x1="471.3" y1="544.4" x2="471.3" y2="548.6" stroke="#000" stroke-width="1.6"/>
<text class="sb" x="471.3" y="561.5" font-size="10" text-anchor="middle">4</text>
<line x1="504.3" y1="544.4" x2="504.3" y2="548.6" stroke="#000" stroke-width="1.6"/>
<text class="sb" x="504.3" y="561.5" font-size="10" text-anchor="middle">6</text>
<line x1="537.3" y1="544.4" x2="537.3" y2="548.6" stroke="#000" stroke-width="1.6"/>
<text class="sb" x="537.3" y="561.5" font-size="10" text-anchor="middle">8</text>
<line x1="570.3" y1="544.4" x2="570.3" y2="548.6" stroke="#000" stroke-width="1.6"/>
<text class="sb" x="570.3" y="561.5" font-size="10" text-anchor="middle">10</text>
<text class="sb" x="530.3" y="435.6" font-size="10.4">Cortex</text>
<text class="sb" x="488.6" y="576.0" font-size="9.6" text-anchor="middle">Fold enrichment</text>
<text class="sb" font-size="18" transform="translate(16.8,591.4) scale(1.28,1)">e</text>
<text class="sb" font-size="17" transform="translate(101.2,590.4) scale(0.86,1)">Cortex</text>
<text class="sb" x="412.6" y="595.7" font-size="14.8">Hippocampus</text>
<g fill="none" stroke-width="0.7" stroke-opacity="0.9">
<path d="M119.0,616.2Q111.3,754.6 239.8,731.6" stroke="#6BB100"/><path d="M107.0,617.5Q111.3,756.7 239.8,731.6" stroke="#6BB100"/><path d="M95.2,620.2Q111.9,758.4 239.8,731.6" stroke="#6BB100"/><path d="M95.2,620.2Q122.2,749.7 221.4,671.6" stroke="#00BA38"/><path d="M83.8,624.1Q112.9,759.6 239.8,731.6" stroke="#6BB100"/><path d="M72.8,629.3Q114.2,760.3 239.8,731.6" stroke="#6BB100"/><path d="M72.8,629.3Q122.2,756.5 221.4,671.6" stroke="#00BA38"/><path d="M62.4,635.7Q115.8,760.3 239.8,731.6" stroke="#6BB100"/><path d="M62.4,635.7Q116.9,761.4 238.6,718.9" stroke="#A3A500"/><path d="M52.6,643.2Q118.4,761.3 238.6,718.9" stroke="#A3A500"/><path d="M52.6,643.2Q120.9,762.5 232.4,694.3" stroke="#C99800"/><path d="M43.7,651.7Q121.1,762.0 236.1,706.4" stroke="#619CFF"/><path d="M35.6,661.2Q122.7,761.2 236.1,706.4" stroke="#619CFF"/><path d="M28.6,671.6Q124.3,759.8 236.1,706.4" stroke="#619CFF"/><path d="M22.5,682.6Q125.8,757.9 236.1,706.4" stroke="#619CFF"/><path d="M17.6,694.3Q128.1,758.0 232.4,694.3" stroke="#C99800"/><path d="M13.9,706.4Q129.1,755.5 232.4,694.3" stroke="#C99800"/><path d="M13.9,706.4Q128.1,752.6 236.1,706.4" stroke="#619CFF"/><path d="M11.4,718.9Q128.9,749.4 236.1,706.4" stroke="#619CFF"/><path d="M10.2,731.6Q130.3,749.3 232.4,694.3" stroke="#C99800"/><path d="M10.2,731.6Q129.3,746.0 236.1,706.4" stroke="#619CFF"/><path d="M10.2,744.4Q130.4,745.8 232.4,694.3" stroke="#C99800"/><path d="M11.4,757.1Q130.1,742.2 232.4,694.3" stroke="#C99800"/><path d="M11.4,757.1Q128.2,734.8 238.6,718.9" stroke="#A3A500"/><path d="M13.9,769.6Q130.8,742.0 227.5,682.6" stroke="#00C0AF"/><path d="M17.6,781.7Q129.7,738.3 227.5,682.6" stroke="#00C0AF"/><path d="M22.5,793.4Q130.1,738.2 221.4,671.6" stroke="#00BA38"/><path d="M22.5,793.4Q124.6,720.6 239.8,731.6" stroke="#6BB100"/><path d="M28.6,804.4Q128.2,734.8 221.4,671.6" stroke="#00BA38"/><path d="M28.6,804.4Q122.9,717.8 239.8,731.6" stroke="#6BB100"/><path d="M35.6,814.8Q126.0,731.5 221.4,671.6" stroke="#00BA38"/><path d="M35.6,814.8Q128.3,734.7 214.4,661.2" stroke="#E58700"/><path d="M43.7,824.3Q119.1,716.1 238.6,718.9" stroke="#A3A500"/><path d="M43.7,824.3Q120.4,722.1 232.4,694.3" stroke="#C99800"/><path d="M43.7,824.3Q119.1,713.5 239.8,731.6" stroke="#6BB100"/><path d="M52.6,832.8Q116.9,714.4 238.6,718.9" stroke="#A3A500"/><path d="M52.6,832.8Q122.9,729.1 214.4,661.2" stroke="#E58700"/><path d="M52.6,832.8Q128.3,734.7 197.4,643.2" stroke="#F8766D"/><path d="M52.6,832.8Q131.4,737.1 187.6,635.7" stroke="#B983FF"/><path d="M62.4,840.3Q122.3,729.6 206.3,651.7" stroke="#E76BF3"/><path d="M62.4,840.3Q128.3,734.7 187.6,635.7" stroke="#B983FF"/><path d="M72.8,846.7Q119.1,727.7 206.3,651.7" stroke="#E76BF3"/><path d="M72.8,846.7Q124.9,732.6 187.6,635.7" stroke="#B983FF"/><path d="M72.8,846.7Q121.8,730.3 197.4,643.2" stroke="#F8766D"/><path d="M83.8,851.9Q112.0,720.9 221.4,671.6" stroke="#00BA38"/><path d="M83.8,851.9Q118.4,728.7 197.4,643.2" stroke="#F8766D"/><path d="M83.8,851.9Q121.4,731.0 187.6,635.7" stroke="#B983FF"/><path d="M83.8,851.9Q115.8,726.2 206.3,651.7" stroke="#E76BF3"/><path d="M83.8,851.9Q124.7,733.0 177.2,629.3" stroke="#00BF7D"/><path d="M95.2,855.8Q109.2,720.3 221.4,671.6" stroke="#00BA38"/><path d="M95.2,855.8Q114.9,727.5 197.4,643.2" stroke="#F8766D"/><path d="M95.2,855.8Q117.7,729.7 187.6,635.7" stroke="#B983FF"/><path d="M95.2,855.8Q112.5,725.1 206.3,651.7" stroke="#E76BF3"/><path d="M95.2,855.8Q110.6,722.7 214.4,661.2" stroke="#E58700"/><path d="M95.2,855.8Q121.0,731.7 177.2,629.3" stroke="#00BF7D"/><path d="M107.0,858.5Q106.6,720.1 221.4,671.6" stroke="#00BA38"/><path d="M107.0,858.5Q111.5,726.8 197.4,643.2" stroke="#F8766D"/><path d="M107.0,858.5Q114.1,729.0 187.6,635.7" stroke="#B983FF"/><path d="M107.0,858.5Q109.3,724.6 206.3,651.7" stroke="#E76BF3"/><path d="M107.0,858.5Q124.4,733.8 154.8,620.2" stroke="#FD61D1"/><path d="M107.0,858.5Q117.2,730.9 177.2,629.3" stroke="#00BF7D"/><path d="M119.0,859.8Q104.3,720.4 221.4,671.6" stroke="#00BA38"/><path d="M119.0,859.8Q108.2,726.7 197.4,643.2" stroke="#F8766D"/><path d="M119.0,859.8Q110.7,728.7 187.6,635.7" stroke="#B983FF"/><path d="M119.0,859.8Q106.3,724.5 206.3,651.7" stroke="#E76BF3"/><path d="M119.0,859.8Q113.6,730.5 177.2,629.3" stroke="#00BF7D"/><path d="M131.0,859.8Q105.0,717.7 236.1,706.4" stroke="#619CFF"/><path d="M131.0,859.8Q113.2,732.2 166.2,624.1" stroke="#00B0F6"/><path d="M143.0,858.5Q103.1,720.1 232.4,694.3" stroke="#C99800"/><path d="M154.8,855.8Q99.9,727.0 206.3,651.7" stroke="#E76BF3"/><path d="M154.8,855.8Q109.6,734.7 154.8,620.2" stroke="#FD61D1"/><path d="M166.2,851.9Q98.8,728.5 206.3,651.7" stroke="#E76BF3"/><path d="M166.2,851.9Q106.6,736.0 154.8,620.2" stroke="#FD61D1"/><path d="M177.2,846.7Q99.2,728.7 214.4,661.2" stroke="#E58700"/><path d="M177.2,846.7Q105.6,726.5 232.4,694.3" stroke="#C99800"/><path d="M187.6,840.3Q98.0,735.0 187.6,635.7" stroke="#B983FF"/><path d="M187.6,840.3Q98.6,731.9 206.3,651.7" stroke="#E76BF3"/><path d="M187.6,840.3Q97.9,733.4 197.4,643.2" stroke="#F8766D"/><path d="M197.4,832.8Q99.5,733.7 206.3,651.7" stroke="#E76BF3"/><path d="M197.4,832.8Q100.6,741.1 154.8,620.2" stroke="#FD61D1"/><path d="M197.4,832.8Q98.4,735.2 197.4,643.2" stroke="#F8766D"/><path d="M206.3,824.3Q98.6,738.4 187.6,635.7" stroke="#B983FF"/><path d="M206.3,824.3Q101.2,735.3 206.3,651.7" stroke="#E76BF3"/><path d="M214.4,814.8Q129.7,736.8 238.6,718.9" stroke="#A3A500"/><path d="M214.4,814.8Q99.7,744.8 154.8,620.2" stroke="#FD61D1"/><path d="M221.4,804.4Q135.5,738.1 238.6,718.9" stroke="#A3A500"/><path d="M221.4,804.4Q100.3,746.4 154.8,620.2" stroke="#FD61D1"/><path d="M221.4,804.4Q124.1,735.6 232.4,694.3" stroke="#C99800"/><path d="M227.5,793.4Q101.8,749.2 143.0,617.5" stroke="#00BCD8"/><path d="M227.5,793.4Q101.8,745.8 166.2,624.1" stroke="#00B0F6"/><path d="M227.5,793.4Q102.7,750.5 131.0,616.2" stroke="#FF67A4"/><path d="M232.4,781.7Q103.1,750.3 143.0,617.5" stroke="#00BCD8"/><path d="M232.4,781.7Q104.0,746.5 166.2,624.1" stroke="#00B0F6"/><path d="M232.4,781.7Q103.6,751.9 131.0,616.2" stroke="#FF67A4"/><path d="M236.1,769.6Q104.9,751.0 143.0,617.5" stroke="#00BCD8"/><path d="M236.1,769.6Q106.8,746.6 166.2,624.1" stroke="#00B0F6"/><path d="M236.1,769.6Q155.4,738.1 238.6,718.9" stroke="#A3A500"/><path d="M238.6,757.1Q108.3,748.7 154.8,620.2" stroke="#FD61D1"/><path d="M238.6,757.1Q106.9,753.2 131.0,616.2" stroke="#FF67A4"/><path d="M239.8,744.4Q110.0,750.5 143.0,617.5" stroke="#00BCD8"/><path d="M239.8,744.4Q113.7,745.0 166.2,624.1" stroke="#00B0F6"/><path d="M239.8,744.4Q169.4,734.4 238.6,718.9" stroke="#A3A500"/><path d="M239.8,744.4Q109.2,753.0 131.0,616.2" stroke="#FF67A4"/>
</g>
<circle cx="119.0" cy="616.2" r="1.9" fill="#e0e9f4" stroke="none"/>
<circle cx="107.0" cy="617.5" r="1.9" fill="#e8eff7" stroke="none"/>
<circle cx="95.2" cy="620.2" r="1.9" fill="#fcf0f0" stroke="none"/>
<circle cx="83.8" cy="624.1" r="1.9" fill="#fcf0f0" stroke="none"/>
<circle cx="72.8" cy="629.3" r="1.9" fill="#fdf8f7" stroke="none"/>
<circle cx="62.4" cy="635.7" r="1.9" fill="#84a8d4" stroke="none"/>
<circle cx="52.6" cy="643.2" r="1.9" fill="#f5d2d1" stroke="none"/>
<circle cx="43.7" cy="651.7" r="1.9" fill="#c1d3ea" stroke="none"/>
<circle cx="35.6" cy="661.2" r="1.9" fill="#f8e1e1" stroke="none"/>
<circle cx="28.6" cy="671.6" r="1.9" fill="#b2c9e4" stroke="none"/>
<circle cx="22.5" cy="682.6" r="1.9" fill="#f8e1e1" stroke="none"/>
<circle cx="17.6" cy="694.3" r="1.9" fill="#a3bedf" stroke="none"/>
<circle cx="13.9" cy="706.4" r="1.9" fill="#e0e9f4" stroke="none"/>
<circle cx="11.4" cy="718.9" r="1.9" fill="#e38885" stroke="none"/>
<circle cx="10.2" cy="731.6" r="1.9" fill="#d1deef" stroke="none"/>
<circle cx="10.2" cy="744.4" r="1.9" fill="#f8e1e1" stroke="none"/>
<circle cx="11.4" cy="757.1" r="1.9" fill="#e07976" stroke="none"/>
<circle cx="13.9" cy="769.6" r="1.9" fill="#fae9e8" stroke="none"/>
<circle cx="17.6" cy="781.7" r="1.9" fill="#f8e1e1" stroke="none"/>
<circle cx="22.5" cy="793.4" r="1.9" fill="#fcf0f0" stroke="none"/>
<circle cx="28.6" cy="804.4" r="1.9" fill="#fae9e8" stroke="none"/>
<circle cx="35.6" cy="814.8" r="1.9" fill="#e79794" stroke="none"/>
<circle cx="43.7" cy="824.3" r="1.9" fill="#93b3da" stroke="none"/>
<circle cx="52.6" cy="832.8" r="1.9" fill="#f8e1e1" stroke="none"/>
<circle cx="62.4" cy="840.3" r="1.9" fill="#fcf0f0" stroke="none"/>
<circle cx="72.8" cy="846.7" r="1.9" fill="#f8e1e1" stroke="none"/>
<circle cx="83.8" cy="851.9" r="1.9" fill="#f8e1e1" stroke="none"/>
<circle cx="95.2" cy="855.8" r="1.9" fill="#f8e1e1" stroke="none"/>
<circle cx="107.0" cy="858.5" r="1.9" fill="#f5d2d1" stroke="none"/>
<circle cx="119.0" cy="859.8" r="1.9" fill="#a3bedf" stroke="none"/>
<circle cx="131.0" cy="859.8" r="1.9" fill="#d1deef" stroke="none"/>
<circle cx="143.0" cy="858.5" r="1.9" fill="#fcf0f0" stroke="none"/>
<circle cx="154.8" cy="855.8" r="1.9" fill="#84a8d4" stroke="none"/>
<circle cx="166.2" cy="851.9" r="1.9" fill="#fdf8f7" stroke="none"/>
<circle cx="177.2" cy="846.7" r="1.9" fill="#e0e9f4" stroke="none"/>
<circle cx="187.6" cy="840.3" r="1.9" fill="#f5d2d1" stroke="none"/>
<circle cx="197.4" cy="832.8" r="1.9" fill="#f5d2d1" stroke="none"/>
<circle cx="206.3" cy="824.3" r="1.9" fill="#d1deef" stroke="none"/>
<circle cx="214.4" cy="814.8" r="1.9" fill="#f8e1e1" stroke="none"/>
<circle cx="221.4" cy="804.4" r="1.9" fill="#d1deef" stroke="none"/>
<circle cx="227.5" cy="793.4" r="1.9" fill="#f8e1e1" stroke="none"/>
<circle cx="232.4" cy="781.7" r="1.9" fill="#e07976" stroke="none"/>
<circle cx="236.1" cy="769.6" r="1.9" fill="#f8e1e1" stroke="none"/>
<circle cx="238.6" cy="757.1" r="1.9" fill="#f8e1e1" stroke="none"/>
<circle cx="239.8" cy="744.4" r="1.9" fill="#f8e1e1" stroke="none"/>
<text class="n k" x="115.4" y="609.5" font-size="5.2" text-anchor="middle">Tagln3</text>
<text class="n k" x="103.9" y="616.0" font-size="5.2" text-anchor="middle">Plec</text>
<text class="n k" x="86.5" y="618.4" font-size="5.2" text-anchor="middle">Atp5f1a</text>
<text class="n k" x="80.5" y="629.8" font-size="5.2" text-anchor="middle">Pdha1</text>
<text class="n k" x="74.2" y="636.6" font-size="5.2" text-anchor="middle">Nefl</text>
<text class="n k" x="59.1" y="641.4" font-size="5.2" text-anchor="middle">Gfap</text>
<text class="n k" x="49.3" y="648.9" font-size="5.2" text-anchor="middle">Camk4</text>
<text class="n k" x="40.4" y="657.4" font-size="5.2" text-anchor="middle">Rpl36a</text>
<text class="n k" x="32.3" y="666.9" font-size="5.2" text-anchor="middle">Drg1</text>
<text class="n k" x="25.3" y="677.3" font-size="5.2" text-anchor="middle">Vim</text>
<text class="n k" x="19.2" y="688.3" font-size="5.2" text-anchor="middle">Impact</text>
<text class="n k" x="26.0" y="695.0" font-size="5.2" text-anchor="middle">Tpbg</text>
<text class="n k" x="10.6" y="712.1" font-size="5.2" text-anchor="middle">Dpysl3</text>
<text class="n k" x="20.4" y="719.0" font-size="5.2" text-anchor="middle">Elavl4</text>
<text class="n k" x="9.0" y="737.3" font-size="5.2" text-anchor="middle">Gpm6a</text>
<text class="n k" x="6.9" y="750.1" font-size="5.2" text-anchor="middle">Olfm1</text>
<text class="n k" x="20.5" y="756.3" font-size="5.2" text-anchor="middle">Pcsk1</text>
<text class="n k" x="10.6" y="775.3" font-size="5.2" text-anchor="middle">Ptpn5</text>
<text class="n k" x="14.3" y="787.4" font-size="5.2" text-anchor="middle">Pcsk2</text>
<text class="n k" x="14.9" y="796.3" font-size="5.2" text-anchor="middle">Ass1</text>
<text class="n k" x="24.9" y="802.7" font-size="5.2" text-anchor="middle">Stm4</text>
<text class="n k" x="31.9" y="813.1" font-size="5.2" text-anchor="middle">Oprm1</text>
<text class="n k" x="40.0" y="822.6" font-size="5.2" text-anchor="middle">Marcks</text>
<text class="n k" x="48.9" y="831.1" font-size="5.2" text-anchor="middle">Gria3</text>
<text class="n k" x="58.7" y="838.6" font-size="5.2" text-anchor="middle">Add2</text>
<text class="n k" x="74.9" y="845.2" font-size="5.2" text-anchor="middle">Pdlim5</text>
<text class="n k" x="93.9" y="851.5" font-size="5.2" text-anchor="middle">Sipa1l1</text>
<text class="n k" x="84.3" y="857.6" font-size="5.2" text-anchor="middle">Shank3</text>
<text class="n k" x="98.9" y="864.9" font-size="5.2" text-anchor="middle">Rgs14</text>
<text class="n k" x="117.3" y="865.8" font-size="5.2" text-anchor="middle">Ephb2</text>
<text class="n k" x="133.7" y="865.8" font-size="5.2" text-anchor="middle">Hspb1</text>
<text class="n k" x="151.0" y="864.3" font-size="5.2" text-anchor="middle">Phb2</text>
<text class="n k" x="164.9" y="857.6" font-size="5.2" text-anchor="middle">Tubb2b</text>
<text class="n k" x="169.6" y="850.1" font-size="5.2" text-anchor="middle">Ntng2</text>
<text class="n k" x="175.7" y="843.5" font-size="5.2" text-anchor="middle">Myo9a</text>
<text class="n k" x="191.2" y="838.6" font-size="5.2" text-anchor="middle">Dgkz</text>
<text class="n k" x="201.0" y="831.1" font-size="5.2" text-anchor="middle">Dgkb</text>
<text class="n k" x="209.9" y="822.6" font-size="5.2" text-anchor="middle">Rock2</text>
<text class="n k" x="218.0" y="813.1" font-size="5.2" text-anchor="middle">Itpr1</text>
<text class="n k" x="225.0" y="802.7" font-size="5.2" text-anchor="middle">L1cam</text>
<text class="n k" x="231.1" y="791.7" font-size="5.2" text-anchor="middle">Hapln1</text>
<text class="n k" x="236.0" y="780.0" font-size="5.2" text-anchor="middle">Hapln2</text>
<text class="n k" x="239.7" y="767.9" font-size="5.2" text-anchor="middle">Acan</text>
<text class="n k" x="242.2" y="755.4" font-size="5.2" text-anchor="middle">Lama5</text>
<text class="n k" x="243.6" y="743.5" font-size="5.2" text-anchor="middle">Ncan</text>
<circle cx="131.0" cy="616.2" r="2.6" fill="#d9c08c"/>
<circle cx="143.0" cy="617.5" r="2.6" fill="#d9c08c"/>
<circle cx="154.8" cy="620.2" r="2.6" fill="#d9c08c"/>
<circle cx="166.2" cy="624.1" r="3.0" fill="#d9c08c"/>
<circle cx="177.2" cy="629.3" r="3.6" fill="#d9c08c"/>
<circle cx="187.6" cy="635.7" r="3.6" fill="#d9c08c"/>
<circle cx="197.4" cy="643.2" r="3.7" fill="#d9c08c"/>
<circle cx="206.3" cy="651.7" r="3.7" fill="#d9c08c"/>
<circle cx="214.4" cy="661.2" r="3.1" fill="#d9c08c"/>
<circle cx="221.4" cy="671.6" r="3.1" fill="#d9c08c"/>
<circle cx="227.5" cy="682.6" r="2.7" fill="#d9c08c"/>
<circle cx="232.4" cy="694.3" r="3.7" fill="#d9c08c"/>
<circle cx="236.1" cy="706.4" r="2.6" fill="#d9c08c"/>
<circle cx="238.6" cy="718.9" r="3.0" fill="#d9c08c"/>
<circle cx="239.8" cy="731.6" r="3.7" fill="#d9c08c"/>
<text class="n k" x="126.0" y="612.7" font-size="5.2">synapse−associated extracellular matrix</text>
<text class="n k" x="107.0" y="624.1" font-size="5.2">perineuronal net</text>
<text class="n k" x="157.5" y="620.2" font-size="5.2">Schaffer collateral−CA1 synapse</text>
<text class="n k" x="169.5" y="625.8" font-size="5.2">perisynaptic extracellular matrix</text>
<text class="n k" x="172.0" y="632.5" font-size="5.2" text-anchor="end">neuron to neuron synapse</text>
<text class="n k" x="190.5" y="635.3" font-size="5.2">postsynaptic density</text>
<text class="n k" x="200.6" y="644.2" font-size="5.2">asymmetric synapse</text>
<text class="n k" x="201.2" y="654.5" font-size="5.2" text-anchor="end">postsynaptic specialization</text>
<text class="n k" x="209.8" y="665.0" font-size="5.2" text-anchor="end">dendritic spine</text>
<text class="n k" x="210.3" y="675.8" font-size="5.2" text-anchor="end">neuron spine</text>
<text class="n k" x="223.3" y="685.6" font-size="5.2" text-anchor="end">perikaryon</text>
<text class="n k" x="227.3" y="696.1" font-size="5.2" text-anchor="end">distal axon</text>
<text class="n k" x="232.0" y="708.5" font-size="5.2" text-anchor="end">polysome</text>
<text class="n k" x="234.3" y="721.1" font-size="5.2" text-anchor="end">GABA−ergic synapse</text>
<text class="n k" x="235.0" y="733.9" font-size="5.2" text-anchor="end">myelin sheath</text>
<text class="nb" x="275.4" y="656.4" font-size="4.8" fill="#111">size</text>
<circle cx="269.9" cy="661" r="1.9" fill="#000"/>
<text class="n" x="275.4" y="662.5" font-size="4.2" fill="#222">5.0</text>
<circle cx="269.9" cy="667.3" r="2.4" fill="#000"/>
<text class="n" x="275.4" y="668.8" font-size="4.2" fill="#222">7.5</text>
<circle cx="269.9" cy="675" r="3.0" fill="#000"/>
<text class="n" x="275.4" y="676.5" font-size="4.2" fill="#222">10.0</text>
<text class="nb" x="257.2" y="686.0" font-size="4.4" fill="#111">log2 (fold change from WT)</text>
<defs><linearGradient id="fcg" x1="0" x2="0" y1="0" y2="1"><stop offset="0" stop-color="#4a7fc0"/><stop offset="0.5" stop-color="#f4f4f8"/><stop offset="1" stop-color="#d6504c"/></linearGradient></defs>
<rect x="265.30" y="687.60" width="7.10" height="31.40" fill="url(#fcg)"/>
<text class="n" x="274.2" y="696.7" font-size="4.2" fill="#222">0.25</text>
<text class="n" x="274.2" y="706.1" font-size="4.2" fill="#222">0.00</text>
<text class="n" x="274.2" y="716.9" font-size="4.2" fill="#222">−0.25</text>
<text class="nb" x="266.6" y="725.6" font-size="4.8" fill="#111">category</text>
<line x1="252.7" y1="732.4" x2="257.2" y2="732.4" stroke="#F8766D" stroke-width="0.7" stroke-opacity="0.7"/>
<text class="n" x="260.3" y="733.9" font-size="4.2" fill="#222">asymmetric synapse</text>
<line x1="252.7" y1="740.2" x2="257.2" y2="740.2" stroke="#E58700" stroke-width="0.7" stroke-opacity="0.7"/>
<text class="n" x="260.3" y="741.7" font-size="4.2" fill="#222">dendritic spine</text>
<line x1="252.7" y1="748.1" x2="257.2" y2="748.1" stroke="#C99800" stroke-width="0.7" stroke-opacity="0.7"/>
<text class="n" x="260.3" y="749.6" font-size="4.2" fill="#222">distal axon</text>
<line x1="252.7" y1="755.9" x2="257.2" y2="755.9" stroke="#A3A500" stroke-width="0.7" stroke-opacity="0.7"/>
<text class="n" x="260.3" y="757.4" font-size="4.2" fill="#222">GABA−ergic synapse</text>
<line x1="252.7" y1="763.7" x2="257.2" y2="763.7" stroke="#6BB100" stroke-width="0.7" stroke-opacity="0.7"/>
<text class="n" x="260.3" y="765.2" font-size="4.2" fill="#222">myelin sheath</text>
<line x1="252.7" y1="771.5" x2="257.2" y2="771.5" stroke="#00BA38" stroke-width="0.7" stroke-opacity="0.7"/>
<text class="n" x="260.3" y="773.0" font-size="4.2" fill="#222">neuron spine</text>
<line x1="252.7" y1="779.4" x2="257.2" y2="779.4" stroke="#00BF7D" stroke-width="0.7" stroke-opacity="0.7"/>
<text class="n" x="260.3" y="780.9" font-size="4.2" fill="#222">neuron to neuron synapse</text>
<line x1="252.7" y1="787.2" x2="257.2" y2="787.2" stroke="#00C0AF" stroke-width="0.7" stroke-opacity="0.7"/>
<text class="n" x="260.3" y="788.7" font-size="4.2" fill="#222">perikaryon</text>
<line x1="252.7" y1="795.0" x2="257.2" y2="795.0" stroke="#00BCD8" stroke-width="0.7" stroke-opacity="0.7"/>
<text class="n" x="260.3" y="796.5" font-size="4.2" fill="#222">perineuronal net</text>
<line x1="252.7" y1="802.9" x2="257.2" y2="802.9" stroke="#00B0F6" stroke-width="0.7" stroke-opacity="0.7"/>
<text class="n" x="260.3" y="804.4" font-size="4.2" fill="#222">perisynaptic extracellular matrix</text>
<line x1="252.7" y1="810.7" x2="257.2" y2="810.7" stroke="#619CFF" stroke-width="0.7" stroke-opacity="0.7"/>
<text class="n" x="260.3" y="812.2" font-size="4.2" fill="#222">polysome</text>
<line x1="252.7" y1="818.5" x2="257.2" y2="818.5" stroke="#B983FF" stroke-width="0.7" stroke-opacity="0.7"/>
<text class="n" x="260.3" y="820.0" font-size="4.2" fill="#222">postsynaptic density</text>
<line x1="252.7" y1="826.4" x2="257.2" y2="826.4" stroke="#E76BF3" stroke-width="0.7" stroke-opacity="0.7"/>
<text class="n" x="260.3" y="827.9" font-size="4.2" fill="#222">postsynaptic specialization</text>
<line x1="252.7" y1="834.2" x2="257.2" y2="834.2" stroke="#FD61D1" stroke-width="0.7" stroke-opacity="0.7"/>
<text class="n" x="260.3" y="835.7" font-size="4.2" fill="#222">Schaffer collateral − CA1</text>
<line x1="252.7" y1="842.0" x2="257.2" y2="842.0" stroke="#FF67A4" stroke-width="0.7" stroke-opacity="0.7"/>
<text class="n" x="260.3" y="843.5" font-size="4.2" fill="#222">synapse synapse−associated</text>
<text class="n" x="260.3" y="851.1" font-size="4.2" fill="#222">extracellular matrix</text>
<g fill="none" stroke-width="0.75" stroke-opacity="0.9">
<path d="M516.8,836.8C480.1,780.8 461.2,680.9 474.8,614.7" stroke="#00B0F6"/><path d="M389.0,840.6C422.5,782.5 470.3,683.8 495.2,621.2" stroke="#619CFF"/><path d="M374.7,830.3C416.1,777.9 470.3,683.8 495.2,621.2" stroke="#619CFF"/><path d="M343.8,679.5C402.2,710.0 470.3,683.8 495.2,621.2" stroke="#619CFF"/><path d="M356.5,811.0C407.9,769.2 470.3,683.8 495.2,621.2" stroke="#619CFF"/><path d="M362.1,817.9C410.4,772.3 472.1,684.6 499.1,623.0" stroke="#FF67A4"/><path d="M356.5,811.0C407.9,769.2 466.7,682.4 487.2,618.2" stroke="#FD61D1"/><path d="M568.6,724.4C503.4,730.2 457.4,680.2 466.4,613.2" stroke="#F8766D"/><path d="M560.1,781.7C499.5,756.0 466.7,682.4 487.2,618.2" stroke="#FD61D1"/><path d="M556.5,789.9C497.9,759.7 466.7,682.4 487.2,618.2" stroke="#FD61D1"/><path d="M331.8,749.4C396.8,741.5 470.3,683.8 495.2,621.2" stroke="#619CFF"/><path d="M552.9,673.3C496.3,707.2 461.2,680.9 474.8,614.7" stroke="#00B0F6"/><path d="M342.7,788.2C401.7,758.9 468.6,683.1 491.2,619.6" stroke="#B983FF"/><path d="M567.9,751.3C503.1,742.4 459.3,680.5 470.6,613.9" stroke="#00BCD8"/><path d="M406.8,620.4C430.6,683.4 477.2,687.3 510.5,629.1" stroke="#6BB100"/><path d="M568.8,742.4C503.5,738.3 457.4,680.2 466.4,613.2" stroke="#F8766D"/><path d="M339.2,779.9C400.1,755.2 472.1,684.6 499.1,623.0" stroke="#FF67A4"/><path d="M545.8,662.0C493.1,702.2 477.2,687.3 510.5,629.1" stroke="#6BB100"/><path d="M442.5,857.8C446.6,790.2 451.6,679.7 453.7,612.1" stroke="#E58700"/><path d="M555.1,677.2C497.3,709.0 459.3,680.5 470.6,613.9" stroke="#00BCD8"/><path d="M445.0,612.1C447.8,679.7 451.6,679.7 453.7,612.1" stroke="#E58700"/><path d="M509.4,841.6C476.7,783.0 470.3,683.8 495.2,621.2" stroke="#619CFF"/><path d="M353.8,807.5C406.7,767.6 453.6,679.8 457.9,612.3" stroke="#00BA38"/><path d="M353.8,807.5C406.7,767.6 466.7,682.4 487.2,618.2" stroke="#FD61D1"/><path d="M427.7,614.2C440.0,680.6 451.6,679.7 453.7,612.1" stroke="#E58700"/><path d="M523.8,831.5C483.2,778.4 455.5,679.9 462.2,612.6" stroke="#00C0AF"/><path d="M539.6,816.0C490.3,771.4 453.6,679.8 457.9,612.3" stroke="#00BA38"/><path d="M373.3,641.0C415.5,692.7 477.2,687.3 510.5,629.1" stroke="#6BB100"/><path d="M550.7,669.5C495.3,705.5 461.2,680.9 474.8,614.7" stroke="#00B0F6"/><path d="M527.2,828.6C484.7,777.1 470.3,683.8 495.2,621.2" stroke="#619CFF"/><path d="M371.4,827.4C414.6,776.6 475.6,686.4 506.8,626.9" stroke="#00BF7D"/><path d="M565.8,706.6C502.1,722.2 466.7,682.4 487.2,618.2" stroke="#FD61D1"/><path d="M561.7,777.5C500.3,754.1 459.3,680.5 470.6,613.9" stroke="#00BCD8"/><path d="M567.9,751.3C503.1,742.4 466.7,682.4 487.2,618.2" stroke="#FD61D1"/><path d="M335.8,700.4C398.6,719.4 473.8,685.4 503.0,624.9" stroke="#C99800"/><path d="M396.6,844.9C426.0,784.5 451.6,679.7 453.7,612.1" stroke="#E58700"/><path d="M497.8,847.7C471.5,785.7 461.2,680.9 474.8,614.7" stroke="#00B0F6"/><path d="M543.1,658.4C491.9,700.6 461.2,680.9 474.8,614.7" stroke="#00B0F6"/><path d="M344.6,792.2C402.6,760.7 453.6,679.8 457.9,612.3" stroke="#00BA38"/><path d="M410.9,618.8C432.4,682.7 451.6,679.7 453.7,612.1" stroke="#E58700"/><path d="M523.8,831.5C483.2,778.4 470.3,683.8 495.2,621.2" stroke="#619CFF"/><path d="M566.7,711.0C502.5,724.2 461.2,680.9 474.8,614.7" stroke="#00B0F6"/><path d="M385.3,838.2C420.9,781.5 470.3,683.8 495.2,621.2" stroke="#619CFF"/><path d="M555.1,677.2C497.3,709.0 466.7,682.4 487.2,618.2" stroke="#FD61D1"/><path d="M464.3,857.1C456.4,790.0 453.6,679.8 457.9,612.3" stroke="#00BA38"/><path d="M569.0,737.9C503.5,736.3 459.3,680.5 470.6,613.9" stroke="#00BCD8"/><path d="M345.8,675.6C403.1,708.2 473.8,685.4 503.0,624.9" stroke="#C99800"/><path d="M563.5,698.0C501.1,718.3 466.7,682.4 487.2,618.2" stroke="#FD61D1"/><path d="M558.4,785.8C498.8,757.9 466.7,682.4 487.2,618.2" stroke="#FD61D1"/><path d="M565.5,764.6C502.0,748.3 457.4,680.2 466.4,613.2" stroke="#F8766D"/><path d="M370.0,643.9C414.0,694.0 451.6,679.7 453.7,612.1" stroke="#E58700"/><path d="M343.8,679.5C402.2,710.0 473.8,685.4 503.0,624.9" stroke="#C99800"/><path d="M398.8,623.9C427.0,685.0 451.6,679.7 453.7,612.1" stroke="#E58700"/><path d="M332.8,713.6C397.3,725.4 472.1,684.6 499.1,623.0" stroke="#FF67A4"/><path d="M556.5,789.9C497.9,759.7 468.6,683.1 491.2,619.6" stroke="#B983FF"/><path d="M331.4,745.0C396.6,739.5 466.7,682.4 487.2,618.2" stroke="#FD61D1"/><path d="M380.2,635.4C418.6,690.2 477.2,687.3 510.5,629.1" stroke="#6BB100"/><path d="M562.1,693.7C500.4,716.4 459.3,680.5 470.6,613.9" stroke="#00BCD8"/><path d="M341.9,683.6C401.4,711.9 453.6,679.8 457.9,612.3" stroke="#00BA38"/><path d="M389.0,840.6C422.5,782.5 477.2,687.3 510.5,629.1" stroke="#6BB100"/><path d="M560.6,689.5C499.7,714.5 457.4,680.2 466.4,613.2" stroke="#F8766D"/><path d="M362.1,817.9C410.4,772.3 470.3,683.8 495.2,621.2" stroke="#619CFF"/><path d="M340.1,687.7C400.6,713.7 451.6,679.7 453.7,612.1" stroke="#E58700"/><path d="M351.3,803.8C405.6,765.9 468.6,683.1 491.2,619.6" stroke="#B983FF"/><path d="M562.1,693.7C500.4,716.4 457.4,680.2 466.4,613.2" stroke="#F8766D"/><path d="M408.6,850.3C431.4,786.9 477.2,687.3 510.5,629.1" stroke="#6BB100"/><path d="M331.0,731.5C396.5,733.4 470.3,683.8 495.2,621.2" stroke="#619CFF"/><path d="M433.9,856.9C442.7,789.8 477.2,687.3 510.5,629.1" stroke="#6BB100"/><path d="M356.5,811.0C407.9,769.2 468.6,683.1 491.2,619.6" stroke="#B983FF"/><path d="M527.2,828.6C484.7,777.1 453.6,679.8 457.9,612.3" stroke="#00BA38"/><path d="M558.9,685.3C499.0,712.7 457.4,680.2 466.4,613.2" stroke="#F8766D"/><path d="M540.4,655.0C490.7,699.0 451.6,679.7 453.7,612.1" stroke="#E58700"/><path d="M566.7,711.0C502.5,724.2 457.4,680.2 466.4,613.2" stroke="#F8766D"/><path d="M536.6,819.3C489.0,772.9 461.2,680.9 474.8,614.7" stroke="#00B0F6"/><path d="M425.3,855.3C438.9,789.1 453.6,679.8 457.9,612.3" stroke="#00BA38"/><path d="M485.5,852.4C466.0,787.8 470.3,683.8 495.2,621.2" stroke="#619CFF"/><path d="M534.5,648.4C488.0,696.0 470.3,683.8 495.2,621.2" stroke="#619CFF"/><path d="M537.5,651.6C489.4,697.5 477.2,687.3 510.5,629.1" stroke="#6BB100"/><path d="M395.0,626.0C425.2,685.9 477.2,687.3 510.5,629.1" stroke="#6BB100"/><path d="M332.4,753.9C397.1,743.5 472.1,684.6 499.1,623.0" stroke="#FF67A4"/><path d="M539.6,816.0C490.3,771.4 459.3,680.5 470.6,613.9" stroke="#00BCD8"/><path d="M336.3,771.4C398.9,751.4 468.6,683.1 491.2,619.6" stroke="#B983FF"/><path d="M442.5,857.8C446.6,790.2 475.6,686.4 506.8,626.9" stroke="#00BF7D"/><path d="M402.8,622.1C428.8,684.2 451.6,679.7 453.7,612.1" stroke="#E58700"/><path d="M455.6,857.9C452.5,790.3 470.3,683.8 495.2,621.2" stroke="#619CFF"/><path d="M558.4,785.8C498.8,757.9 459.3,680.5 470.6,613.9" stroke="#00BCD8"/><path d="M555.1,677.2C497.3,709.0 461.2,680.9 474.8,614.7" stroke="#00B0F6"/><path d="M566.7,711.0C502.5,724.2 468.6,683.1 491.2,619.6" stroke="#B983FF"/><path d="M334.1,762.7C397.8,747.5 472.1,684.6 499.1,623.0" stroke="#FF67A4"/><path d="M514.2,631.4C478.9,688.4 461.2,680.9 474.8,614.7" stroke="#00B0F6"/><path d="M336.3,771.4C398.9,751.4 466.7,682.4 487.2,618.2" stroke="#FD61D1"/><path d="M385.3,838.2C420.9,781.5 453.6,679.8 457.9,612.3" stroke="#00BA38"/><path d="M545.8,662.0C493.1,702.2 461.2,680.9 474.8,614.7" stroke="#00B0F6"/><path d="M530.4,825.6C486.2,775.8 470.3,683.8 495.2,621.2" stroke="#619CFF"/><path d="M395.0,626.0C425.2,685.9 451.6,679.7 453.7,612.1" stroke="#E58700"/><path d="M445.0,612.1C447.8,679.7 477.2,687.3 510.5,629.1" stroke="#6BB100"/><path d="M569.0,733.4C503.5,734.3 461.2,680.9 474.8,614.7" stroke="#00B0F6"/><path d="M337.1,696.1C399.2,717.5 453.6,679.8 457.9,612.3" stroke="#00BA38"/><path d="M338.5,691.9C399.8,715.6 473.8,685.4 503.0,624.9" stroke="#C99800"/><path d="M485.5,852.4C466.0,787.8 477.2,687.3 510.5,629.1" stroke="#6BB100"/><path d="M524.8,639.3C483.6,691.9 451.6,679.7 453.7,612.1" stroke="#E58700"/><path d="M416.9,853.1C435.1,788.2 477.2,687.3 510.5,629.1" stroke="#6BB100"/><path d="M563.5,698.0C501.1,718.3 459.3,680.5 470.6,613.9" stroke="#00BCD8"/><path d="M387.4,630.4C421.8,687.9 477.2,687.3 510.5,629.1" stroke="#6BB100"/><path d="M380.2,635.4C418.6,690.2 453.6,679.8 457.9,612.3" stroke="#00BA38"/><path d="M333.7,709.2C397.6,723.4 453.6,679.8 457.9,612.3" stroke="#00BA38"/><path d="M545.8,662.0C493.1,702.2 473.8,685.4 503.0,624.9" stroke="#C99800"/><path d="M334.1,762.7C397.8,747.5 463.0,681.3 479.0,615.7" stroke="#E76BF3"/><path d="M391.1,628.1C423.5,686.9 453.6,679.8 457.9,612.3" stroke="#00BA38"/><path d="M554.5,793.9C497.0,761.5 459.3,680.5 470.6,613.9" stroke="#00BCD8"/><path d="M550.7,669.5C495.3,705.5 459.3,680.5 470.6,613.9" stroke="#00BCD8"/><path d="M552.9,673.3C496.3,707.2 466.7,682.4 487.2,618.2" stroke="#FD61D1"/><path d="M387.4,630.4C421.8,687.9 451.6,679.7 453.7,612.1" stroke="#E58700"/><path d="M568.9,728.9C503.5,732.2 451.6,679.7 453.7,612.1" stroke="#E58700"/><path d="M362.1,817.9C410.4,772.3 463.0,681.3 479.0,615.7" stroke="#E76BF3"/><path d="M531.3,645.2C486.6,694.6 451.6,679.7 453.7,612.1" stroke="#E58700"/><path d="M568.1,719.9C503.1,728.2 461.2,680.9 474.8,614.7" stroke="#00B0F6"/><path d="M524.8,639.3C483.6,691.9 470.3,683.8 495.2,621.2" stroke="#619CFF"/><path d="M344.6,792.2C402.6,760.7 472.1,684.6 499.1,623.0" stroke="#FF67A4"/><path d="M402.8,622.1C428.8,684.2 477.2,687.3 510.5,629.1" stroke="#6BB100"/><path d="M391.1,628.1C423.5,686.9 477.2,687.3 510.5,629.1" stroke="#6BB100"/><path d="M569.0,737.9C503.5,736.3 468.6,683.1 491.2,619.6" stroke="#B983FF"/><path d="M333.2,758.3C397.4,745.5 453.6,679.8 457.9,612.3" stroke="#00BA38"/><path d="M331.0,736.0C396.5,735.4 468.6,683.1 491.2,619.6" stroke="#B983FF"/><path d="M368.2,824.3C413.2,775.2 453.6,679.8 457.9,612.3" stroke="#00BA38"/><path d="M421.1,854.3C437.0,788.7 455.5,679.9 462.2,612.6" stroke="#00C0AF"/><path d="M440.7,612.4C445.8,679.8 477.2,687.3 510.5,629.1" stroke="#6BB100"/><path d="M365.1,821.2C411.8,773.8 466.7,682.4 487.2,618.2" stroke="#FD61D1"/><path d="M568.8,742.4C503.5,738.3 468.6,683.1 491.2,619.6" stroke="#B983FF"/><path d="M568.8,742.4C503.5,738.3 466.7,682.4 487.2,618.2" stroke="#FD61D1"/><path d="M501.7,845.8C473.3,784.8 470.3,683.8 495.2,621.2" stroke="#619CFF"/><path d="M497.8,847.7C471.5,785.7 470.3,683.8 495.2,621.2" stroke="#619CFF"/><path d="M501.7,845.8C473.3,784.8 459.3,680.5 470.6,613.9" stroke="#00BCD8"/><path d="M346.7,796.1C403.5,762.5 453.6,679.8 457.9,612.3" stroke="#00BA38"/><path d="M331.6,722.5C396.7,729.4 453.6,679.8 457.9,612.3" stroke="#00BA38"/><path d="M563.5,698.0C501.1,718.3 451.6,679.7 453.7,612.1" stroke="#E58700"/><path d="M509.4,841.6C476.7,783.0 455.5,679.9 462.2,612.6" stroke="#00C0AF"/><path d="M517.8,633.9C480.5,689.5 470.3,683.8 495.2,621.2" stroke="#619CFF"/><path d="M563.1,773.2C500.9,752.2 461.2,680.9 474.8,614.7" stroke="#00B0F6"/><path d="M567.3,755.8C502.8,744.4 461.2,680.9 474.8,614.7" stroke="#00B0F6"/><path d="M446.9,858.0C448.6,790.3 451.6,679.7 453.7,612.1" stroke="#E58700"/><path d="M566.5,760.2C502.4,746.3 461.2,680.9 474.8,614.7" stroke="#00B0F6"/><path d="M423.5,615.1C438.1,681.0 477.2,687.3 510.5,629.1" stroke="#6BB100"/><path d="M406.8,620.4C430.6,683.4 453.6,679.8 457.9,612.3" stroke="#00BA38"/><path d="M564.4,768.9C501.5,750.3 451.6,679.7 453.7,612.1" stroke="#E58700"/><path d="M568.9,728.9C503.5,732.2 457.4,680.2 466.4,613.2" stroke="#F8766D"/><path d="M332.1,718.0C397.0,727.4 470.3,683.8 495.2,621.2" stroke="#619CFF"/><path d="M521.3,636.6C482.1,690.7 470.3,683.8 495.2,621.2" stroke="#619CFF"/><path d="M358.0,657.0C408.6,699.9 451.6,679.7 453.7,612.1" stroke="#E58700"/><path d="M349.0,800.0C404.5,764.2 472.1,684.6 499.1,623.0" stroke="#FF67A4"/><path d="M567.3,755.8C502.8,744.4 468.6,683.1 491.2,619.6" stroke="#B983FF"/><path d="M451.3,858.0C450.6,790.3 475.6,686.4 506.8,626.9" stroke="#00BF7D"/><path d="M557.0,681.3C498.2,710.8 466.7,682.4 487.2,618.2" stroke="#FD61D1"/><path d="M536.6,819.3C489.0,772.9 455.5,679.9 462.2,612.6" stroke="#00C0AF"/><path d="M568.1,719.9C503.1,728.2 457.4,680.2 466.4,613.2" stroke="#F8766D"/><path d="M374.7,830.3C416.1,777.9 455.5,679.9 462.2,612.6" stroke="#00C0AF"/><path d="M520.4,834.2C481.7,779.6 461.2,680.9 474.8,614.7" stroke="#00B0F6"/><path d="M412.7,851.8C433.2,787.6 453.6,679.8 457.9,612.3" stroke="#00BA38"/><path d="M542.4,812.5C491.6,769.9 455.5,679.9 462.2,612.6" stroke="#00C0AF"/><path d="M331.8,749.4C396.8,741.5 472.1,684.6 499.1,623.0" stroke="#FF67A4"/><path d="M374.7,830.3C416.1,777.9 453.6,679.8 457.9,612.3" stroke="#00BA38"/><path d="M331.6,722.5C396.7,729.4 466.7,682.4 487.2,618.2" stroke="#FD61D1"/><path d="M331.3,727.0C396.6,731.4 470.3,683.8 495.2,621.2" stroke="#619CFF"/><path d="M429.6,856.2C440.8,789.5 470.3,683.8 495.2,621.2" stroke="#619CFF"/><path d="M455.6,857.9C452.5,790.3 455.5,679.9 462.2,612.6" stroke="#00C0AF"/><path d="M421.1,854.3C437.0,788.7 477.2,687.3 510.5,629.1" stroke="#6BB100"/><path d="M505.6,843.7C475.0,783.9 470.3,683.8 495.2,621.2" stroke="#619CFF"/><path d="M381.7,835.7C419.3,780.3 455.5,679.9 462.2,612.6" stroke="#00C0AF"/><path d="M366.8,647.0C412.6,695.4 453.6,679.8 457.9,612.3" stroke="#00BA38"/><path d="M335.8,700.4C398.6,719.4 453.6,679.8 457.9,612.3" stroke="#00BA38"/><path d="M376.7,638.1C417.0,691.4 453.6,679.8 457.9,612.3" stroke="#00BA38"/><path d="M472.9,855.7C460.3,789.3 455.5,679.9 462.2,612.6" stroke="#00C0AF"/><path d="M398.8,623.9C427.0,685.0 453.6,679.8 457.9,612.3" stroke="#00BA38"/><path d="M337.1,696.1C399.2,717.5 470.3,683.8 495.2,621.2" stroke="#619CFF"/><path d="M332.4,753.9C397.1,743.5 453.6,679.8 457.9,612.3" stroke="#00BA38"/><path d="M392.8,842.8C424.2,783.5 475.6,686.4 506.8,626.9" stroke="#00BF7D"/><path d="M404.5,848.7C429.5,786.2 455.5,679.9 462.2,612.6" stroke="#00C0AF"/><path d="M419.2,616.2C436.2,681.5 453.6,679.8 457.9,612.3" stroke="#00BA38"/><path d="M566.5,760.2C502.4,746.3 459.3,680.5 470.6,613.9" stroke="#00BCD8"/><path d="M400.5,846.9C427.7,785.3 477.2,687.3 510.5,629.1" stroke="#6BB100"/><path d="M527.2,828.6C484.7,777.1 455.5,679.9 462.2,612.6" stroke="#00C0AF"/><path d="M396.6,844.9C426.0,784.5 477.2,687.3 510.5,629.1" stroke="#6BB100"/><path d="M436.3,612.8C443.9,680.0 451.6,679.7 453.7,612.1" stroke="#E58700"/><path d="M358.0,657.0C408.6,699.9 453.6,679.8 457.9,612.3" stroke="#00BA38"/><path d="M419.2,616.2C436.2,681.5 451.6,679.7 453.7,612.1" stroke="#E58700"/><path d="M331.0,731.5C396.5,733.4 466.7,682.4 487.2,618.2" stroke="#FD61D1"/><path d="M554.5,793.9C497.0,761.5 466.7,682.4 487.2,618.2" stroke="#FD61D1"/><path d="M552.9,673.3C496.3,707.2 457.4,680.2 466.4,613.2" stroke="#F8766D"/><path d="M493.7,849.4C469.7,786.5 459.3,680.5 470.6,613.9" stroke="#00BCD8"/><path d="M552.3,797.8C496.0,763.3 461.2,680.9 474.8,614.7" stroke="#00B0F6"/><path d="M564.7,702.3C501.6,720.3 461.2,680.9 474.8,614.7" stroke="#00B0F6"/><path d="M568.6,724.4C503.4,730.2 461.2,680.9 474.8,614.7" stroke="#00B0F6"/><path d="M568.4,746.9C503.3,740.3 461.2,680.9 474.8,614.7" stroke="#00B0F6"/><path d="M563.1,773.2C500.9,752.2 451.6,679.7 453.7,612.1" stroke="#E58700"/><path d="M359.2,814.5C409.2,770.8 472.1,684.6 499.1,623.0" stroke="#FF67A4"/><path d="M429.6,856.2C440.8,789.5 455.5,679.9 462.2,612.6" stroke="#00C0AF"/><path d="M560.1,781.7C499.5,756.0 451.6,679.7 453.7,612.1" stroke="#E58700"/><path d="M398.8,623.9C427.0,685.0 477.2,687.3 510.5,629.1" stroke="#6BB100"/><path d="M340.1,687.7C400.6,713.7 453.6,679.8 457.9,612.3" stroke="#00BA38"/><path d="M408.6,850.3C431.4,786.9 451.6,679.7 453.7,612.1" stroke="#E58700"/><path d="M345.8,675.6C403.1,708.2 453.6,679.8 457.9,612.3" stroke="#00BA38"/><path d="M355.3,660.5C407.4,701.5 453.6,679.8 457.9,612.3" stroke="#00BA38"/><path d="M539.6,816.0C490.3,771.4 461.2,680.9 474.8,614.7" stroke="#00B0F6"/><path d="M350.3,667.8C405.1,704.8 451.6,679.7 453.7,612.1" stroke="#E58700"/><path d="M489.7,851.0C467.8,787.2 451.6,679.7 453.7,612.1" stroke="#E58700"/><path d="M561.7,777.5C500.3,754.1 461.2,680.9 474.8,614.7" stroke="#00B0F6"/><path d="M568.9,728.9C503.5,732.2 459.3,680.5 470.6,613.9" stroke="#00BCD8"/><path d="M360.8,653.5C409.9,698.3 451.6,679.7 453.7,612.1" stroke="#E58700"/><path d="M459.9,857.6C454.5,790.2 453.6,679.8 457.9,612.3" stroke="#00BA38"/><path d="M360.8,653.5C409.9,698.3 477.2,687.3 510.5,629.1" stroke="#6BB100"/><path d="M415.1,617.4C434.3,682.1 477.2,687.3 510.5,629.1" stroke="#6BB100"/><path d="M339.2,779.9C400.1,755.2 463.0,681.3 479.0,615.7" stroke="#E76BF3"/><path d="M400.5,846.9C427.7,785.3 451.6,679.7 453.7,612.1" stroke="#E58700"/><path d="M340.1,687.7C400.6,713.7 473.8,685.4 503.0,624.9" stroke="#C99800"/><path d="M561.7,777.5C500.3,754.1 451.6,679.7 453.7,612.1" stroke="#E58700"/><path d="M449.4,612.0C449.7,679.7 453.6,679.8 457.9,612.3" stroke="#00BA38"/><path d="M547.6,805.4C493.9,766.7 461.2,680.9 474.8,614.7" stroke="#00B0F6"/><path d="M331.0,731.5C396.5,733.4 472.1,684.6 499.1,623.0" stroke="#FF67A4"/><path d="M381.7,835.7C419.3,780.3 477.2,687.3 510.5,629.1" stroke="#6BB100"/><path d="M332.1,718.0C397.0,727.4 468.6,683.1 491.2,619.6" stroke="#B983FF"/><path d="M477.1,854.8C462.2,788.9 477.2,687.3 510.5,629.1" stroke="#6BB100"/><path d="M389.0,840.6C422.5,782.5 475.6,686.4 506.8,626.9" stroke="#00BF7D"/><path d="M334.6,704.8C398.1,721.4 473.8,685.4 503.0,624.9" stroke="#C99800"/><path d="M385.3,838.2C420.9,781.5 477.2,687.3 510.5,629.1" stroke="#6BB100"/><path d="M432.0,613.4C441.9,680.3 451.6,679.7 453.7,612.1" stroke="#E58700"/><path d="M337.7,775.7C399.5,753.3 466.7,682.4 487.2,618.2" stroke="#FD61D1"/><path d="M560.6,689.5C499.7,714.5 461.2,680.9 474.8,614.7" stroke="#00B0F6"/><path d="M331.6,722.5C396.7,729.4 470.3,683.8 495.2,621.2" stroke="#619CFF"/><path d="M331.4,745.0C396.6,739.5 468.6,683.1 491.2,619.6" stroke="#B983FF"/><path d="M567.5,715.5C502.9,726.2 466.7,682.4 487.2,618.2" stroke="#FD61D1"/><path d="M352.7,664.1C406.2,703.1 453.6,679.8 457.9,612.3" stroke="#00BA38"/><path d="M536.6,819.3C489.0,772.9 453.6,679.8 457.9,612.3" stroke="#00BA38"/><path d="M542.4,812.5C491.6,769.9 453.6,679.8 457.9,612.3" stroke="#00BA38"/><path d="M568.4,746.9C503.3,740.3 459.3,680.5 470.6,613.9" stroke="#00BCD8"/><path d="M565.8,706.6C502.1,722.2 457.4,680.2 466.4,613.2" stroke="#F8766D"/><path d="M378.2,833.1C417.7,779.1 477.2,687.3 510.5,629.1" stroke="#6BB100"/><path d="M509.4,841.6C476.7,783.0 453.6,679.8 457.9,612.3" stroke="#00BA38"/><path d="M552.3,797.8C496.0,763.3 459.3,680.5 470.6,613.9" stroke="#00BCD8"/><path d="M363.8,650.2C411.2,696.8 477.2,687.3 510.5,629.1" stroke="#6BB100"/><path d="M520.4,834.2C481.7,779.6 459.3,680.5 470.6,613.9" stroke="#00BCD8"/><path d="M528.1,642.2C485.2,693.2 477.2,687.3 510.5,629.1" stroke="#6BB100"/><path d="M338.5,691.9C399.8,715.6 453.6,679.8 457.9,612.3" stroke="#00BA38"/><path d="M371.4,827.4C414.6,776.6 477.2,687.3 510.5,629.1" stroke="#6BB100"/><path d="M385.3,838.2C420.9,781.5 475.6,686.4 506.8,626.9" stroke="#00BF7D"/><path d="M331.0,736.0C396.5,735.4 472.1,684.6 499.1,623.0" stroke="#FF67A4"/><path d="M436.3,612.8C443.9,680.0 477.2,687.3 510.5,629.1" stroke="#6BB100"/><path d="M348.0,671.7C404.1,706.5 470.3,683.8 495.2,621.2" stroke="#619CFF"/><path d="M346.7,796.1C403.5,762.5 468.6,683.1 491.2,619.6" stroke="#B983FF"/><path d="M350.3,667.8C405.1,704.8 470.3,683.8 495.2,621.2" stroke="#619CFF"/><path d="M342.7,788.2C401.7,758.9 453.6,679.8 457.9,612.3" stroke="#00BA38"/><path d="M335.1,767.1C398.3,749.4 468.6,683.1 491.2,619.6" stroke="#B983FF"/><path d="M348.0,671.7C404.1,706.5 451.6,679.7 453.7,612.1" stroke="#E58700"/><path d="M464.3,857.1C456.4,790.0 451.6,679.7 453.7,612.1" stroke="#E58700"/><path d="M442.5,857.8C446.6,790.2 477.2,687.3 510.5,629.1" stroke="#6BB100"/><path d="M368.2,824.3C413.2,775.2 475.6,686.4 506.8,626.9" stroke="#00BF7D"/><path d="M521.3,636.6C482.1,690.7 477.2,687.3 510.5,629.1" stroke="#6BB100"/><path d="M543.1,658.4C491.9,700.6 451.6,679.7 453.7,612.1" stroke="#E58700"/><path d="M481.4,853.7C464.1,788.4 475.6,686.4 506.8,626.9" stroke="#00BF7D"/><path d="M558.9,685.3C499.0,712.7 466.7,682.4 487.2,618.2" stroke="#FD61D1"/><path d="M440.7,612.4C445.8,679.8 453.6,679.8 457.9,612.3" stroke="#00BA38"/><path d="M542.4,812.5C491.6,769.9 461.2,680.9 474.8,614.7" stroke="#00B0F6"/><path d="M560.6,689.5C499.7,714.5 466.7,682.4 487.2,618.2" stroke="#FD61D1"/><path d="M555.1,677.2C497.3,709.0 457.4,680.2 466.4,613.2" stroke="#F8766D"/><path d="M416.9,853.1C435.1,788.2 451.6,679.7 453.7,612.1" stroke="#E58700"/><path d="M568.6,724.4C503.4,730.2 466.7,682.4 487.2,618.2" stroke="#FD61D1"/><path d="M359.2,814.5C409.2,770.8 470.3,683.8 495.2,621.2" stroke="#619CFF"/><path d="M387.4,630.4C421.8,687.9 453.6,679.8 457.9,612.3" stroke="#00BA38"/><path d="M363.8,650.2C411.2,696.8 453.6,679.8 457.9,612.3" stroke="#00BA38"/><path d="M352.7,664.1C406.2,703.1 477.2,687.3 510.5,629.1" stroke="#6BB100"/><path d="M517.8,633.9C480.5,689.5 477.2,687.3 510.5,629.1" stroke="#6BB100"/><path d="M554.5,793.9C497.0,761.5 461.2,680.9 474.8,614.7" stroke="#00B0F6"/><path d="M339.2,779.9C400.1,755.2 468.6,683.1 491.2,619.6" stroke="#B983FF"/><path d="M558.4,785.8C498.8,757.9 457.4,680.2 466.4,613.2" stroke="#F8766D"/><path d="M359.2,814.5C409.2,770.8 463.0,681.3 479.0,615.7" stroke="#E76BF3"/><path d="M410.9,618.8C432.4,682.7 453.6,679.8 457.9,612.3" stroke="#00BA38"/><path d="M334.1,762.7C397.8,747.5 453.6,679.8 457.9,612.3" stroke="#00BA38"/><path d="M565.5,764.6C502.0,748.3 466.7,682.4 487.2,618.2" stroke="#FD61D1"/><path d="M556.5,789.9C497.9,759.7 459.3,680.5 470.6,613.9" stroke="#00BCD8"/><path d="M406.8,620.4C430.6,683.4 451.6,679.7 453.7,612.1" stroke="#E58700"/><path d="M373.3,641.0C415.5,692.7 451.6,679.7 453.7,612.1" stroke="#E58700"/><path d="M481.4,853.7C464.1,788.4 477.2,687.3 510.5,629.1" stroke="#6BB100"/><path d="M550.0,801.6C495.0,765.0 453.6,679.8 457.9,612.3" stroke="#00BA38"/><path d="M530.4,825.6C486.2,775.8 459.3,680.5 470.6,613.9" stroke="#00BCD8"/><path d="M338.5,691.9C399.8,715.6 470.3,683.8 495.2,621.2" stroke="#619CFF"/><path d="M337.1,696.1C399.2,717.5 451.6,679.7 453.7,612.1" stroke="#E58700"/><path d="M332.4,753.9C397.1,743.5 468.6,683.1 491.2,619.6" stroke="#B983FF"/><path d="M355.3,660.5C407.4,701.5 451.6,679.7 453.7,612.1" stroke="#E58700"/><path d="M563.1,773.2C500.9,752.2 459.3,680.5 470.6,613.9" stroke="#00BCD8"/><path d="M468.6,856.5C458.4,789.7 477.2,687.3 510.5,629.1" stroke="#6BB100"/><path d="M489.7,851.0C467.8,787.2 453.6,679.8 457.9,612.3" stroke="#00BA38"/><path d="M564.4,768.9C501.5,750.3 468.6,683.1 491.2,619.6" stroke="#B983FF"/><path d="M416.9,853.1C435.1,788.2 455.5,679.9 462.2,612.6" stroke="#00C0AF"/><path d="M383.7,632.8C420.2,689.0 451.6,679.7 453.7,612.1" stroke="#E58700"/><path d="M449.4,612.0C449.7,679.7 451.6,679.7 453.7,612.1" stroke="#E58700"/><path d="M509.4,841.6C476.7,783.0 459.3,680.5 470.6,613.9" stroke="#00BCD8"/><path d="M497.8,847.7C471.5,785.7 459.3,680.5 470.6,613.9" stroke="#00BCD8"/><path d="M446.9,858.0C448.6,790.3 470.3,683.8 495.2,621.2" stroke="#619CFF"/><path d="M415.1,617.4C434.3,682.1 451.6,679.7 453.7,612.1" stroke="#E58700"/><path d="M548.3,665.7C494.2,703.8 461.2,680.9 474.8,614.7" stroke="#00B0F6"/><path d="M423.5,615.1C438.1,681.0 451.6,679.7 453.7,612.1" stroke="#E58700"/><path d="M362.1,817.9C410.4,772.3 453.6,679.8 457.9,612.3" stroke="#00BA38"/><path d="M451.3,858.0C450.6,790.3 455.5,679.9 462.2,612.6" stroke="#00C0AF"/><path d="M468.6,856.5C458.4,789.7 470.3,683.8 495.2,621.2" stroke="#619CFF"/><path d="M528.1,642.2C485.2,693.2 470.3,683.8 495.2,621.2" stroke="#619CFF"/><path d="M531.3,645.2C486.6,694.6 477.2,687.3 510.5,629.1" stroke="#6BB100"/><path d="M514.2,631.4C478.9,688.4 477.2,687.3 510.5,629.1" stroke="#6BB100"/><path d="M567.9,751.3C503.1,742.4 468.6,683.1 491.2,619.6" stroke="#B983FF"/><path d="M366.8,647.0C412.6,695.4 451.6,679.7 453.7,612.1" stroke="#E58700"/><path d="M331.4,745.0C396.6,739.5 472.1,684.6 499.1,623.0" stroke="#FF67A4"/><path d="M533.6,822.5C487.6,774.4 459.3,680.5 470.6,613.9" stroke="#00BCD8"/><path d="M516.8,836.8C480.1,780.8 459.3,680.5 470.6,613.9" stroke="#00BCD8"/><path d="M348.0,671.7C404.1,706.5 453.6,679.8 457.9,612.3" stroke="#00BA38"/><path d="M392.8,842.8C424.2,783.5 477.2,687.3 510.5,629.1" stroke="#6BB100"/><path d="M556.5,789.9C497.9,759.7 461.2,680.9 474.8,614.7" stroke="#00B0F6"/><path d="M349.0,800.0C404.5,764.2 466.7,682.4 487.2,618.2" stroke="#FD61D1"/><path d="M513.1,839.3C478.4,781.9 461.2,680.9 474.8,614.7" stroke="#00B0F6"/><path d="M391.1,628.1C423.5,686.9 451.6,679.7 453.7,612.1" stroke="#E58700"/><path d="M378.2,833.1C417.7,779.1 455.5,679.9 462.2,612.6" stroke="#00C0AF"/><path d="M344.6,792.2C402.6,760.7 466.7,682.4 487.2,618.2" stroke="#FD61D1"/><path d="M404.5,848.7C429.5,786.2 477.2,687.3 510.5,629.1" stroke="#6BB100"/><path d="M331.1,740.5C396.5,737.5 466.7,682.4 487.2,618.2" stroke="#FD61D1"/><path d="M530.4,825.6C486.2,775.8 461.2,680.9 474.8,614.7" stroke="#00B0F6"/><path d="M568.8,742.4C503.5,738.3 459.3,680.5 470.6,613.9" stroke="#00BCD8"/><path d="M412.7,851.8C433.2,787.6 451.6,679.7 453.7,612.1" stroke="#E58700"/><path d="M438.2,857.4C444.7,790.1 453.6,679.8 457.9,612.3" stroke="#00BA38"/><path d="M427.7,614.2C440.0,680.6 477.2,687.3 510.5,629.1" stroke="#6BB100"/><path d="M331.0,736.0C396.5,735.4 463.0,681.3 479.0,615.7" stroke="#E76BF3"/><path d="M554.5,793.9C497.0,761.5 468.6,683.1 491.2,619.6" stroke="#B983FF"/><path d="M340.9,784.1C400.9,757.1 468.6,683.1 491.2,619.6" stroke="#B983FF"/><path d="M396.6,844.9C426.0,784.5 453.6,679.8 457.9,612.3" stroke="#00BA38"/><path d="M557.0,681.3C498.2,710.8 461.2,680.9 474.8,614.7" stroke="#00B0F6"/><path d="M368.2,824.3C413.2,775.2 451.6,679.7 453.7,612.1" stroke="#E58700"/><path d="M568.6,724.4C503.4,730.2 459.3,680.5 470.6,613.9" stroke="#00BCD8"/><path d="M550.0,801.6C495.0,765.0 461.2,680.9 474.8,614.7" stroke="#00B0F6"/><path d="M537.5,651.6C489.4,697.5 451.6,679.7 453.7,612.1" stroke="#E58700"/><path d="M332.8,713.6C397.3,725.4 466.7,682.4 487.2,618.2" stroke="#FD61D1"/><path d="M370.0,643.9C414.0,694.0 453.6,679.8 457.9,612.3" stroke="#00BA38"/><path d="M336.3,771.4C398.9,751.4 463.0,681.3 479.0,615.7" stroke="#E76BF3"/><path d="M331.3,727.0C396.6,731.4 472.1,684.6 499.1,623.0" stroke="#FF67A4"/><path d="M545.1,809.0C492.8,768.3 461.2,680.9 474.8,614.7" stroke="#00B0F6"/><path d="M341.9,683.6C401.4,711.9 473.8,685.4 503.0,624.9" stroke="#C99800"/><path d="M446.9,858.0C448.6,790.3 453.6,679.8 457.9,612.3" stroke="#00BA38"/><path d="M543.1,658.4C491.9,700.6 470.3,683.8 495.2,621.2" stroke="#619CFF"/><path d="M374.7,830.3C416.1,777.9 475.6,686.4 506.8,626.9" stroke="#00BF7D"/><path d="M472.9,855.7C460.3,789.3 453.6,679.8 457.9,612.3" stroke="#00BA38"/><path d="M331.8,749.4C396.8,741.5 463.0,681.3 479.0,615.7" stroke="#E76BF3"/><path d="M548.3,665.7C494.2,703.8 473.8,685.4 503.0,624.9" stroke="#C99800"/><path d="M513.1,839.3C478.4,781.9 459.3,680.5 470.6,613.9" stroke="#00BCD8"/><path d="M513.1,839.3C478.4,781.9 455.5,679.9 462.2,612.6" stroke="#00C0AF"/><path d="M331.1,740.5C396.5,737.5 463.0,681.3 479.0,615.7" stroke="#E76BF3"/><path d="M383.7,632.8C420.2,689.0 453.6,679.8 457.9,612.3" stroke="#00BA38"/><path d="M335.8,700.4C398.6,719.4 451.6,679.7 453.7,612.1" stroke="#E58700"/><path d="M545.8,662.0C493.1,702.2 470.3,683.8 495.2,621.2" stroke="#619CFF"/><path d="M334.6,704.8C398.1,721.4 451.6,679.7 453.7,612.1" stroke="#E58700"/><path d="M350.3,667.8C405.1,704.8 453.6,679.8 457.9,612.3" stroke="#00BA38"/><path d="M421.1,854.3C437.0,788.7 451.6,679.7 453.7,612.1" stroke="#E58700"/><path d="M567.5,715.5C502.9,726.2 461.2,680.9 474.8,614.7" stroke="#00B0F6"/><path d="M550.0,801.6C495.0,765.0 470.3,683.8 495.2,621.2" stroke="#619CFF"/><path d="M505.6,843.7C475.0,783.9 459.3,680.5 470.6,613.9" stroke="#00BCD8"/><path d="M359.2,814.5C409.2,770.8 468.6,683.1 491.2,619.6" stroke="#B983FF"/><path d="M335.1,767.1C398.3,749.4 472.1,684.6 499.1,623.0" stroke="#FF67A4"/><path d="M568.9,728.9C503.5,732.2 468.6,683.1 491.2,619.6" stroke="#B983FF"/><path d="M429.6,856.2C440.8,789.5 453.6,679.8 457.9,612.3" stroke="#00BA38"/><path d="M340.9,784.1C400.9,757.1 466.7,682.4 487.2,618.2" stroke="#FD61D1"/><path d="M568.9,728.9C503.5,732.2 461.2,680.9 474.8,614.7" stroke="#00B0F6"/><path d="M339.2,779.9C400.1,755.2 466.7,682.4 487.2,618.2" stroke="#FD61D1"/><path d="M356.5,811.0C407.9,769.2 472.1,684.6 499.1,623.0" stroke="#FF67A4"/><path d="M351.3,803.8C405.6,765.9 466.7,682.4 487.2,618.2" stroke="#FD61D1"/><path d="M381.7,835.7C419.3,780.3 453.6,679.8 457.9,612.3" stroke="#00BA38"/><path d="M438.2,857.4C444.7,790.1 475.6,686.4 506.8,626.9" stroke="#00BF7D"/><path d="M493.7,849.4C469.7,786.5 461.2,680.9 474.8,614.7" stroke="#00B0F6"/><path d="M333.7,709.2C397.6,723.4 473.8,685.4 503.0,624.9" stroke="#C99800"/><path d="M345.8,675.6C403.1,708.2 451.6,679.7 453.7,612.1" stroke="#E58700"/><path d="M534.5,648.4C488.0,696.0 477.2,687.3 510.5,629.1" stroke="#6BB100"/><path d="M537.5,651.6C489.4,697.5 461.2,680.9 474.8,614.7" stroke="#00B0F6"/><path d="M505.6,843.7C475.0,783.9 461.2,680.9 474.8,614.7" stroke="#00B0F6"/><path d="M351.3,803.8C405.6,765.9 453.6,679.8 457.9,612.3" stroke="#00BA38"/><path d="M569.0,733.4C503.5,734.3 459.3,680.5 470.6,613.9" stroke="#00BCD8"/><path d="M341.9,683.6C401.4,711.9 451.6,679.7 453.7,612.1" stroke="#E58700"/><path d="M567.3,755.8C502.8,744.4 459.3,680.5 470.6,613.9" stroke="#00BCD8"/><path d="M468.6,856.5C458.4,789.7 453.6,679.8 457.9,612.3" stroke="#00BA38"/><path d="M433.9,856.9C442.7,789.8 455.5,679.9 462.2,612.6" stroke="#00C0AF"/><path d="M548.3,665.7C494.2,703.8 477.2,687.3 510.5,629.1" stroke="#6BB100"/><path d="M402.8,622.1C428.8,684.2 453.6,679.8 457.9,612.3" stroke="#00BA38"/><path d="M376.7,638.1C417.0,691.4 451.6,679.7 453.7,612.1" stroke="#E58700"/><path d="M552.9,673.3C496.3,707.2 468.6,683.1 491.2,619.6" stroke="#B983FF"/><path d="M331.0,736.0C396.5,735.4 466.7,682.4 487.2,618.2" stroke="#FD61D1"/><path d="M545.1,809.0C492.8,768.3 470.3,683.8 495.2,621.2" stroke="#619CFF"/><path d="M550.0,801.6C495.0,765.0 459.3,680.5 470.6,613.9" stroke="#00BCD8"/><path d="M425.3,855.3C438.9,789.1 470.3,683.8 495.2,621.2" stroke="#619CFF"/><path d="M568.8,742.4C503.5,738.3 451.6,679.7 453.7,612.1" stroke="#E58700"/><path d="M531.3,645.2C486.6,694.6 470.3,683.8 495.2,621.2" stroke="#619CFF"/><path d="M419.2,616.2C436.2,681.5 477.2,687.3 510.5,629.1" stroke="#6BB100"/><path d="M451.3,858.0C450.6,790.3 470.3,683.8 495.2,621.2" stroke="#619CFF"/><path d="M400.5,846.9C427.7,785.3 453.6,679.8 457.9,612.3" stroke="#00BA38"/><path d="M521.3,636.6C482.1,690.7 451.6,679.7 453.7,612.1" stroke="#E58700"/><path d="M331.3,727.0C396.6,731.4 453.6,679.8 457.9,612.3" stroke="#00BA38"/><path d="M365.1,821.2C411.8,773.8 463.0,681.3 479.0,615.7" stroke="#E76BF3"/><path d="M523.8,831.5C483.2,778.4 461.2,680.9 474.8,614.7" stroke="#00B0F6"/><path d="M455.6,857.9C452.5,790.3 453.6,679.8 457.9,612.3" stroke="#00BA38"/><path d="M342.7,788.2C401.7,758.9 466.7,682.4 487.2,618.2" stroke="#FD61D1"/><path d="M337.7,775.7C399.5,753.3 472.1,684.6 499.1,623.0" stroke="#FF67A4"/>
</g>
<circle cx="449.4" cy="612.0" r="1.7" fill="#f3cac9"/>
<circle cx="445.0" cy="612.1" r="1.7" fill="#f7dcdb"/>
<circle cx="440.7" cy="612.4" r="1.7" fill="#f9e5e4"/>
<circle cx="436.3" cy="612.8" r="1.7" fill="#f3cac9"/>
<circle cx="432.0" cy="613.4" r="1.7" fill="#f1c2c0"/>
<circle cx="427.7" cy="614.2" r="1.7" fill="#f1c2c0"/>
<circle cx="423.5" cy="615.1" r="1.7" fill="#f3cac9"/>
<circle cx="419.2" cy="616.2" r="1.7" fill="#f7dcdb"/>
<circle cx="415.1" cy="617.4" r="1.7" fill="#dbe5f2"/>
<circle cx="410.9" cy="618.8" r="1.7" fill="#c9d9ec"/>
<circle cx="406.8" cy="620.4" r="1.7" fill="#f5d3d2"/>
<circle cx="402.8" cy="622.1" r="1.7" fill="#de7370"/>
<circle cx="398.8" cy="623.9" r="1.7" fill="#f1c2c0"/>
<circle cx="395.0" cy="626.0" r="1.7" fill="#e4ecf6"/>
<circle cx="391.1" cy="628.1" r="1.7" fill="#f9e5e4"/>
<circle cx="387.4" cy="630.4" r="1.7" fill="#f7dcdb"/>
<circle cx="383.7" cy="632.8" r="1.7" fill="#f1c2c0"/>
<circle cx="380.2" cy="635.4" r="1.7" fill="#f1c2c0"/>
<circle cx="376.7" cy="638.1" r="1.7" fill="#dbe5f2"/>
<circle cx="373.3" cy="641.0" r="1.7" fill="#f3cac9"/>
<circle cx="370.0" cy="643.9" r="1.7" fill="#f9e5e4"/>
<circle cx="366.8" cy="647.0" r="1.7" fill="#dbe5f2"/>
<circle cx="363.8" cy="650.2" r="1.7" fill="#dbe5f2"/>
<circle cx="360.8" cy="653.5" r="1.7" fill="#f5d3d2"/>
<circle cx="358.0" cy="657.0" r="1.7" fill="#f9e5e4"/>
<circle cx="355.3" cy="660.5" r="1.7" fill="#f3cac9"/>
<circle cx="352.7" cy="664.1" r="1.7" fill="#e4ecf6"/>
<circle cx="350.3" cy="667.8" r="1.7" fill="#f9e5e4"/>
<circle cx="348.0" cy="671.7" r="1.7" fill="#f1c2c0"/>
<circle cx="345.8" cy="675.6" r="1.7" fill="#f3cac9"/>
<circle cx="343.8" cy="679.5" r="1.7" fill="#f9e5e4"/>
<circle cx="341.9" cy="683.6" r="1.7" fill="#dbe5f2"/>
<circle cx="340.1" cy="687.7" r="1.7" fill="#fbeeed"/>
<circle cx="338.5" cy="691.9" r="1.7" fill="#dbe5f2"/>
<circle cx="337.1" cy="696.1" r="1.7" fill="#f5d3d2"/>
<circle cx="335.8" cy="700.4" r="1.7" fill="#f1c2c0"/>
<circle cx="334.6" cy="704.8" r="1.7" fill="#e4ecf6"/>
<circle cx="333.7" cy="709.2" r="1.7" fill="#f7dcdb"/>
<circle cx="332.8" cy="713.6" r="1.7" fill="#f3cac9"/>
<circle cx="332.1" cy="718.0" r="1.7" fill="#f9e5e4"/>
<circle cx="331.6" cy="722.5" r="1.7" fill="#de7370"/>
<circle cx="331.3" cy="727.0" r="1.7" fill="#c9d9ec"/>
<circle cx="331.0" cy="731.5" r="1.7" fill="#de7370"/>
<circle cx="331.0" cy="736.0" r="1.7" fill="#f7dcdb"/>
<circle cx="331.1" cy="740.5" r="1.7" fill="#fbeeed"/>
<circle cx="331.4" cy="745.0" r="1.7" fill="#f7dcdb"/>
<circle cx="331.8" cy="749.4" r="1.7" fill="#fbeeed"/>
<circle cx="332.4" cy="753.9" r="1.7" fill="#c9d9ec"/>
<circle cx="333.2" cy="758.3" r="1.7" fill="#f5d3d2"/>
<circle cx="334.1" cy="762.7" r="1.7" fill="#c9d9ec"/>
<circle cx="335.1" cy="767.1" r="1.7" fill="#f7dcdb"/>
<circle cx="336.3" cy="771.4" r="1.7" fill="#f5d3d2"/>
<circle cx="337.7" cy="775.7" r="1.7" fill="#fbeeed"/>
<circle cx="339.2" cy="779.9" r="1.7" fill="#e4ecf6"/>
<circle cx="340.9" cy="784.1" r="1.7" fill="#fbeeed"/>
<circle cx="342.7" cy="788.2" r="1.7" fill="#e4ecf6"/>
<circle cx="344.6" cy="792.2" r="1.7" fill="#e4ecf6"/>
<circle cx="346.7" cy="796.1" r="1.7" fill="#fbeeed"/>
<circle cx="349.0" cy="800.0" r="1.7" fill="#f9e5e4"/>
<circle cx="351.3" cy="803.8" r="1.7" fill="#e4ecf6"/>
<circle cx="353.8" cy="807.5" r="1.7" fill="#f1c2c0"/>
<circle cx="356.5" cy="811.0" r="1.7" fill="#dbe5f2"/>
<circle cx="359.2" cy="814.5" r="1.7" fill="#fbeeed"/>
<circle cx="362.1" cy="817.9" r="1.7" fill="#fbeeed"/>
<circle cx="365.1" cy="821.2" r="1.7" fill="#f9e5e4"/>
<circle cx="368.2" cy="824.3" r="1.7" fill="#dbe5f2"/>
<circle cx="371.4" cy="827.4" r="1.7" fill="#f3cac9"/>
<circle cx="374.7" cy="830.3" r="1.7" fill="#fbeeed"/>
<circle cx="378.2" cy="833.1" r="1.7" fill="#fbeeed"/>
<circle cx="381.7" cy="835.7" r="1.7" fill="#f3cac9"/>
<circle cx="385.3" cy="838.2" r="1.7" fill="#f9e5e4"/>
<circle cx="389.0" cy="840.6" r="1.7" fill="#fbeeed"/>
<circle cx="392.8" cy="842.8" r="1.7" fill="#f5d3d2"/>
<circle cx="396.6" cy="844.9" r="1.7" fill="#fbeeed"/>
<circle cx="400.5" cy="846.9" r="1.7" fill="#f7dcdb"/>
<circle cx="404.5" cy="848.7" r="1.7" fill="#f7dcdb"/>
<circle cx="408.6" cy="850.3" r="1.7" fill="#fbeeed"/>
<circle cx="412.7" cy="851.8" r="1.7" fill="#f1c2c0"/>
<circle cx="416.9" cy="853.1" r="1.7" fill="#dbe5f2"/>
<circle cx="421.1" cy="854.3" r="1.7" fill="#de7370"/>
<circle cx="425.3" cy="855.3" r="1.7" fill="#f5d3d2"/>
<circle cx="429.6" cy="856.2" r="1.7" fill="#f5d3d2"/>
<circle cx="433.9" cy="856.9" r="1.7" fill="#f9e5e4"/>
<circle cx="438.2" cy="857.4" r="1.7" fill="#f9e5e4"/>
<circle cx="442.5" cy="857.8" r="1.7" fill="#c9d9ec"/>
<circle cx="446.9" cy="858.0" r="1.7" fill="#f5d3d2"/>
<circle cx="451.3" cy="858.0" r="1.7" fill="#fbeeed"/>
<circle cx="455.6" cy="857.9" r="1.7" fill="#f7dcdb"/>
<circle cx="459.9" cy="857.6" r="1.7" fill="#f1c2c0"/>
<circle cx="464.3" cy="857.1" r="1.7" fill="#f1c2c0"/>
<circle cx="468.6" cy="856.5" r="1.7" fill="#dbe5f2"/>
<circle cx="472.9" cy="855.7" r="1.7" fill="#c9d9ec"/>
<circle cx="477.1" cy="854.8" r="1.7" fill="#f5d3d2"/>
<circle cx="481.4" cy="853.7" r="1.7" fill="#f5d3d2"/>
<circle cx="485.5" cy="852.4" r="1.7" fill="#dbe5f2"/>
<circle cx="489.7" cy="851.0" r="1.7" fill="#e4ecf6"/>
<circle cx="493.7" cy="849.4" r="1.7" fill="#f5d3d2"/>
<circle cx="497.8" cy="847.7" r="1.7" fill="#c9d9ec"/>
<circle cx="501.7" cy="845.8" r="1.7" fill="#f5d3d2"/>
<circle cx="505.6" cy="843.7" r="1.7" fill="#f7dcdb"/>
<circle cx="509.4" cy="841.6" r="1.7" fill="#f7dcdb"/>
<circle cx="513.1" cy="839.3" r="1.7" fill="#fbeeed"/>
<circle cx="516.8" cy="836.8" r="1.7" fill="#de7370"/>
<circle cx="520.4" cy="834.2" r="1.7" fill="#f3cac9"/>
<circle cx="523.8" cy="831.5" r="1.7" fill="#e4ecf6"/>
<circle cx="527.2" cy="828.6" r="1.7" fill="#f5d3d2"/>
<circle cx="530.4" cy="825.6" r="1.7" fill="#f9e5e4"/>
<circle cx="533.6" cy="822.5" r="1.7" fill="#de7370"/>
<circle cx="536.6" cy="819.3" r="1.7" fill="#dbe5f2"/>
<circle cx="539.6" cy="816.0" r="1.7" fill="#f9e5e4"/>
<circle cx="542.4" cy="812.5" r="1.7" fill="#f1c2c0"/>
<circle cx="545.1" cy="809.0" r="1.7" fill="#fbeeed"/>
<circle cx="547.6" cy="805.4" r="1.7" fill="#f7dcdb"/>
<circle cx="550.0" cy="801.6" r="1.7" fill="#f1c2c0"/>
<circle cx="552.3" cy="797.8" r="1.7" fill="#f5d3d2"/>
<circle cx="554.5" cy="793.9" r="1.7" fill="#f3cac9"/>
<circle cx="556.5" cy="789.9" r="1.7" fill="#f1c2c0"/>
<circle cx="558.4" cy="785.8" r="1.7" fill="#fbeeed"/>
<circle cx="560.1" cy="781.7" r="1.7" fill="#f1c2c0"/>
<circle cx="561.7" cy="777.5" r="1.7" fill="#f3cac9"/>
<circle cx="563.1" cy="773.2" r="1.7" fill="#de7370"/>
<circle cx="564.4" cy="768.9" r="1.7" fill="#f5d3d2"/>
<circle cx="565.5" cy="764.6" r="1.7" fill="#f1c2c0"/>
<circle cx="566.5" cy="760.2" r="1.7" fill="#f3cac9"/>
<circle cx="567.3" cy="755.8" r="1.7" fill="#f9e5e4"/>
<circle cx="567.9" cy="751.3" r="1.7" fill="#fbeeed"/>
<circle cx="568.4" cy="746.9" r="1.7" fill="#c9d9ec"/>
<circle cx="568.8" cy="742.4" r="1.7" fill="#f5d3d2"/>
<circle cx="569.0" cy="737.9" r="1.7" fill="#fbeeed"/>
<circle cx="569.0" cy="733.4" r="1.7" fill="#dbe5f2"/>
<circle cx="568.9" cy="728.9" r="1.7" fill="#f7dcdb"/>
<circle cx="568.6" cy="724.4" r="1.7" fill="#f5d3d2"/>
<circle cx="568.1" cy="719.9" r="1.7" fill="#f3cac9"/>
<circle cx="567.5" cy="715.5" r="1.7" fill="#f3cac9"/>
<circle cx="566.7" cy="711.0" r="1.7" fill="#f9e5e4"/>
<circle cx="565.8" cy="706.6" r="1.7" fill="#c9d9ec"/>
<circle cx="564.7" cy="702.3" r="1.7" fill="#f9e5e4"/>
<circle cx="563.5" cy="698.0" r="1.7" fill="#dbe5f2"/>
<circle cx="562.1" cy="693.7" r="1.7" fill="#f7dcdb"/>
<circle cx="560.6" cy="689.5" r="1.7" fill="#fbeeed"/>
<circle cx="558.9" cy="685.3" r="1.7" fill="#f1c2c0"/>
<circle cx="557.0" cy="681.3" r="1.7" fill="#de7370"/>
<circle cx="555.1" cy="677.2" r="1.7" fill="#c9d9ec"/>
<circle cx="552.9" cy="673.3" r="1.7" fill="#e4ecf6"/>
<circle cx="550.7" cy="669.5" r="1.7" fill="#fbeeed"/>
<circle cx="548.3" cy="665.7" r="1.7" fill="#e4ecf6"/>
<circle cx="545.8" cy="662.0" r="1.7" fill="#f1c2c0"/>
<circle cx="543.1" cy="658.4" r="1.7" fill="#f3cac9"/>
<circle cx="540.4" cy="655.0" r="1.7" fill="#fbeeed"/>
<circle cx="537.5" cy="651.6" r="1.7" fill="#fbeeed"/>
<circle cx="534.5" cy="648.4" r="1.7" fill="#dbe5f2"/>
<circle cx="531.3" cy="645.2" r="1.7" fill="#de7370"/>
<circle cx="528.1" cy="642.2" r="1.7" fill="#c9d9ec"/>
<circle cx="524.8" cy="639.3" r="1.7" fill="#de7370"/>
<circle cx="521.3" cy="636.6" r="1.7" fill="#f5d3d2"/>
<circle cx="517.8" cy="633.9" r="1.7" fill="#f9e5e4"/>
<circle cx="514.2" cy="631.4" r="1.7" fill="#f9e5e4"/>
<text class="n k" x="428.9" y="612.1" font-size="5.1" text-anchor="middle">Map7</text>
<text class="n k" x="413.1" y="614.7" font-size="5.1" text-anchor="middle">Parp4</text>
<text class="n k" x="397.7" y="616.8" font-size="5.1" text-anchor="middle">Clip1</text>
<text class="n k" x="414.9" y="625.2" font-size="5.1" text-anchor="middle">Clip2</text>
<text class="n k" x="393.0" y="623.1" font-size="5.1" text-anchor="middle">Myh9</text>
<text class="n k" x="375.1" y="623.1" font-size="5.1" text-anchor="middle">C2cd2l</text>
<text class="n k" x="380.7" y="630.1" font-size="5.1" text-anchor="middle">Tpm4</text>
<text class="n k" x="403.5" y="632.8" font-size="5.1" text-anchor="middle">Cdc42se1</text>
<text class="n k" x="367.6" y="636.6" font-size="5.1" text-anchor="middle">Map2k2</text>
<text class="n k" x="392.1" y="639.2" font-size="5.1" text-anchor="middle">Gpsm1</text>
<text class="n k" x="362.7" y="642.7" font-size="5.1" text-anchor="middle">Astn4</text>
<text class="n k" x="378.4" y="645.9" font-size="5.1" text-anchor="middle">Akt2</text>
<text class="n k" x="353.9" y="650.1" font-size="5.1" text-anchor="middle">Capza2</text>
<text class="n k" x="374.6" y="652.7" font-size="5.1" text-anchor="middle">Sh3bp1</text>
<text class="n k" x="348.3" y="656.4" font-size="5.1" text-anchor="middle">Hapln2</text>
<text class="n k" x="364.1" y="659.0" font-size="5.1" text-anchor="middle">Nel</text>
<text class="n k" x="343.9" y="662.5" font-size="5.1" text-anchor="middle">Trim46</text>
<text class="n k" x="362.3" y="666.4" font-size="5.1" text-anchor="middle">Robo2</text>
<text class="n k" x="338.7" y="669.5" font-size="5.1" text-anchor="middle">Camk2d</text>
<text class="n k" x="336.9" y="676.4" font-size="5.1" text-anchor="middle">Rtn4r</text>
<text class="n k" x="353.5" y="678.3" font-size="5.1" text-anchor="middle">Dag1</text>
<text class="n k" x="333.4" y="683.0" font-size="5.1" text-anchor="middle">Wdr47</text>
<text class="n k" x="351.3" y="686.4" font-size="5.1" text-anchor="middle">Snx18</text>
<text class="n k" x="329.2" y="689.4" font-size="5.1" text-anchor="middle">Fkbp15</text>
<text class="n k" x="347.1" y="697.9" font-size="5.1" text-anchor="middle">Myh10</text>
<text class="n k" x="342.4" y="704.2" font-size="5.1" text-anchor="middle">Nrp1</text>
<text class="n k" x="327.5" y="706.0" font-size="5.1" text-anchor="middle">Npy</text>
<text class="n k" x="352.9" y="710.7" font-size="5.1" text-anchor="middle">Rasgrf1</text>
<text class="n k" x="330.7" y="713.3" font-size="5.1" text-anchor="middle">Cacna1d</text>
<text class="n k" x="348.5" y="719.5" font-size="5.1" text-anchor="middle">Rimbp2</text>
<text class="n k" x="326.1" y="723.0" font-size="5.1" text-anchor="middle">Atp2b4</text>
<text class="n k" x="345.6" y="727.9" font-size="5.1" text-anchor="middle">Flot2</text>
<text class="n k" x="328.9" y="734.4" font-size="5.1" text-anchor="middle">Tubb2b</text>
<text class="n k" x="345.9" y="741.0" font-size="5.1" text-anchor="middle">Sympo</text>
<text class="n k" x="325.4" y="744.0" font-size="5.1" text-anchor="middle">Pcdh8</text>
<text class="n k" x="348.2" y="747.5" font-size="5.1" text-anchor="middle">Rock2</text>
<text class="n k" x="329.6" y="753.6" font-size="5.1" text-anchor="middle">Ppp3ca</text>
<text class="n k" x="343.6" y="759.8" font-size="5.1" text-anchor="middle">Cask</text>
<text class="n k" x="325.4" y="762.9" font-size="5.1" text-anchor="middle">Sec13</text>
<text class="n k" x="328.4" y="769.7" font-size="5.1" text-anchor="middle">Sec31a</text>
<text class="n k" x="352.0" y="769.7" font-size="5.1" text-anchor="middle">Dync1i1</text>
<text class="n k" x="345.9" y="777.2" font-size="5.1" text-anchor="middle">Wdr7</text>
<text class="n k" x="331.9" y="779.3" font-size="5.1" text-anchor="middle">Stx6</text>
<text class="n k" x="328.4" y="786.3" font-size="5.1" text-anchor="middle">Syngr3</text>
<text class="n k" x="352.9" y="786.8" font-size="5.1" text-anchor="middle">Slc17a7</text>
<text class="n k" x="337.2" y="793.3" font-size="5.1" text-anchor="middle">Apc</text>
<text class="n k" x="357.0" y="794.7" font-size="5.1" text-anchor="middle">Ptprn2</text>
<text class="n k" x="339.4" y="800.9" font-size="5.1" text-anchor="middle">Cdk16</text>
<text class="n k" x="361.2" y="801.8" font-size="5.1" text-anchor="middle">Atp8a1</text>
<text class="n k" x="345.0" y="808.8" font-size="5.1" text-anchor="middle">Wfs1</text>
<text class="n k" x="365.2" y="808.8" font-size="5.1" text-anchor="middle">Atp6v1d</text>
<text class="n k" x="345.0" y="815.8" font-size="5.1" text-anchor="middle">Rab11b</text>
<text class="n k" x="333.0" y="822.6" font-size="5.1" text-anchor="middle">Slc32a1</text>
<text class="n k" x="358.0" y="822.6" font-size="5.1" text-anchor="middle">Kif1a</text>
<text class="n k" x="360.8" y="828.7" font-size="5.1" text-anchor="middle">Slc18a3</text>
<text class="n k" x="369.6" y="834.2" font-size="5.1" text-anchor="middle">Atp2b1</text>
<text class="n k" x="397.6" y="837.7" font-size="5.1" text-anchor="middle">Atp5pd</text>
<text class="n k" x="356.4" y="842.0" font-size="5.1" text-anchor="middle">Cdh10</text>
<text class="n k" x="376.6" y="842.0" font-size="5.1" text-anchor="middle">Pdcd6ip</text>
<text class="n k" x="403.7" y="844.1" font-size="5.1" text-anchor="middle">Sirt2</text>
<text class="n k" x="367.8" y="848.2" font-size="5.1" text-anchor="middle">Plxb1</text>
<text class="n k" x="387.1" y="848.2" font-size="5.1" text-anchor="middle">Tagln3</text>
<text class="n k" x="421.2" y="851.1" font-size="5.1" text-anchor="middle">Gdi2</text>
<text class="n k" x="402.0" y="853.3" font-size="5.1" text-anchor="middle">Dlat</text>
<text class="n k" x="385.3" y="854.7" font-size="5.1" text-anchor="middle">Tubb4a</text>
<text class="n k" x="415.1" y="859.6" font-size="5.1" text-anchor="middle">Tppp</text>
<text class="n k" x="420.4" y="866.6" font-size="5.1" text-anchor="middle">Enno</text>
<text class="n k" x="440.1" y="854.1" font-size="5.1" text-anchor="middle">Mif</text>
<text class="n k" x="453.3" y="854.5" font-size="5.1" text-anchor="middle">Prdx3</text>
<text class="n k" x="437.5" y="862.9" font-size="5.1" text-anchor="middle">Plpna</text>
<text class="n k" x="458.2" y="862.9" font-size="5.1" text-anchor="middle">Mag</text>
<text class="n k" x="467.0" y="853.3" font-size="5.1" text-anchor="middle">Cnp</text>
<text class="n k" x="472.2" y="862.0" font-size="5.1" text-anchor="middle">Eno2</text>
<text class="n k" x="481.3" y="849.4" font-size="5.1" text-anchor="middle">Mdh2</text>
<text class="n k" x="486.6" y="862.9" font-size="5.1" text-anchor="middle">Tcp1</text>
<text class="n k" x="491.5" y="856.4" font-size="5.1" text-anchor="middle">Gst2</text>
<text class="n k" x="495.7" y="844.5" font-size="5.1" text-anchor="middle">Gfap</text>
<text class="n k" x="512.0" y="851.9" font-size="5.1" text-anchor="middle">Cntnap1</text>
<text class="n k" x="502.3" y="838.0" font-size="5.1" text-anchor="middle">Dpysl2</text>
<text class="n k" x="517.2" y="845.0" font-size="5.1" text-anchor="middle">Rbmx</text>
<text class="n k" x="512.3" y="830.6" font-size="5.1" text-anchor="middle">Plxnc1</text>
<text class="n k" x="525.1" y="838.0" font-size="5.1" text-anchor="middle">Map1a</text>
<text class="n k" x="535.6" y="843.6" font-size="5.1" text-anchor="middle">Grm3</text>
<text class="n k" x="522.8" y="823.8" font-size="5.1" text-anchor="middle">Chtn3</text>
<text class="n k" x="527.3" y="816.8" font-size="5.1" text-anchor="middle">Atp1a1</text>
<text class="n k" x="535.4" y="809.5" font-size="5.1" text-anchor="middle">Sh2d5</text>
<text class="n k" x="540.5" y="830.2" font-size="5.1" text-anchor="middle">Cacng8</text>
<text class="n k" x="544.5" y="824.1" font-size="5.1" text-anchor="middle">Mpdz</text>
<text class="n k" x="549.4" y="816.8" font-size="5.1" text-anchor="middle">Slc4a8</text>
<text class="n k" x="555.3" y="809.9" font-size="5.1" text-anchor="middle">Adgra1</text>
<text class="n k" x="556.5" y="802.8" font-size="5.1" text-anchor="middle">Grik4</text>
<text class="n k" x="545.6" y="797.0" font-size="5.1" text-anchor="middle">Tnr</text>
<text class="n k" x="562.3" y="796.3" font-size="5.1" text-anchor="middle">Synpr</text>
<text class="n k" x="563.4" y="789.4" font-size="5.1" text-anchor="middle">Dgkb</text>
<text class="n k" x="551.3" y="785.0" font-size="5.1" text-anchor="middle">Bcr</text>
<text class="n k" x="568.7" y="782.9" font-size="5.1" text-anchor="middle">Plp4</text>
<text class="n k" x="570.6" y="776.0" font-size="5.1" text-anchor="middle">Syn2</text>
<text class="n k" x="552.9" y="771.3" font-size="5.1" text-anchor="middle">Crtc1</text>
<text class="n k" x="571.5" y="769.7" font-size="5.1" text-anchor="middle">Epha7</text>
<text class="n k" x="554.5" y="762.4" font-size="5.1" text-anchor="middle">Kcna4</text>
<text class="n k" x="572.3" y="756.0" font-size="5.1" text-anchor="middle">Tiam1</text>
<text class="n k" x="550.5" y="755.2" font-size="5.1" text-anchor="middle">Arhgap44</text>
<text class="n k" x="571.5" y="748.6" font-size="5.1" text-anchor="middle">Iqsec2</text>
<text class="n k" x="561.3" y="742.1" font-size="5.1" text-anchor="middle">Pir7</text>
<text class="n k" x="557.7" y="735.7" font-size="5.1" text-anchor="middle">Iqsec3</text>
<text class="n k" x="573.4" y="732.1" font-size="5.1" text-anchor="middle">Eps8</text>
<text class="n k" x="558.5" y="729.7" font-size="5.1" text-anchor="middle">Drp2</text>
<text class="n k" x="571.5" y="722.4" font-size="5.1" text-anchor="middle">Grin2b</text>
<text class="n k" x="552.9" y="717.3" font-size="5.1" text-anchor="middle">Rgs14</text>
<text class="n k" x="571.9" y="715.7" font-size="5.1" text-anchor="middle">Adcy8</text>
<text class="n k" x="556.1" y="710.8" font-size="5.1" text-anchor="middle">Nptn</text>
<text class="n k" x="557.4" y="703.9" font-size="5.1" text-anchor="middle">Tnik</text>
<text class="n k" x="552.8" y="697.9" font-size="5.1" text-anchor="middle">Prkcg</text>
<text class="n k" x="568.9" y="697.0" font-size="5.1" text-anchor="middle">Dlg3</text>
<text class="n k" x="550.6" y="690.6" font-size="5.1" text-anchor="middle">Hspa8</text>
<text class="n k" x="568.4" y="687.9" font-size="5.1" text-anchor="middle">Mapk1</text>
<text class="n k" x="545.5" y="684.3" font-size="5.1" text-anchor="middle">Pclo1</text>
<text class="n k" x="562.7" y="678.9" font-size="5.1" text-anchor="middle">Rpl23</text>
<text class="n k" x="544.7" y="677.4" font-size="5.1" text-anchor="middle">Gnk2</text>
<text class="n k" x="555.4" y="670.7" font-size="5.1" text-anchor="middle">Ina</text>
<text class="n k" x="541.8" y="670.7" font-size="5.1" text-anchor="middle">Eif4a</text>
<text class="n k" x="533.8" y="664.6" font-size="5.1" text-anchor="middle">Map1b</text>
<text class="n k" x="549.9" y="658.4" font-size="5.1" text-anchor="middle">Bdnf</text>
<text class="n k" x="529.7" y="657.7" font-size="5.1" text-anchor="middle">Vti1a</text>
<text class="n k" x="543.3" y="651.4" font-size="5.1" text-anchor="middle">Pmp</text>
<text class="n k" x="523.3" y="651.4" font-size="5.1" text-anchor="middle">Syn1</text>
<text class="n k" x="538.2" y="644.9" font-size="5.1" text-anchor="middle">Akap7</text>
<text class="n k" x="517.4" y="644.9" font-size="5.1" text-anchor="middle">Bsn</text>
<text class="n k" x="529.7" y="638.0" font-size="5.1" text-anchor="middle">Bnip3</text>
<text class="n k" x="522.4" y="632.0" font-size="5.1" text-anchor="middle">Exoc4</text>
<circle cx="453.7" cy="612.1" r="5.0" fill="#d9c08c"/>
<circle cx="457.9" cy="612.3" r="5.0" fill="#d9c08c"/>
<circle cx="462.2" cy="612.6" r="4.8" fill="#d9c08c"/>
<circle cx="466.4" cy="613.2" r="4.8" fill="#d9c08c"/>
<circle cx="470.6" cy="613.9" r="4.6" fill="#d9c08c"/>
<circle cx="474.8" cy="614.7" r="4.5" fill="#d9c08c"/>
<circle cx="479.0" cy="615.7" r="4.4" fill="#d9c08c"/>
<circle cx="483.1" cy="616.9" r="4.3" fill="#d9c08c"/>
<circle cx="487.2" cy="618.2" r="4.2" fill="#d9c08c"/>
<circle cx="491.2" cy="619.6" r="4.0" fill="#d9c08c"/>
<circle cx="495.2" cy="621.2" r="3.9" fill="#d9c08c"/>
<circle cx="499.1" cy="623.0" r="3.8" fill="#d9c08c"/>
<circle cx="503.0" cy="624.9" r="3.6" fill="#d9c08c"/>
<circle cx="506.8" cy="626.9" r="3.5" fill="#d9c08c"/>
<circle cx="510.5" cy="629.1" r="3.4" fill="#d9c08c"/>
<text class="n k" x="459.9" y="612.0" font-size="5.2">presynaptic active zone</text>
<text class="n k" x="490.2" y="619.0" font-size="5.2">distal axon</text>
<text class="n k" x="501.9" y="625.3" font-size="5.2">main axon</text>
<text class="n k" x="530.0" y="623.2" font-size="5.2">microtubule</text>
<text class="n k" x="488.6" y="634.2" font-size="5.2">cell cortex</text>
<text class="nb" x="583.3" y="644.5" font-size="4.6" fill="#111">size</text>
<circle cx="586.5" cy="649.9" r="1.9" fill="#000"/>
<text class="n" x="592.3" y="651.4" font-size="4.2" fill="#222">10</text>
<circle cx="586.5" cy="656.5" r="2.4" fill="#000"/>
<text class="n" x="592.3" y="658.0" font-size="4.2" fill="#222">20</text>
<circle cx="586.5" cy="663.1" r="2.9" fill="#000"/>
<text class="n" x="592.3" y="664.6" font-size="4.2" fill="#222">30</text>
<circle cx="586.5" cy="670.3" r="3.4" fill="#000"/>
<text class="n" x="592.3" y="671.8" font-size="4.2" fill="#222">40</text>
<circle cx="586.5" cy="678.5" r="3.9" fill="#000"/>
<text class="n" x="592.3" y="680.0" font-size="4.2" fill="#222">50</text>
<text class="nb" x="583.3" y="689.2" font-size="4.4" fill="#111">log2 (fold change from WT)</text>
<defs><linearGradient id="fcg2" x1="0" x2="0" y1="0" y2="1"><stop offset="0" stop-color="#c4d4ea"/><stop offset="0.3" stop-color="#f6f4f6"/><stop offset="1" stop-color="#d6504c"/></linearGradient></defs>
<rect x="583.30" y="691.00" width="5.30" height="33.00" fill="url(#fcg2)"/>
<text class="n" x="592.0" y="703.0" font-size="4.2" fill="#222">0.0</text>
<text class="n" x="592.0" y="715.7" font-size="4.2" fill="#222">−0.5</text>
<text class="nb" x="583.3" y="731.0" font-size="4.8" fill="#111">category</text>
<line x1="583.8" y1="737.3" x2="588.3" y2="737.3" stroke="#F8766D" stroke-width="0.7" stroke-opacity="0.7"/>
<text class="n" x="591.3" y="738.8" font-size="4.2" fill="#222">asymmetric synapse</text>
<line x1="583.8" y1="745.2" x2="588.3" y2="745.2" stroke="#E58700" stroke-width="0.7" stroke-opacity="0.7"/>
<text class="n" x="591.3" y="746.7" font-size="4.2" fill="#222">cell cortex</text>
<line x1="583.8" y1="753.1" x2="588.3" y2="753.1" stroke="#C99800" stroke-width="0.7" stroke-opacity="0.7"/>
<text class="n" x="591.3" y="754.6" font-size="4.2" fill="#222">distal axon</text>
<line x1="583.8" y1="760.9" x2="588.3" y2="760.9" stroke="#A3A500" stroke-width="0.7" stroke-opacity="0.7"/>
<text class="n" x="591.3" y="762.4" font-size="4.2" fill="#222">exocytic vesicle</text>
<line x1="583.8" y1="768.8" x2="588.3" y2="768.8" stroke="#6BB100" stroke-width="0.7" stroke-opacity="0.7"/>
<text class="n" x="591.3" y="770.3" font-size="4.2" fill="#222">main axon</text>
<line x1="583.8" y1="776.7" x2="588.3" y2="776.7" stroke="#00BA38" stroke-width="0.7" stroke-opacity="0.7"/>
<text class="n" x="591.3" y="778.2" font-size="4.2" fill="#222">microtubule</text>
<line x1="583.8" y1="784.6" x2="588.3" y2="784.6" stroke="#00BF7D" stroke-width="0.7" stroke-opacity="0.7"/>
<text class="n" x="591.3" y="786.1" font-size="4.2" fill="#222">myelin sheath</text>
<line x1="583.8" y1="792.5" x2="588.3" y2="792.5" stroke="#00C0AF" stroke-width="0.7" stroke-opacity="0.7"/>
<text class="n" x="591.3" y="794.0" font-size="4.2" fill="#222">neuron to neuron synapse</text>
<line x1="583.8" y1="800.3" x2="588.3" y2="800.3" stroke="#00BCD8" stroke-width="0.7" stroke-opacity="0.7"/>
<text class="n" x="591.3" y="801.8" font-size="4.2" fill="#222">postsynaptic density</text>
<line x1="583.8" y1="808.2" x2="588.3" y2="808.2" stroke="#00B0F6" stroke-width="0.7" stroke-opacity="0.7"/>
<text class="n" x="591.3" y="809.7" font-size="4.2" fill="#222">postsynaptic specialization</text>
<line x1="583.8" y1="816.1" x2="588.3" y2="816.1" stroke="#619CFF" stroke-width="0.7" stroke-opacity="0.7"/>
<text class="n" x="591.3" y="817.6" font-size="4.2" fill="#222">presynaptic active zone</text>
<line x1="583.8" y1="824.0" x2="588.3" y2="824.0" stroke="#B983FF" stroke-width="0.7" stroke-opacity="0.7"/>
<text class="n" x="591.3" y="825.5" font-size="4.2" fill="#222">Schaffer collateral − CA1</text>
<line x1="583.8" y1="831.9" x2="588.3" y2="831.9" stroke="#E76BF3" stroke-width="0.7" stroke-opacity="0.7"/>
<text class="n" x="591.3" y="833.4" font-size="4.2" fill="#222">synapse synaptic vesicle</text>
<line x1="583.8" y1="839.7" x2="588.3" y2="839.7" stroke="#FD61D1" stroke-width="0.7" stroke-opacity="0.7"/>
<text class="n" x="591.3" y="841.2" font-size="4.2" fill="#222">transport vesicle</text>
<line x1="583.8" y1="847.6" x2="588.3" y2="847.6" stroke="#FF67A4" stroke-width="0.7" stroke-opacity="0.7"/>
<text class="n" x="591.3" y="849.1" font-size="4.2" fill="#222">transport vesicle membrane</text>
</svg></body></html>
